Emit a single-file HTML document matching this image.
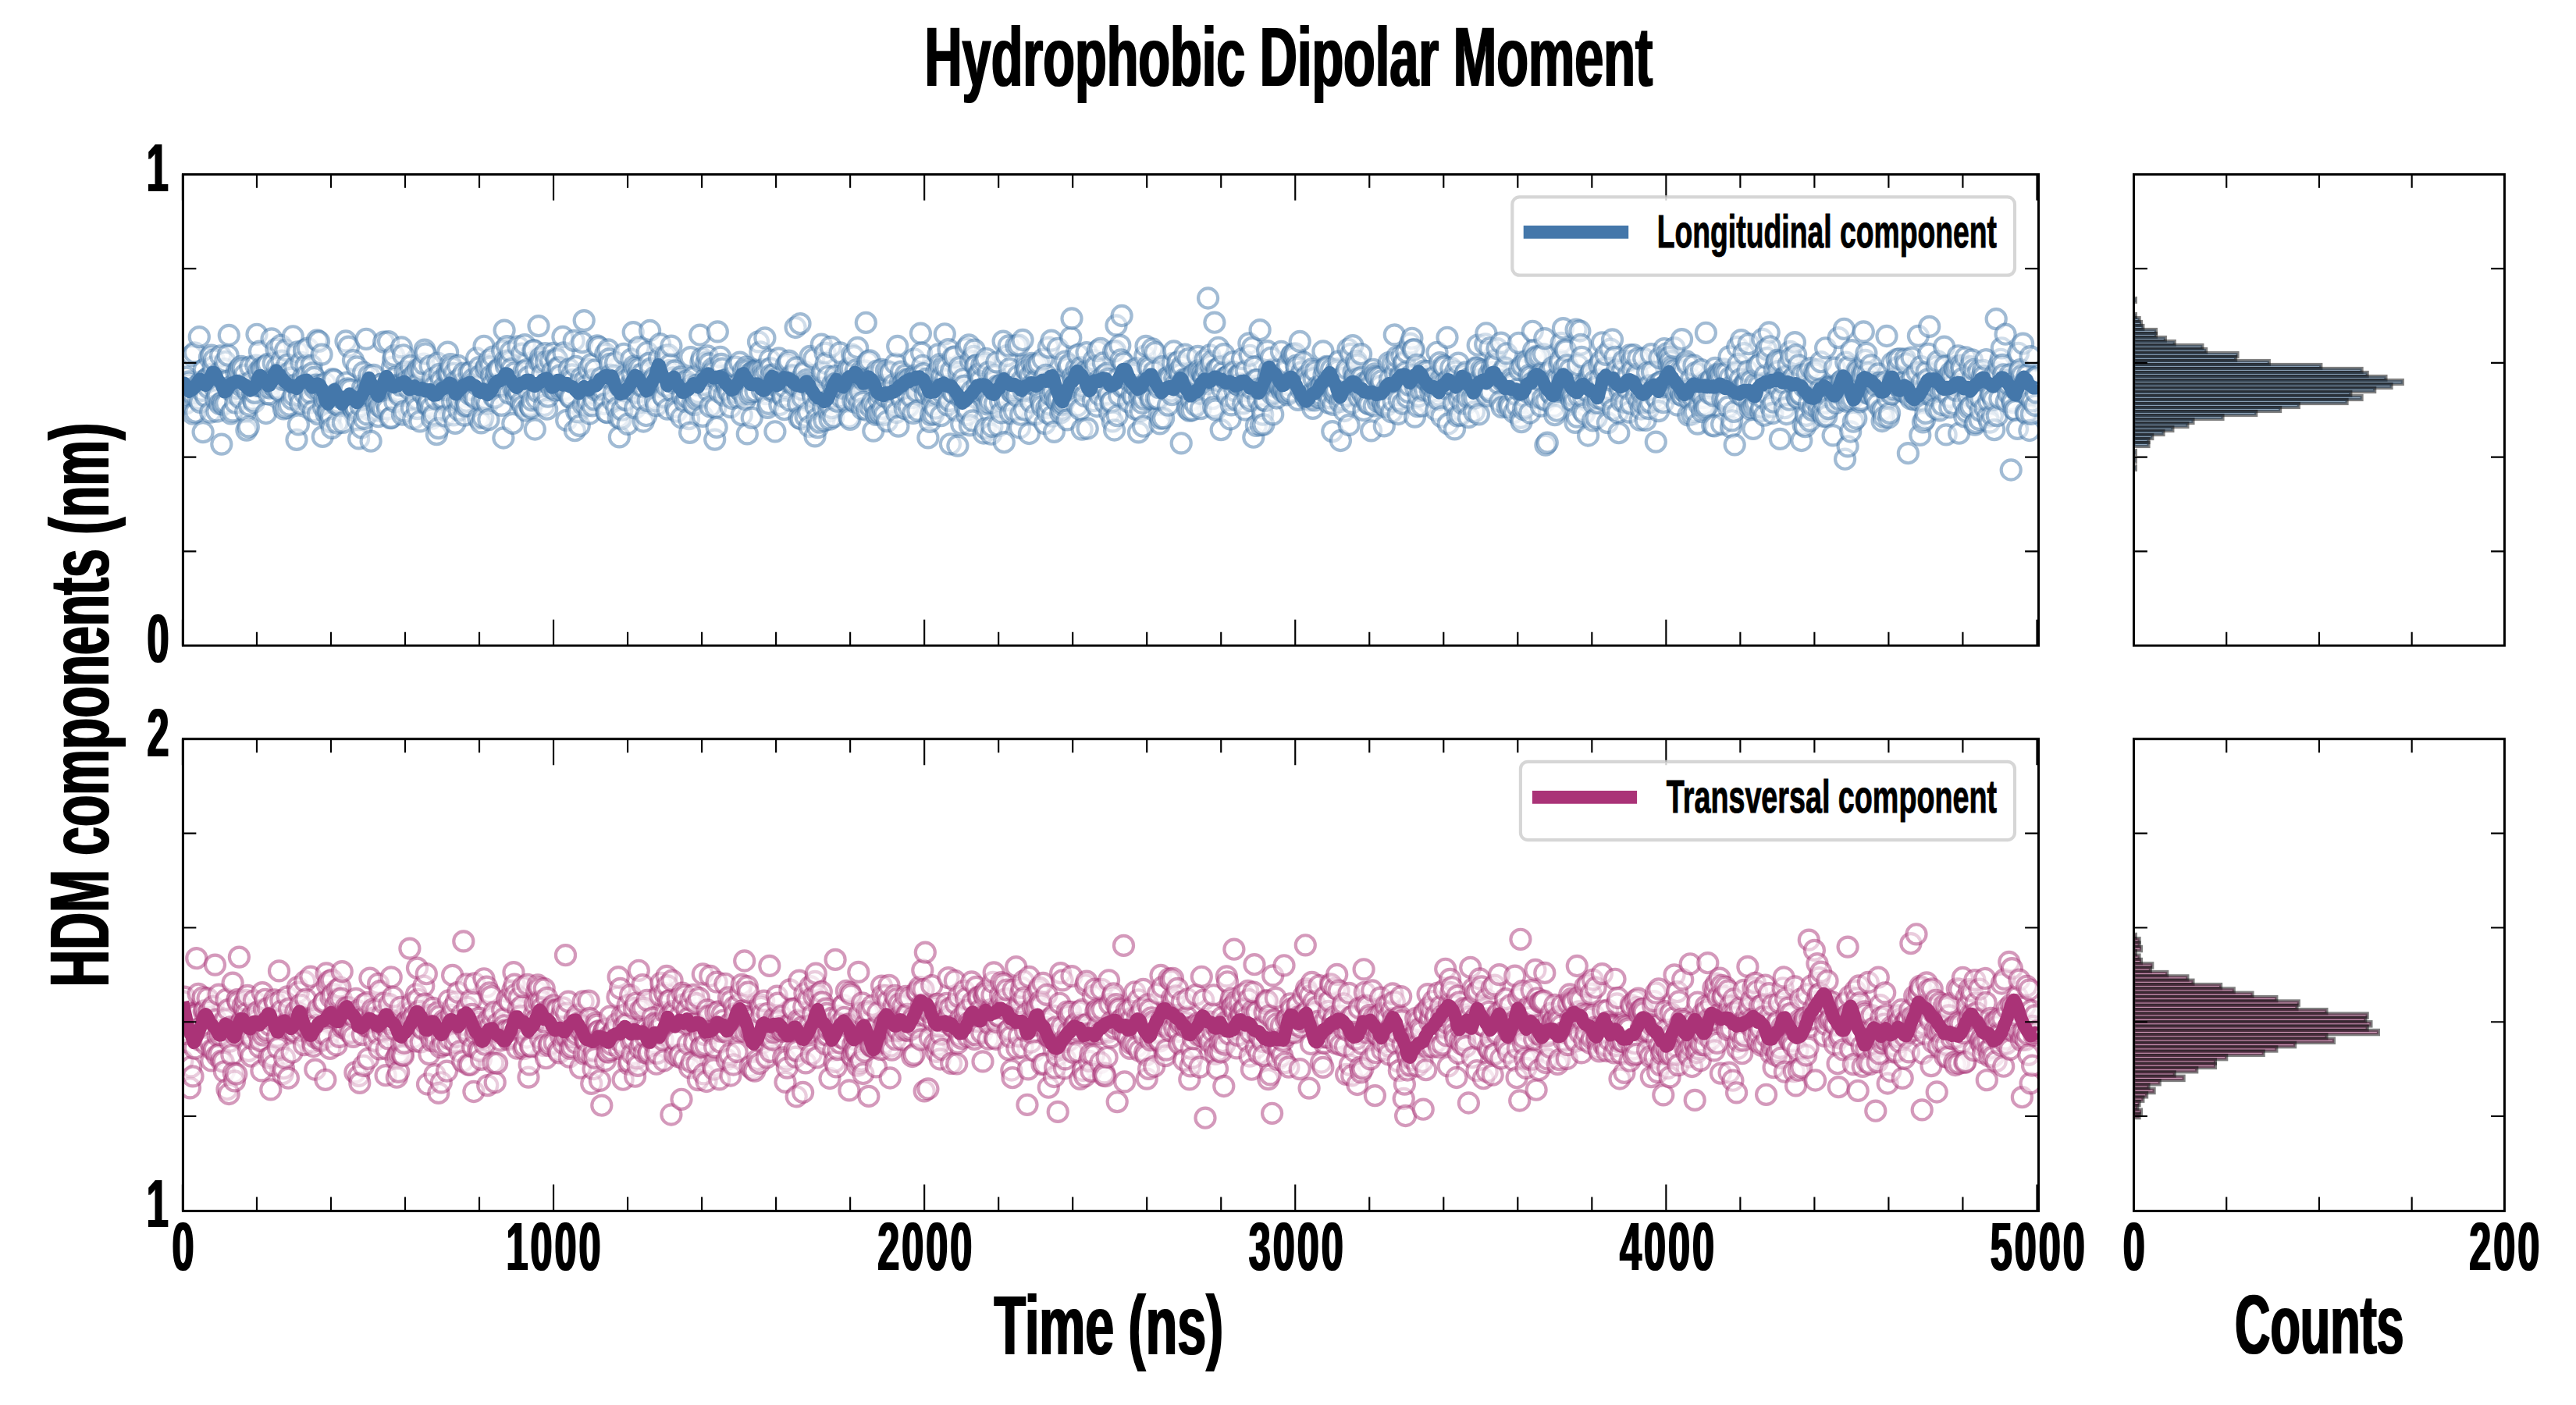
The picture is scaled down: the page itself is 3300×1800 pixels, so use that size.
<!DOCTYPE html>
<html><head><meta charset="utf-8"><title>Hydrophobic Dipolar Moment</title>
<style>html,body{margin:0;padding:0;background:#fff}body{width:3300px;height:1800px;overflow:hidden}svg{display:block}</style></head>
<body>
<svg width="3300" height="1800" viewBox="0 0 3300 1800" font-family="'Liberation Sans', sans-serif" font-weight="bold" fill="#000">
<rect width="3300" height="1800" fill="#fff"/>
<defs>
<clipPath id="c1"><rect x="233.95" y="223.3" width="2377.55" height="603.8499999999999"/></clipPath>
<clipPath id="c2"><rect x="233.95" y="946.9" width="2377.55" height="603.9"/></clipPath>
<clipPath id="c3"><rect x="2733.5" y="223.3" width="474.9000000000001" height="603.8499999999999"/></clipPath>
<clipPath id="c4"><rect x="2733.5" y="946.9" width="474.9000000000001" height="603.9"/></clipPath>
<filter id="dx" x="-2%" y="-10%" width="104%" height="120%"><feMorphology operator="dilate" radius="1 0"/></filter>
<filter id="dy" x="-10%" y="-2%" width="120%" height="104%"><feMorphology operator="dilate" radius="0 1"/></filter>
</defs>
<g clip-path="url(#c1)" fill="#fff" fill-opacity="0.5" stroke="#4477AA" stroke-opacity="0.5" stroke-width="4.17">
<circle cx="233.9" cy="509.2" r="12.55"/><circle cx="235.1" cy="508.6" r="12.55"/><circle cx="236.3" cy="495.6" r="12.55"/><circle cx="237.5" cy="517.4" r="12.55"/><circle cx="238.7" cy="483.2" r="12.55"/><circle cx="239.9" cy="515.8" r="12.55"/><circle cx="241.1" cy="491.9" r="12.55"/><circle cx="242.3" cy="488.9" r="12.55"/><circle cx="243.5" cy="507.1" r="12.55"/><circle cx="244.6" cy="502.4" r="12.55"/><circle cx="245.8" cy="455.4" r="12.55"/><circle cx="247.0" cy="530.2" r="12.55"/><circle cx="248.2" cy="506.4" r="12.55"/><circle cx="249.4" cy="451.8" r="12.55"/><circle cx="250.6" cy="528.2" r="12.55"/><circle cx="251.8" cy="494.8" r="12.55"/><circle cx="253.0" cy="500.1" r="12.55"/><circle cx="254.1" cy="511.6" r="12.55"/><circle cx="255.3" cy="431.7" r="12.55"/><circle cx="256.5" cy="515.4" r="12.55"/><circle cx="257.7" cy="489.0" r="12.55"/><circle cx="258.9" cy="500.3" r="12.55"/><circle cx="260.1" cy="553.6" r="12.55"/><circle cx="261.3" cy="473.5" r="12.55"/><circle cx="262.5" cy="488.1" r="12.55"/><circle cx="263.6" cy="507.7" r="12.55"/><circle cx="264.8" cy="485.2" r="12.55"/><circle cx="266.0" cy="484.7" r="12.55"/><circle cx="267.2" cy="496.6" r="12.55"/><circle cx="268.4" cy="458.1" r="12.55"/><circle cx="269.6" cy="528.2" r="12.55"/><circle cx="270.8" cy="455.1" r="12.55"/><circle cx="272.0" cy="479.4" r="12.55"/><circle cx="273.1" cy="469.8" r="12.55"/><circle cx="274.3" cy="460.8" r="12.55"/><circle cx="275.5" cy="497.3" r="12.55"/><circle cx="276.7" cy="511.8" r="12.55"/><circle cx="277.9" cy="527.1" r="12.55"/><circle cx="279.1" cy="506.2" r="12.55"/><circle cx="280.3" cy="478.2" r="12.55"/><circle cx="281.5" cy="517.4" r="12.55"/><circle cx="282.6" cy="456.0" r="12.55"/><circle cx="283.8" cy="569.1" r="12.55"/><circle cx="285.0" cy="515.1" r="12.55"/><circle cx="286.2" cy="518.4" r="12.55"/><circle cx="287.4" cy="472.6" r="12.55"/><circle cx="288.6" cy="463.3" r="12.55"/><circle cx="289.8" cy="516.6" r="12.55"/><circle cx="291.0" cy="488.4" r="12.55"/><circle cx="292.1" cy="455.2" r="12.55"/><circle cx="293.3" cy="429.5" r="12.55"/><circle cx="294.5" cy="499.1" r="12.55"/><circle cx="295.7" cy="529.8" r="12.55"/><circle cx="296.9" cy="494.9" r="12.55"/><circle cx="298.1" cy="526.8" r="12.55"/><circle cx="299.3" cy="498.6" r="12.55"/><circle cx="300.5" cy="504.4" r="12.55"/><circle cx="301.7" cy="516.2" r="12.55"/><circle cx="302.8" cy="477.5" r="12.55"/><circle cx="304.0" cy="497.3" r="12.55"/><circle cx="305.2" cy="478.0" r="12.55"/><circle cx="306.4" cy="472.7" r="12.55"/><circle cx="307.6" cy="509.9" r="12.55"/><circle cx="308.8" cy="469.3" r="12.55"/><circle cx="310.0" cy="494.9" r="12.55"/><circle cx="311.2" cy="472.2" r="12.55"/><circle cx="312.3" cy="492.3" r="12.55"/><circle cx="313.5" cy="480.2" r="12.55"/><circle cx="314.7" cy="527.5" r="12.55"/><circle cx="315.9" cy="551.1" r="12.55"/><circle cx="317.1" cy="501.4" r="12.55"/><circle cx="318.3" cy="546.9" r="12.55"/><circle cx="319.5" cy="519.4" r="12.55"/><circle cx="320.7" cy="469.9" r="12.55"/><circle cx="321.8" cy="488.9" r="12.55"/><circle cx="323.0" cy="502.1" r="12.55"/><circle cx="324.2" cy="512.1" r="12.55"/><circle cx="325.4" cy="515.4" r="12.55"/><circle cx="326.6" cy="503.3" r="12.55"/><circle cx="327.8" cy="468.1" r="12.55"/><circle cx="329.0" cy="428.3" r="12.55"/><circle cx="330.2" cy="494.4" r="12.55"/><circle cx="331.3" cy="475.8" r="12.55"/><circle cx="332.5" cy="450.2" r="12.55"/><circle cx="333.7" cy="494.8" r="12.55"/><circle cx="334.9" cy="471.3" r="12.55"/><circle cx="336.1" cy="473.6" r="12.55"/><circle cx="337.3" cy="494.1" r="12.55"/><circle cx="338.5" cy="496.7" r="12.55"/><circle cx="339.7" cy="469.7" r="12.55"/><circle cx="340.8" cy="529.5" r="12.55"/><circle cx="342.0" cy="468.4" r="12.55"/><circle cx="343.2" cy="466.3" r="12.55"/><circle cx="344.4" cy="504.9" r="12.55"/><circle cx="345.6" cy="497.0" r="12.55"/><circle cx="346.8" cy="492.3" r="12.55"/><circle cx="348.0" cy="434.0" r="12.55"/><circle cx="349.2" cy="485.1" r="12.55"/><circle cx="350.3" cy="465.6" r="12.55"/><circle cx="351.5" cy="487.7" r="12.55"/><circle cx="352.7" cy="497.0" r="12.55"/><circle cx="353.9" cy="447.1" r="12.55"/><circle cx="355.1" cy="470.1" r="12.55"/><circle cx="356.3" cy="498.1" r="12.55"/><circle cx="357.5" cy="478.4" r="12.55"/><circle cx="358.7" cy="501.2" r="12.55"/><circle cx="359.9" cy="442.3" r="12.55"/><circle cx="361.0" cy="462.2" r="12.55"/><circle cx="362.2" cy="486.5" r="12.55"/><circle cx="363.4" cy="523.9" r="12.55"/><circle cx="364.6" cy="479.8" r="12.55"/><circle cx="365.8" cy="448.5" r="12.55"/><circle cx="367.0" cy="522.5" r="12.55"/><circle cx="368.2" cy="467.3" r="12.55"/><circle cx="369.4" cy="488.0" r="12.55"/><circle cx="370.5" cy="519.2" r="12.55"/><circle cx="371.7" cy="476.9" r="12.55"/><circle cx="372.9" cy="484.1" r="12.55"/><circle cx="374.1" cy="511.3" r="12.55"/><circle cx="375.3" cy="430.8" r="12.55"/><circle cx="376.5" cy="506.4" r="12.55"/><circle cx="377.7" cy="470.6" r="12.55"/><circle cx="378.9" cy="492.9" r="12.55"/><circle cx="380.0" cy="563.3" r="12.55"/><circle cx="381.2" cy="450.8" r="12.55"/><circle cx="382.4" cy="543.9" r="12.55"/><circle cx="383.6" cy="506.6" r="12.55"/><circle cx="384.8" cy="517.0" r="12.55"/><circle cx="386.0" cy="464.4" r="12.55"/><circle cx="387.2" cy="489.3" r="12.55"/><circle cx="388.4" cy="483.5" r="12.55"/><circle cx="389.5" cy="448.7" r="12.55"/><circle cx="390.7" cy="504.3" r="12.55"/><circle cx="391.9" cy="468.3" r="12.55"/><circle cx="393.1" cy="481.1" r="12.55"/><circle cx="394.3" cy="446.1" r="12.55"/><circle cx="395.5" cy="516.5" r="12.55"/><circle cx="396.7" cy="511.5" r="12.55"/><circle cx="397.9" cy="503.4" r="12.55"/><circle cx="399.0" cy="468.2" r="12.55"/><circle cx="400.2" cy="478.0" r="12.55"/><circle cx="401.4" cy="526.7" r="12.55"/><circle cx="402.6" cy="483.4" r="12.55"/><circle cx="403.8" cy="498.2" r="12.55"/><circle cx="405.0" cy="493.1" r="12.55"/><circle cx="406.2" cy="436.0" r="12.55"/><circle cx="407.4" cy="530.7" r="12.55"/><circle cx="408.5" cy="437.3" r="12.55"/><circle cx="409.7" cy="499.4" r="12.55"/><circle cx="410.9" cy="493.6" r="12.55"/><circle cx="412.1" cy="454.1" r="12.55"/><circle cx="413.3" cy="559.4" r="12.55"/><circle cx="414.5" cy="521.5" r="12.55"/><circle cx="415.7" cy="511.7" r="12.55"/><circle cx="416.9" cy="491.0" r="12.55"/><circle cx="418.1" cy="530.0" r="12.55"/><circle cx="419.2" cy="511.3" r="12.55"/><circle cx="420.4" cy="527.1" r="12.55"/><circle cx="421.6" cy="528.3" r="12.55"/><circle cx="422.8" cy="540.5" r="12.55"/><circle cx="424.0" cy="533.1" r="12.55"/><circle cx="425.2" cy="548.4" r="12.55"/><circle cx="426.4" cy="485.6" r="12.55"/><circle cx="427.6" cy="486.9" r="12.55"/><circle cx="428.7" cy="515.5" r="12.55"/><circle cx="429.9" cy="517.6" r="12.55"/><circle cx="431.1" cy="504.3" r="12.55"/><circle cx="432.3" cy="542.1" r="12.55"/><circle cx="433.5" cy="515.6" r="12.55"/><circle cx="434.7" cy="519.8" r="12.55"/><circle cx="435.9" cy="509.3" r="12.55"/><circle cx="437.1" cy="508.2" r="12.55"/><circle cx="438.2" cy="505.1" r="12.55"/><circle cx="439.4" cy="541.3" r="12.55"/><circle cx="440.6" cy="499.4" r="12.55"/><circle cx="441.8" cy="500.1" r="12.55"/><circle cx="443.0" cy="437.0" r="12.55"/><circle cx="444.2" cy="490.1" r="12.55"/><circle cx="445.4" cy="497.8" r="12.55"/><circle cx="446.6" cy="444.1" r="12.55"/><circle cx="447.7" cy="516.0" r="12.55"/><circle cx="448.9" cy="499.5" r="12.55"/><circle cx="450.1" cy="514.1" r="12.55"/><circle cx="451.3" cy="521.4" r="12.55"/><circle cx="452.5" cy="461.6" r="12.55"/><circle cx="453.7" cy="525.7" r="12.55"/><circle cx="454.9" cy="520.9" r="12.55"/><circle cx="456.1" cy="523.1" r="12.55"/><circle cx="457.2" cy="469.9" r="12.55"/><circle cx="458.4" cy="538.1" r="12.55"/><circle cx="459.6" cy="561.9" r="12.55"/><circle cx="460.8" cy="507.1" r="12.55"/><circle cx="462.0" cy="520.0" r="12.55"/><circle cx="463.2" cy="547.8" r="12.55"/><circle cx="464.4" cy="497.4" r="12.55"/><circle cx="465.6" cy="477.1" r="12.55"/><circle cx="466.7" cy="536.5" r="12.55"/><circle cx="467.9" cy="503.7" r="12.55"/><circle cx="469.1" cy="434.3" r="12.55"/><circle cx="470.3" cy="530.9" r="12.55"/><circle cx="471.5" cy="492.0" r="12.55"/><circle cx="472.7" cy="481.4" r="12.55"/><circle cx="473.9" cy="496.4" r="12.55"/><circle cx="475.1" cy="565.2" r="12.55"/><circle cx="476.3" cy="500.2" r="12.55"/><circle cx="477.4" cy="501.3" r="12.55"/><circle cx="478.6" cy="480.4" r="12.55"/><circle cx="479.8" cy="495.3" r="12.55"/><circle cx="481.0" cy="513.3" r="12.55"/><circle cx="482.2" cy="518.2" r="12.55"/><circle cx="483.4" cy="525.9" r="12.55"/><circle cx="484.6" cy="533.7" r="12.55"/><circle cx="485.8" cy="516.0" r="12.55"/><circle cx="486.9" cy="521.0" r="12.55"/><circle cx="488.1" cy="492.4" r="12.55"/><circle cx="489.3" cy="491.8" r="12.55"/><circle cx="490.5" cy="523.7" r="12.55"/><circle cx="491.7" cy="438.1" r="12.55"/><circle cx="492.9" cy="497.4" r="12.55"/><circle cx="494.1" cy="500.8" r="12.55"/><circle cx="495.3" cy="517.6" r="12.55"/><circle cx="496.4" cy="523.9" r="12.55"/><circle cx="497.6" cy="437.7" r="12.55"/><circle cx="498.8" cy="497.4" r="12.55"/><circle cx="500.0" cy="535.7" r="12.55"/><circle cx="501.2" cy="535.1" r="12.55"/><circle cx="502.4" cy="470.5" r="12.55"/><circle cx="503.6" cy="460.5" r="12.55"/><circle cx="504.8" cy="455.6" r="12.55"/><circle cx="505.9" cy="514.7" r="12.55"/><circle cx="507.1" cy="483.0" r="12.55"/><circle cx="508.3" cy="493.5" r="12.55"/><circle cx="509.5" cy="500.2" r="12.55"/><circle cx="510.7" cy="503.5" r="12.55"/><circle cx="511.9" cy="506.8" r="12.55"/><circle cx="513.1" cy="493.6" r="12.55"/><circle cx="514.3" cy="444.9" r="12.55"/><circle cx="515.4" cy="531.1" r="12.55"/><circle cx="516.6" cy="454.8" r="12.55"/><circle cx="517.8" cy="526.8" r="12.55"/><circle cx="519.0" cy="476.2" r="12.55"/><circle cx="520.2" cy="489.1" r="12.55"/><circle cx="521.4" cy="480.8" r="12.55"/><circle cx="522.6" cy="486.8" r="12.55"/><circle cx="523.8" cy="497.8" r="12.55"/><circle cx="524.9" cy="491.0" r="12.55"/><circle cx="526.1" cy="468.7" r="12.55"/><circle cx="527.3" cy="522.5" r="12.55"/><circle cx="528.5" cy="482.1" r="12.55"/><circle cx="529.7" cy="536.4" r="12.55"/><circle cx="530.9" cy="494.5" r="12.55"/><circle cx="532.1" cy="478.5" r="12.55"/><circle cx="533.3" cy="510.9" r="12.55"/><circle cx="534.5" cy="523.6" r="12.55"/><circle cx="535.6" cy="473.2" r="12.55"/><circle cx="536.8" cy="490.8" r="12.55"/><circle cx="538.0" cy="539.8" r="12.55"/><circle cx="539.2" cy="471.5" r="12.55"/><circle cx="540.4" cy="474.8" r="12.55"/><circle cx="541.6" cy="504.5" r="12.55"/><circle cx="542.8" cy="466.1" r="12.55"/><circle cx="544.0" cy="448.1" r="12.55"/><circle cx="545.1" cy="453.0" r="12.55"/><circle cx="546.3" cy="511.0" r="12.55"/><circle cx="547.5" cy="519.1" r="12.55"/><circle cx="548.7" cy="517.9" r="12.55"/><circle cx="549.9" cy="512.6" r="12.55"/><circle cx="551.1" cy="468.8" r="12.55"/><circle cx="552.3" cy="522.3" r="12.55"/><circle cx="553.5" cy="536.2" r="12.55"/><circle cx="554.6" cy="484.7" r="12.55"/><circle cx="555.8" cy="531.3" r="12.55"/><circle cx="557.0" cy="495.0" r="12.55"/><circle cx="558.2" cy="510.8" r="12.55"/><circle cx="559.4" cy="556.6" r="12.55"/><circle cx="560.6" cy="465.1" r="12.55"/><circle cx="561.8" cy="548.6" r="12.55"/><circle cx="563.0" cy="479.5" r="12.55"/><circle cx="564.1" cy="500.5" r="12.55"/><circle cx="565.3" cy="487.3" r="12.55"/><circle cx="566.5" cy="511.5" r="12.55"/><circle cx="567.7" cy="509.8" r="12.55"/><circle cx="568.9" cy="495.9" r="12.55"/><circle cx="570.1" cy="533.0" r="12.55"/><circle cx="571.3" cy="499.7" r="12.55"/><circle cx="572.5" cy="477.9" r="12.55"/><circle cx="573.6" cy="451.2" r="12.55"/><circle cx="574.8" cy="478.4" r="12.55"/><circle cx="576.0" cy="478.5" r="12.55"/><circle cx="577.2" cy="466.7" r="12.55"/><circle cx="578.4" cy="470.6" r="12.55"/><circle cx="579.6" cy="514.6" r="12.55"/><circle cx="580.8" cy="531.9" r="12.55"/><circle cx="582.0" cy="478.3" r="12.55"/><circle cx="583.1" cy="542.3" r="12.55"/><circle cx="584.3" cy="488.3" r="12.55"/><circle cx="585.5" cy="513.6" r="12.55"/><circle cx="586.7" cy="468.4" r="12.55"/><circle cx="587.9" cy="525.3" r="12.55"/><circle cx="589.1" cy="512.7" r="12.55"/><circle cx="590.3" cy="484.2" r="12.55"/><circle cx="591.5" cy="497.3" r="12.55"/><circle cx="592.7" cy="491.3" r="12.55"/><circle cx="593.8" cy="478.1" r="12.55"/><circle cx="595.0" cy="532.1" r="12.55"/><circle cx="596.2" cy="520.3" r="12.55"/><circle cx="597.4" cy="514.4" r="12.55"/><circle cx="598.6" cy="519.7" r="12.55"/><circle cx="599.8" cy="493.9" r="12.55"/><circle cx="601.0" cy="477.7" r="12.55"/><circle cx="602.2" cy="505.4" r="12.55"/><circle cx="603.3" cy="476.6" r="12.55"/><circle cx="604.5" cy="499.6" r="12.55"/><circle cx="605.7" cy="486.0" r="12.55"/><circle cx="606.9" cy="507.6" r="12.55"/><circle cx="608.1" cy="490.0" r="12.55"/><circle cx="609.3" cy="510.2" r="12.55"/><circle cx="610.5" cy="459.0" r="12.55"/><circle cx="611.7" cy="493.3" r="12.55"/><circle cx="612.8" cy="535.9" r="12.55"/><circle cx="614.0" cy="470.7" r="12.55"/><circle cx="615.2" cy="481.2" r="12.55"/><circle cx="616.4" cy="541.9" r="12.55"/><circle cx="617.6" cy="514.3" r="12.55"/><circle cx="618.8" cy="535.2" r="12.55"/><circle cx="620.0" cy="443.3" r="12.55"/><circle cx="621.2" cy="510.8" r="12.55"/><circle cx="622.3" cy="472.5" r="12.55"/><circle cx="623.5" cy="469.0" r="12.55"/><circle cx="624.7" cy="517.2" r="12.55"/><circle cx="625.9" cy="537.7" r="12.55"/><circle cx="627.1" cy="461.3" r="12.55"/><circle cx="628.3" cy="469.9" r="12.55"/><circle cx="629.5" cy="481.4" r="12.55"/><circle cx="630.7" cy="493.0" r="12.55"/><circle cx="631.8" cy="457.2" r="12.55"/><circle cx="633.0" cy="509.2" r="12.55"/><circle cx="634.2" cy="509.1" r="12.55"/><circle cx="635.4" cy="479.8" r="12.55"/><circle cx="636.6" cy="474.7" r="12.55"/><circle cx="637.8" cy="492.5" r="12.55"/><circle cx="639.0" cy="472.1" r="12.55"/><circle cx="640.2" cy="473.1" r="12.55"/><circle cx="641.3" cy="495.1" r="12.55"/><circle cx="642.5" cy="519.4" r="12.55"/><circle cx="643.7" cy="449.8" r="12.55"/><circle cx="644.9" cy="561.0" r="12.55"/><circle cx="646.1" cy="423.1" r="12.55"/><circle cx="647.3" cy="462.3" r="12.55"/><circle cx="648.5" cy="469.2" r="12.55"/><circle cx="649.7" cy="443.7" r="12.55"/><circle cx="650.9" cy="461.8" r="12.55"/><circle cx="652.0" cy="503.9" r="12.55"/><circle cx="653.2" cy="463.2" r="12.55"/><circle cx="654.4" cy="450.6" r="12.55"/><circle cx="655.6" cy="472.4" r="12.55"/><circle cx="656.8" cy="542.4" r="12.55"/><circle cx="658.0" cy="498.1" r="12.55"/><circle cx="659.2" cy="477.8" r="12.55"/><circle cx="660.4" cy="500.2" r="12.55"/><circle cx="661.5" cy="508.9" r="12.55"/><circle cx="662.7" cy="498.9" r="12.55"/><circle cx="663.9" cy="444.0" r="12.55"/><circle cx="665.1" cy="502.9" r="12.55"/><circle cx="666.3" cy="487.4" r="12.55"/><circle cx="667.5" cy="515.6" r="12.55"/><circle cx="668.7" cy="453.2" r="12.55"/><circle cx="669.9" cy="520.4" r="12.55"/><circle cx="671.0" cy="475.9" r="12.55"/><circle cx="672.2" cy="441.7" r="12.55"/><circle cx="673.4" cy="526.0" r="12.55"/><circle cx="674.6" cy="473.7" r="12.55"/><circle cx="675.8" cy="498.7" r="12.55"/><circle cx="677.0" cy="482.8" r="12.55"/><circle cx="678.2" cy="519.3" r="12.55"/><circle cx="679.4" cy="521.2" r="12.55"/><circle cx="680.5" cy="523.2" r="12.55"/><circle cx="681.7" cy="512.9" r="12.55"/><circle cx="682.9" cy="449.2" r="12.55"/><circle cx="684.1" cy="448.8" r="12.55"/><circle cx="685.3" cy="550.0" r="12.55"/><circle cx="686.5" cy="472.5" r="12.55"/><circle cx="687.7" cy="511.2" r="12.55"/><circle cx="688.9" cy="501.8" r="12.55"/><circle cx="690.0" cy="417.6" r="12.55"/><circle cx="691.2" cy="463.8" r="12.55"/><circle cx="692.4" cy="458.4" r="12.55"/><circle cx="693.6" cy="463.5" r="12.55"/><circle cx="694.8" cy="479.5" r="12.55"/><circle cx="696.0" cy="503.7" r="12.55"/><circle cx="697.2" cy="519.5" r="12.55"/><circle cx="698.4" cy="452.6" r="12.55"/><circle cx="699.5" cy="463.5" r="12.55"/><circle cx="700.7" cy="524.1" r="12.55"/><circle cx="701.9" cy="508.1" r="12.55"/><circle cx="703.1" cy="491.3" r="12.55"/><circle cx="704.3" cy="488.6" r="12.55"/><circle cx="705.5" cy="462.1" r="12.55"/><circle cx="706.7" cy="497.1" r="12.55"/><circle cx="707.9" cy="476.3" r="12.55"/><circle cx="709.0" cy="452.4" r="12.55"/><circle cx="710.2" cy="494.7" r="12.55"/><circle cx="711.4" cy="500.0" r="12.55"/><circle cx="712.6" cy="459.4" r="12.55"/><circle cx="713.8" cy="460.6" r="12.55"/><circle cx="715.0" cy="470.6" r="12.55"/><circle cx="716.2" cy="471.2" r="12.55"/><circle cx="717.4" cy="480.9" r="12.55"/><circle cx="718.6" cy="499.8" r="12.55"/><circle cx="719.7" cy="496.1" r="12.55"/><circle cx="720.9" cy="431.4" r="12.55"/><circle cx="722.1" cy="452.0" r="12.55"/><circle cx="723.3" cy="497.5" r="12.55"/><circle cx="724.5" cy="499.3" r="12.55"/><circle cx="725.7" cy="538.4" r="12.55"/><circle cx="726.9" cy="487.7" r="12.55"/><circle cx="728.1" cy="504.7" r="12.55"/><circle cx="729.2" cy="473.0" r="12.55"/><circle cx="730.4" cy="509.3" r="12.55"/><circle cx="731.6" cy="509.5" r="12.55"/><circle cx="732.8" cy="479.9" r="12.55"/><circle cx="734.0" cy="486.7" r="12.55"/><circle cx="735.2" cy="436.4" r="12.55"/><circle cx="736.4" cy="551.7" r="12.55"/><circle cx="737.6" cy="469.5" r="12.55"/><circle cx="738.7" cy="527.3" r="12.55"/><circle cx="739.9" cy="493.4" r="12.55"/><circle cx="741.1" cy="527.8" r="12.55"/><circle cx="742.3" cy="545.4" r="12.55"/><circle cx="743.5" cy="491.4" r="12.55"/><circle cx="744.7" cy="484.2" r="12.55"/><circle cx="745.9" cy="438.6" r="12.55"/><circle cx="747.1" cy="518.4" r="12.55"/><circle cx="748.2" cy="410.6" r="12.55"/><circle cx="749.4" cy="487.3" r="12.55"/><circle cx="750.6" cy="494.6" r="12.55"/><circle cx="751.8" cy="519.9" r="12.55"/><circle cx="753.0" cy="513.2" r="12.55"/><circle cx="754.2" cy="472.7" r="12.55"/><circle cx="755.4" cy="530.0" r="12.55"/><circle cx="756.6" cy="502.9" r="12.55"/><circle cx="757.7" cy="466.6" r="12.55"/><circle cx="758.9" cy="519.8" r="12.55"/><circle cx="760.1" cy="486.2" r="12.55"/><circle cx="761.3" cy="511.9" r="12.55"/><circle cx="762.5" cy="473.9" r="12.55"/><circle cx="763.7" cy="500.0" r="12.55"/><circle cx="764.9" cy="442.8" r="12.55"/><circle cx="766.1" cy="499.0" r="12.55"/><circle cx="767.2" cy="444.7" r="12.55"/><circle cx="768.4" cy="491.7" r="12.55"/><circle cx="769.6" cy="496.2" r="12.55"/><circle cx="770.8" cy="483.7" r="12.55"/><circle cx="772.0" cy="506.9" r="12.55"/><circle cx="773.2" cy="499.0" r="12.55"/><circle cx="774.4" cy="517.7" r="12.55"/><circle cx="775.6" cy="453.1" r="12.55"/><circle cx="776.8" cy="528.0" r="12.55"/><circle cx="777.9" cy="528.7" r="12.55"/><circle cx="779.1" cy="447.9" r="12.55"/><circle cx="780.3" cy="459.9" r="12.55"/><circle cx="781.5" cy="466.5" r="12.55"/><circle cx="782.7" cy="480.3" r="12.55"/><circle cx="783.9" cy="486.8" r="12.55"/><circle cx="785.1" cy="513.5" r="12.55"/><circle cx="786.3" cy="503.4" r="12.55"/><circle cx="787.4" cy="481.6" r="12.55"/><circle cx="788.6" cy="464.5" r="12.55"/><circle cx="789.8" cy="523.0" r="12.55"/><circle cx="791.0" cy="489.6" r="12.55"/><circle cx="792.2" cy="534.8" r="12.55"/><circle cx="793.4" cy="559.9" r="12.55"/><circle cx="794.6" cy="495.8" r="12.55"/><circle cx="795.8" cy="536.6" r="12.55"/><circle cx="796.9" cy="525.2" r="12.55"/><circle cx="798.1" cy="486.5" r="12.55"/><circle cx="799.3" cy="453.3" r="12.55"/><circle cx="800.5" cy="481.3" r="12.55"/><circle cx="801.7" cy="512.4" r="12.55"/><circle cx="802.9" cy="487.2" r="12.55"/><circle cx="804.1" cy="543.3" r="12.55"/><circle cx="805.3" cy="497.8" r="12.55"/><circle cx="806.4" cy="494.0" r="12.55"/><circle cx="807.6" cy="498.4" r="12.55"/><circle cx="808.8" cy="460.2" r="12.55"/><circle cx="810.0" cy="479.1" r="12.55"/><circle cx="811.2" cy="425.6" r="12.55"/><circle cx="812.4" cy="469.2" r="12.55"/><circle cx="813.6" cy="522.9" r="12.55"/><circle cx="814.8" cy="503.1" r="12.55"/><circle cx="815.9" cy="471.1" r="12.55"/><circle cx="817.1" cy="480.4" r="12.55"/><circle cx="818.3" cy="444.8" r="12.55"/><circle cx="819.5" cy="472.4" r="12.55"/><circle cx="820.7" cy="511.8" r="12.55"/><circle cx="821.9" cy="494.9" r="12.55"/><circle cx="823.1" cy="478.6" r="12.55"/><circle cx="824.3" cy="540.0" r="12.55"/><circle cx="825.4" cy="496.0" r="12.55"/><circle cx="826.6" cy="488.8" r="12.55"/><circle cx="827.8" cy="532.5" r="12.55"/><circle cx="829.0" cy="451.5" r="12.55"/><circle cx="830.2" cy="513.6" r="12.55"/><circle cx="831.4" cy="465.5" r="12.55"/><circle cx="832.6" cy="423.5" r="12.55"/><circle cx="833.8" cy="472.2" r="12.55"/><circle cx="835.0" cy="491.4" r="12.55"/><circle cx="836.1" cy="487.5" r="12.55"/><circle cx="837.3" cy="489.5" r="12.55"/><circle cx="838.5" cy="483.4" r="12.55"/><circle cx="839.7" cy="513.8" r="12.55"/><circle cx="840.9" cy="519.6" r="12.55"/><circle cx="842.1" cy="489.8" r="12.55"/><circle cx="843.3" cy="489.3" r="12.55"/><circle cx="844.5" cy="458.5" r="12.55"/><circle cx="845.6" cy="440.7" r="12.55"/><circle cx="846.8" cy="491.5" r="12.55"/><circle cx="848.0" cy="478.4" r="12.55"/><circle cx="849.2" cy="506.8" r="12.55"/><circle cx="850.4" cy="508.8" r="12.55"/><circle cx="851.6" cy="465.1" r="12.55"/><circle cx="852.8" cy="455.5" r="12.55"/><circle cx="854.0" cy="495.0" r="12.55"/><circle cx="855.1" cy="524.1" r="12.55"/><circle cx="856.3" cy="454.6" r="12.55"/><circle cx="857.5" cy="474.6" r="12.55"/><circle cx="858.7" cy="466.9" r="12.55"/><circle cx="859.9" cy="443.1" r="12.55"/><circle cx="861.1" cy="500.6" r="12.55"/><circle cx="862.3" cy="483.9" r="12.55"/><circle cx="863.5" cy="490.8" r="12.55"/><circle cx="864.6" cy="475.0" r="12.55"/><circle cx="865.8" cy="521.7" r="12.55"/><circle cx="867.0" cy="527.2" r="12.55"/><circle cx="868.2" cy="489.7" r="12.55"/><circle cx="869.4" cy="486.1" r="12.55"/><circle cx="870.6" cy="486.4" r="12.55"/><circle cx="871.8" cy="482.9" r="12.55"/><circle cx="873.0" cy="535.0" r="12.55"/><circle cx="874.1" cy="507.0" r="12.55"/><circle cx="875.3" cy="490.6" r="12.55"/><circle cx="876.5" cy="493.7" r="12.55"/><circle cx="877.7" cy="514.7" r="12.55"/><circle cx="878.9" cy="488.2" r="12.55"/><circle cx="880.1" cy="509.0" r="12.55"/><circle cx="881.3" cy="498.3" r="12.55"/><circle cx="882.5" cy="536.7" r="12.55"/><circle cx="883.6" cy="554.3" r="12.55"/><circle cx="884.8" cy="457.6" r="12.55"/><circle cx="886.0" cy="493.1" r="12.55"/><circle cx="887.2" cy="516.4" r="12.55"/><circle cx="888.4" cy="483.5" r="12.55"/><circle cx="889.6" cy="518.6" r="12.55"/><circle cx="890.8" cy="506.3" r="12.55"/><circle cx="892.0" cy="511.5" r="12.55"/><circle cx="893.2" cy="493.2" r="12.55"/><circle cx="894.3" cy="503.2" r="12.55"/><circle cx="895.5" cy="508.1" r="12.55"/><circle cx="896.7" cy="429.2" r="12.55"/><circle cx="897.9" cy="463.9" r="12.55"/><circle cx="899.1" cy="458.9" r="12.55"/><circle cx="900.3" cy="533.4" r="12.55"/><circle cx="901.5" cy="492.5" r="12.55"/><circle cx="902.7" cy="492.7" r="12.55"/><circle cx="903.8" cy="485.0" r="12.55"/><circle cx="905.0" cy="464.4" r="12.55"/><circle cx="906.2" cy="456.0" r="12.55"/><circle cx="907.4" cy="500.7" r="12.55"/><circle cx="908.6" cy="466.0" r="12.55"/><circle cx="909.8" cy="520.8" r="12.55"/><circle cx="911.0" cy="481.6" r="12.55"/><circle cx="912.2" cy="478.9" r="12.55"/><circle cx="913.3" cy="471.9" r="12.55"/><circle cx="914.5" cy="475.8" r="12.55"/><circle cx="915.7" cy="563.1" r="12.55"/><circle cx="916.9" cy="522.2" r="12.55"/><circle cx="918.1" cy="547.4" r="12.55"/><circle cx="919.3" cy="424.9" r="12.55"/><circle cx="920.5" cy="488.5" r="12.55"/><circle cx="921.7" cy="502.5" r="12.55"/><circle cx="922.8" cy="457.3" r="12.55"/><circle cx="924.0" cy="466.4" r="12.55"/><circle cx="925.2" cy="472.1" r="12.55"/><circle cx="926.4" cy="487.4" r="12.55"/><circle cx="927.6" cy="506.6" r="12.55"/><circle cx="928.8" cy="487.6" r="12.55"/><circle cx="930.0" cy="487.9" r="12.55"/><circle cx="931.2" cy="494.4" r="12.55"/><circle cx="932.3" cy="501.5" r="12.55"/><circle cx="933.5" cy="484.6" r="12.55"/><circle cx="934.7" cy="502.7" r="12.55"/><circle cx="935.9" cy="521.7" r="12.55"/><circle cx="937.1" cy="484.9" r="12.55"/><circle cx="938.3" cy="510.5" r="12.55"/><circle cx="939.5" cy="490.0" r="12.55"/><circle cx="940.7" cy="493.2" r="12.55"/><circle cx="941.8" cy="470.2" r="12.55"/><circle cx="943.0" cy="470.3" r="12.55"/><circle cx="944.2" cy="503.6" r="12.55"/><circle cx="945.4" cy="509.6" r="12.55"/><circle cx="946.6" cy="498.6" r="12.55"/><circle cx="947.8" cy="464.2" r="12.55"/><circle cx="949.0" cy="489.2" r="12.55"/><circle cx="950.2" cy="531.7" r="12.55"/><circle cx="951.4" cy="503.8" r="12.55"/><circle cx="952.5" cy="474.9" r="12.55"/><circle cx="953.7" cy="485.3" r="12.55"/><circle cx="954.9" cy="511.7" r="12.55"/><circle cx="956.1" cy="470.2" r="12.55"/><circle cx="957.3" cy="555.9" r="12.55"/><circle cx="958.5" cy="473.9" r="12.55"/><circle cx="959.7" cy="504.8" r="12.55"/><circle cx="960.9" cy="478.7" r="12.55"/><circle cx="962.0" cy="501.9" r="12.55"/><circle cx="963.2" cy="535.3" r="12.55"/><circle cx="964.4" cy="476.0" r="12.55"/><circle cx="965.6" cy="476.5" r="12.55"/><circle cx="966.8" cy="483.6" r="12.55"/><circle cx="968.0" cy="501.4" r="12.55"/><circle cx="969.2" cy="474.0" r="12.55"/><circle cx="970.4" cy="475.1" r="12.55"/><circle cx="971.5" cy="437.9" r="12.55"/><circle cx="972.7" cy="475.3" r="12.55"/><circle cx="973.9" cy="450.9" r="12.55"/><circle cx="975.1" cy="480.8" r="12.55"/><circle cx="976.3" cy="499.8" r="12.55"/><circle cx="977.5" cy="473.4" r="12.55"/><circle cx="978.7" cy="481.7" r="12.55"/><circle cx="979.9" cy="432.9" r="12.55"/><circle cx="981.0" cy="504.6" r="12.55"/><circle cx="982.2" cy="474.4" r="12.55"/><circle cx="983.4" cy="522.4" r="12.55"/><circle cx="984.6" cy="517.3" r="12.55"/><circle cx="985.8" cy="461.0" r="12.55"/><circle cx="987.0" cy="471.8" r="12.55"/><circle cx="988.2" cy="480.1" r="12.55"/><circle cx="989.4" cy="501.1" r="12.55"/><circle cx="990.5" cy="499.5" r="12.55"/><circle cx="991.7" cy="480.0" r="12.55"/><circle cx="992.9" cy="552.8" r="12.55"/><circle cx="994.1" cy="484.3" r="12.55"/><circle cx="995.3" cy="495.5" r="12.55"/><circle cx="996.5" cy="491.1" r="12.55"/><circle cx="997.7" cy="459.0" r="12.55"/><circle cx="998.9" cy="518.5" r="12.55"/><circle cx="1000.0" cy="498.5" r="12.55"/><circle cx="1001.2" cy="493.3" r="12.55"/><circle cx="1002.4" cy="507.9" r="12.55"/><circle cx="1003.6" cy="507.8" r="12.55"/><circle cx="1004.8" cy="524.7" r="12.55"/><circle cx="1006.0" cy="496.5" r="12.55"/><circle cx="1007.2" cy="467.7" r="12.55"/><circle cx="1008.4" cy="488.4" r="12.55"/><circle cx="1009.6" cy="465.3" r="12.55"/><circle cx="1010.7" cy="462.1" r="12.55"/><circle cx="1011.9" cy="513.0" r="12.55"/><circle cx="1013.1" cy="487.9" r="12.55"/><circle cx="1014.3" cy="480.5" r="12.55"/><circle cx="1015.5" cy="481.9" r="12.55"/><circle cx="1016.7" cy="494.0" r="12.55"/><circle cx="1017.9" cy="492.5" r="12.55"/><circle cx="1019.1" cy="419.5" r="12.55"/><circle cx="1020.2" cy="471.0" r="12.55"/><circle cx="1021.4" cy="489.1" r="12.55"/><circle cx="1022.6" cy="516.8" r="12.55"/><circle cx="1023.8" cy="535.5" r="12.55"/><circle cx="1025.0" cy="414.7" r="12.55"/><circle cx="1026.2" cy="536.8" r="12.55"/><circle cx="1027.4" cy="499.2" r="12.55"/><circle cx="1028.6" cy="509.7" r="12.55"/><circle cx="1029.7" cy="478.8" r="12.55"/><circle cx="1030.9" cy="476.4" r="12.55"/><circle cx="1032.1" cy="533.7" r="12.55"/><circle cx="1033.3" cy="486.6" r="12.55"/><circle cx="1034.5" cy="491.2" r="12.55"/><circle cx="1035.7" cy="528.0" r="12.55"/><circle cx="1036.9" cy="546.5" r="12.55"/><circle cx="1038.1" cy="456.3" r="12.55"/><circle cx="1039.2" cy="495.2" r="12.55"/><circle cx="1040.4" cy="502.6" r="12.55"/><circle cx="1041.6" cy="508.5" r="12.55"/><circle cx="1042.8" cy="459.4" r="12.55"/><circle cx="1044.0" cy="558.9" r="12.55"/><circle cx="1045.2" cy="520.7" r="12.55"/><circle cx="1046.4" cy="536.4" r="12.55"/><circle cx="1047.6" cy="547.6" r="12.55"/><circle cx="1048.7" cy="507.0" r="12.55"/><circle cx="1049.9" cy="541.1" r="12.55"/><circle cx="1051.1" cy="496.8" r="12.55"/><circle cx="1052.3" cy="441.1" r="12.55"/><circle cx="1053.5" cy="476.9" r="12.55"/><circle cx="1054.7" cy="522.0" r="12.55"/><circle cx="1055.9" cy="538.6" r="12.55"/><circle cx="1057.1" cy="452.2" r="12.55"/><circle cx="1058.2" cy="465.5" r="12.55"/><circle cx="1059.4" cy="514.1" r="12.55"/><circle cx="1060.6" cy="482.3" r="12.55"/><circle cx="1061.8" cy="526.9" r="12.55"/><circle cx="1063.0" cy="537.1" r="12.55"/><circle cx="1064.2" cy="444.4" r="12.55"/><circle cx="1065.4" cy="522.7" r="12.55"/><circle cx="1066.6" cy="492.5" r="12.55"/><circle cx="1067.8" cy="534.2" r="12.55"/><circle cx="1068.9" cy="499.9" r="12.55"/><circle cx="1070.1" cy="481.7" r="12.55"/><circle cx="1071.3" cy="490.8" r="12.55"/><circle cx="1072.5" cy="514.2" r="12.55"/><circle cx="1073.7" cy="495.0" r="12.55"/><circle cx="1074.9" cy="492.3" r="12.55"/><circle cx="1076.1" cy="451.9" r="12.55"/><circle cx="1077.3" cy="508.5" r="12.55"/><circle cx="1078.4" cy="496.9" r="12.55"/><circle cx="1079.6" cy="485.7" r="12.55"/><circle cx="1080.8" cy="497.9" r="12.55"/><circle cx="1082.0" cy="495.2" r="12.55"/><circle cx="1083.2" cy="478.2" r="12.55"/><circle cx="1084.4" cy="514.7" r="12.55"/><circle cx="1085.6" cy="487.5" r="12.55"/><circle cx="1086.8" cy="472.1" r="12.55"/><circle cx="1087.9" cy="534.5" r="12.55"/><circle cx="1089.1" cy="537.3" r="12.55"/><circle cx="1090.3" cy="473.0" r="12.55"/><circle cx="1091.5" cy="454.4" r="12.55"/><circle cx="1092.7" cy="512.7" r="12.55"/><circle cx="1093.9" cy="456.6" r="12.55"/><circle cx="1095.1" cy="515.2" r="12.55"/><circle cx="1096.3" cy="474.2" r="12.55"/><circle cx="1097.4" cy="507.6" r="12.55"/><circle cx="1098.6" cy="445.5" r="12.55"/><circle cx="1099.8" cy="482.7" r="12.55"/><circle cx="1101.0" cy="516.6" r="12.55"/><circle cx="1102.2" cy="502.0" r="12.55"/><circle cx="1103.4" cy="475.9" r="12.55"/><circle cx="1104.6" cy="523.8" r="12.55"/><circle cx="1105.8" cy="515.1" r="12.55"/><circle cx="1106.9" cy="487.8" r="12.55"/><circle cx="1108.1" cy="475.0" r="12.55"/><circle cx="1109.3" cy="413.3" r="12.55"/><circle cx="1110.5" cy="525.4" r="12.55"/><circle cx="1111.7" cy="463.6" r="12.55"/><circle cx="1112.9" cy="484.0" r="12.55"/><circle cx="1114.1" cy="461.9" r="12.55"/><circle cx="1115.3" cy="521.8" r="12.55"/><circle cx="1116.4" cy="484.5" r="12.55"/><circle cx="1117.6" cy="515.9" r="12.55"/><circle cx="1118.8" cy="552.1" r="12.55"/><circle cx="1120.0" cy="481.8" r="12.55"/><circle cx="1121.2" cy="521.4" r="12.55"/><circle cx="1122.4" cy="531.4" r="12.55"/><circle cx="1123.6" cy="475.1" r="12.55"/><circle cx="1124.8" cy="529.9" r="12.55"/><circle cx="1126.0" cy="511.7" r="12.55"/><circle cx="1127.1" cy="504.1" r="12.55"/><circle cx="1128.3" cy="529.7" r="12.55"/><circle cx="1129.5" cy="473.4" r="12.55"/><circle cx="1130.7" cy="523.4" r="12.55"/><circle cx="1131.9" cy="493.6" r="12.55"/><circle cx="1133.1" cy="531.3" r="12.55"/><circle cx="1134.3" cy="508.2" r="12.55"/><circle cx="1135.5" cy="474.8" r="12.55"/><circle cx="1136.6" cy="539.6" r="12.55"/><circle cx="1137.8" cy="501.6" r="12.55"/><circle cx="1139.0" cy="477.3" r="12.55"/><circle cx="1140.2" cy="508.3" r="12.55"/><circle cx="1141.4" cy="477.2" r="12.55"/><circle cx="1142.6" cy="514.9" r="12.55"/><circle cx="1143.8" cy="502.3" r="12.55"/><circle cx="1145.0" cy="492.7" r="12.55"/><circle cx="1146.1" cy="521.0" r="12.55"/><circle cx="1147.3" cy="466.2" r="12.55"/><circle cx="1148.5" cy="528.5" r="12.55"/><circle cx="1149.7" cy="443.5" r="12.55"/><circle cx="1150.9" cy="546.1" r="12.55"/><circle cx="1152.1" cy="504.8" r="12.55"/><circle cx="1153.3" cy="490.4" r="12.55"/><circle cx="1154.5" cy="476.1" r="12.55"/><circle cx="1155.6" cy="511.6" r="12.55"/><circle cx="1156.8" cy="491.2" r="12.55"/><circle cx="1158.0" cy="489.6" r="12.55"/><circle cx="1159.2" cy="523.3" r="12.55"/><circle cx="1160.4" cy="480.2" r="12.55"/><circle cx="1161.6" cy="485.9" r="12.55"/><circle cx="1162.8" cy="504.4" r="12.55"/><circle cx="1164.0" cy="521.1" r="12.55"/><circle cx="1165.1" cy="485.7" r="12.55"/><circle cx="1166.3" cy="493.8" r="12.55"/><circle cx="1167.5" cy="489.4" r="12.55"/><circle cx="1168.7" cy="509.4" r="12.55"/><circle cx="1169.9" cy="529.3" r="12.55"/><circle cx="1171.1" cy="459.8" r="12.55"/><circle cx="1172.3" cy="481.0" r="12.55"/><circle cx="1173.5" cy="483.3" r="12.55"/><circle cx="1174.6" cy="501.7" r="12.55"/><circle cx="1175.8" cy="526.1" r="12.55"/><circle cx="1177.0" cy="482.5" r="12.55"/><circle cx="1178.2" cy="489.9" r="12.55"/><circle cx="1179.4" cy="427.1" r="12.55"/><circle cx="1180.6" cy="452.1" r="12.55"/><circle cx="1181.8" cy="468.5" r="12.55"/><circle cx="1183.0" cy="478.7" r="12.55"/><circle cx="1184.2" cy="494.5" r="12.55"/><circle cx="1185.3" cy="504.7" r="12.55"/><circle cx="1186.5" cy="485.4" r="12.55"/><circle cx="1187.7" cy="496.3" r="12.55"/><circle cx="1188.9" cy="560.9" r="12.55"/><circle cx="1190.1" cy="501.7" r="12.55"/><circle cx="1191.3" cy="540.4" r="12.55"/><circle cx="1192.5" cy="531.6" r="12.55"/><circle cx="1193.7" cy="509.2" r="12.55"/><circle cx="1194.8" cy="518.3" r="12.55"/><circle cx="1196.0" cy="530.3" r="12.55"/><circle cx="1197.2" cy="506.6" r="12.55"/><circle cx="1198.4" cy="523.0" r="12.55"/><circle cx="1199.6" cy="476.9" r="12.55"/><circle cx="1200.8" cy="505.1" r="12.55"/><circle cx="1202.0" cy="454.0" r="12.55"/><circle cx="1203.2" cy="474.0" r="12.55"/><circle cx="1204.3" cy="466.7" r="12.55"/><circle cx="1205.5" cy="532.7" r="12.55"/><circle cx="1206.7" cy="482.4" r="12.55"/><circle cx="1207.9" cy="504.2" r="12.55"/><circle cx="1209.1" cy="468.6" r="12.55"/><circle cx="1210.3" cy="427.8" r="12.55"/><circle cx="1211.5" cy="486.2" r="12.55"/><circle cx="1212.7" cy="470.8" r="12.55"/><circle cx="1213.8" cy="519.0" r="12.55"/><circle cx="1215.0" cy="447.7" r="12.55"/><circle cx="1216.2" cy="513.4" r="12.55"/><circle cx="1217.4" cy="568.8" r="12.55"/><circle cx="1218.6" cy="475.4" r="12.55"/><circle cx="1219.8" cy="501.9" r="12.55"/><circle cx="1221.0" cy="457.9" r="12.55"/><circle cx="1222.2" cy="504.0" r="12.55"/><circle cx="1223.3" cy="457.0" r="12.55"/><circle cx="1224.5" cy="525.9" r="12.55"/><circle cx="1225.7" cy="496.3" r="12.55"/><circle cx="1226.9" cy="571.1" r="12.55"/><circle cx="1228.1" cy="476.4" r="12.55"/><circle cx="1229.3" cy="470.7" r="12.55"/><circle cx="1230.5" cy="509.5" r="12.55"/><circle cx="1231.7" cy="543.6" r="12.55"/><circle cx="1232.8" cy="508.7" r="12.55"/><circle cx="1234.0" cy="485.6" r="12.55"/><circle cx="1235.2" cy="494.3" r="12.55"/><circle cx="1236.4" cy="520.5" r="12.55"/><circle cx="1237.6" cy="446.5" r="12.55"/><circle cx="1238.8" cy="531.5" r="12.55"/><circle cx="1240.0" cy="524.9" r="12.55"/><circle cx="1241.2" cy="441.9" r="12.55"/><circle cx="1242.3" cy="544.9" r="12.55"/><circle cx="1243.5" cy="462.2" r="12.55"/><circle cx="1244.7" cy="501.1" r="12.55"/><circle cx="1245.9" cy="539.0" r="12.55"/><circle cx="1247.1" cy="456.4" r="12.55"/><circle cx="1248.3" cy="448.2" r="12.55"/><circle cx="1249.5" cy="468.6" r="12.55"/><circle cx="1250.7" cy="468.0" r="12.55"/><circle cx="1251.9" cy="493.2" r="12.55"/><circle cx="1253.0" cy="479.7" r="12.55"/><circle cx="1254.2" cy="479.2" r="12.55"/><circle cx="1255.4" cy="478.6" r="12.55"/><circle cx="1256.6" cy="486.9" r="12.55"/><circle cx="1257.8" cy="467.6" r="12.55"/><circle cx="1259.0" cy="501.3" r="12.55"/><circle cx="1260.2" cy="555.0" r="12.55"/><circle cx="1261.4" cy="464.6" r="12.55"/><circle cx="1262.5" cy="548.9" r="12.55"/><circle cx="1263.7" cy="459.5" r="12.55"/><circle cx="1264.9" cy="517.9" r="12.55"/><circle cx="1266.1" cy="477.0" r="12.55"/><circle cx="1267.3" cy="510.6" r="12.55"/><circle cx="1268.5" cy="516.1" r="12.55"/><circle cx="1269.7" cy="556.2" r="12.55"/><circle cx="1270.9" cy="546.4" r="12.55"/><circle cx="1272.0" cy="480.6" r="12.55"/><circle cx="1273.2" cy="488.4" r="12.55"/><circle cx="1274.4" cy="517.1" r="12.55"/><circle cx="1275.6" cy="480.5" r="12.55"/><circle cx="1276.8" cy="464.0" r="12.55"/><circle cx="1278.0" cy="494.1" r="12.55"/><circle cx="1279.2" cy="545.6" r="12.55"/><circle cx="1280.4" cy="494.7" r="12.55"/><circle cx="1281.5" cy="513.9" r="12.55"/><circle cx="1282.7" cy="528.8" r="12.55"/><circle cx="1283.9" cy="492.1" r="12.55"/><circle cx="1285.1" cy="437.1" r="12.55"/><circle cx="1286.3" cy="566.7" r="12.55"/><circle cx="1287.5" cy="513.0" r="12.55"/><circle cx="1288.7" cy="490.7" r="12.55"/><circle cx="1289.9" cy="455.7" r="12.55"/><circle cx="1291.0" cy="512.6" r="12.55"/><circle cx="1292.2" cy="443.0" r="12.55"/><circle cx="1293.4" cy="472.3" r="12.55"/><circle cx="1294.6" cy="529.6" r="12.55"/><circle cx="1295.8" cy="502.1" r="12.55"/><circle cx="1297.0" cy="502.8" r="12.55"/><circle cx="1298.2" cy="500.0" r="12.55"/><circle cx="1299.4" cy="526.3" r="12.55"/><circle cx="1300.5" cy="496.7" r="12.55"/><circle cx="1301.7" cy="442.9" r="12.55"/><circle cx="1302.9" cy="507.3" r="12.55"/><circle cx="1304.1" cy="481.7" r="12.55"/><circle cx="1305.3" cy="442.1" r="12.55"/><circle cx="1306.5" cy="548.0" r="12.55"/><circle cx="1307.7" cy="531.2" r="12.55"/><circle cx="1308.9" cy="487.6" r="12.55"/><circle cx="1310.1" cy="435.5" r="12.55"/><circle cx="1311.2" cy="501.0" r="12.55"/><circle cx="1312.4" cy="525.0" r="12.55"/><circle cx="1313.6" cy="473.0" r="12.55"/><circle cx="1314.8" cy="468.7" r="12.55"/><circle cx="1316.0" cy="474.5" r="12.55"/><circle cx="1317.2" cy="497.2" r="12.55"/><circle cx="1318.4" cy="555.5" r="12.55"/><circle cx="1319.6" cy="481.5" r="12.55"/><circle cx="1320.7" cy="515.0" r="12.55"/><circle cx="1321.9" cy="465.3" r="12.55"/><circle cx="1323.1" cy="492.4" r="12.55"/><circle cx="1324.3" cy="474.7" r="12.55"/><circle cx="1325.5" cy="467.1" r="12.55"/><circle cx="1326.7" cy="530.6" r="12.55"/><circle cx="1327.9" cy="486.4" r="12.55"/><circle cx="1329.1" cy="467.2" r="12.55"/><circle cx="1330.2" cy="495.9" r="12.55"/><circle cx="1331.4" cy="465.7" r="12.55"/><circle cx="1332.6" cy="510.3" r="12.55"/><circle cx="1333.8" cy="515.8" r="12.55"/><circle cx="1335.0" cy="520.6" r="12.55"/><circle cx="1336.2" cy="460.2" r="12.55"/><circle cx="1337.4" cy="484.8" r="12.55"/><circle cx="1338.6" cy="542.6" r="12.55"/><circle cx="1339.7" cy="480.3" r="12.55"/><circle cx="1340.9" cy="522.3" r="12.55"/><circle cx="1342.1" cy="529.2" r="12.55"/><circle cx="1343.3" cy="445.1" r="12.55"/><circle cx="1344.5" cy="518.0" r="12.55"/><circle cx="1345.7" cy="505.8" r="12.55"/><circle cx="1346.9" cy="436.1" r="12.55"/><circle cx="1348.1" cy="533.2" r="12.55"/><circle cx="1349.2" cy="500.9" r="12.55"/><circle cx="1350.4" cy="553.3" r="12.55"/><circle cx="1351.6" cy="510.6" r="12.55"/><circle cx="1352.8" cy="487.0" r="12.55"/><circle cx="1354.0" cy="513.8" r="12.55"/><circle cx="1355.2" cy="446.3" r="12.55"/><circle cx="1356.4" cy="510.7" r="12.55"/><circle cx="1357.6" cy="495.4" r="12.55"/><circle cx="1358.7" cy="528.9" r="12.55"/><circle cx="1359.9" cy="524.6" r="12.55"/><circle cx="1361.1" cy="518.8" r="12.55"/><circle cx="1362.3" cy="516.7" r="12.55"/><circle cx="1363.5" cy="513.3" r="12.55"/><circle cx="1364.7" cy="463.1" r="12.55"/><circle cx="1365.9" cy="490.9" r="12.55"/><circle cx="1367.1" cy="537.8" r="12.55"/><circle cx="1368.3" cy="471.5" r="12.55"/><circle cx="1369.4" cy="467.5" r="12.55"/><circle cx="1370.6" cy="506.5" r="12.55"/><circle cx="1371.8" cy="432.4" r="12.55"/><circle cx="1373.0" cy="408.0" r="12.55"/><circle cx="1374.2" cy="482.7" r="12.55"/><circle cx="1375.4" cy="488.3" r="12.55"/><circle cx="1376.6" cy="500.4" r="12.55"/><circle cx="1377.8" cy="492.0" r="12.55"/><circle cx="1378.9" cy="472.0" r="12.55"/><circle cx="1380.1" cy="520.0" r="12.55"/><circle cx="1381.3" cy="454.4" r="12.55"/><circle cx="1382.5" cy="476.1" r="12.55"/><circle cx="1383.7" cy="524.7" r="12.55"/><circle cx="1384.9" cy="470.8" r="12.55"/><circle cx="1386.1" cy="550.1" r="12.55"/><circle cx="1387.3" cy="494.6" r="12.55"/><circle cx="1388.4" cy="489.2" r="12.55"/><circle cx="1389.6" cy="507.3" r="12.55"/><circle cx="1390.8" cy="475.5" r="12.55"/><circle cx="1392.0" cy="451.6" r="12.55"/><circle cx="1393.2" cy="549.0" r="12.55"/><circle cx="1394.4" cy="477.8" r="12.55"/><circle cx="1395.6" cy="485.1" r="12.55"/><circle cx="1396.8" cy="474.5" r="12.55"/><circle cx="1397.9" cy="479.7" r="12.55"/><circle cx="1399.1" cy="495.3" r="12.55"/><circle cx="1400.3" cy="513.6" r="12.55"/><circle cx="1401.5" cy="461.7" r="12.55"/><circle cx="1402.7" cy="498.0" r="12.55"/><circle cx="1403.9" cy="469.0" r="12.55"/><circle cx="1405.1" cy="520.5" r="12.55"/><circle cx="1406.3" cy="449.5" r="12.55"/><circle cx="1407.4" cy="487.3" r="12.55"/><circle cx="1408.6" cy="506.0" r="12.55"/><circle cx="1409.8" cy="446.3" r="12.55"/><circle cx="1411.0" cy="488.7" r="12.55"/><circle cx="1412.2" cy="490.5" r="12.55"/><circle cx="1413.4" cy="464.9" r="12.55"/><circle cx="1414.6" cy="481.2" r="12.55"/><circle cx="1415.8" cy="516.3" r="12.55"/><circle cx="1416.9" cy="497.1" r="12.55"/><circle cx="1418.1" cy="478.2" r="12.55"/><circle cx="1419.3" cy="485.4" r="12.55"/><circle cx="1420.5" cy="505.9" r="12.55"/><circle cx="1421.7" cy="529.1" r="12.55"/><circle cx="1422.9" cy="515.5" r="12.55"/><circle cx="1424.1" cy="514.5" r="12.55"/><circle cx="1425.3" cy="539.9" r="12.55"/><circle cx="1426.5" cy="450.5" r="12.55"/><circle cx="1427.6" cy="551.0" r="12.55"/><circle cx="1428.8" cy="449.3" r="12.55"/><circle cx="1430.0" cy="416.9" r="12.55"/><circle cx="1431.2" cy="532.6" r="12.55"/><circle cx="1432.4" cy="485.0" r="12.55"/><circle cx="1433.6" cy="506.3" r="12.55"/><circle cx="1434.8" cy="442.4" r="12.55"/><circle cx="1436.0" cy="461.0" r="12.55"/><circle cx="1437.1" cy="404.5" r="12.55"/><circle cx="1438.3" cy="496.2" r="12.55"/><circle cx="1439.5" cy="465.0" r="12.55"/><circle cx="1440.7" cy="483.9" r="12.55"/><circle cx="1441.9" cy="496.0" r="12.55"/><circle cx="1443.1" cy="480.5" r="12.55"/><circle cx="1444.3" cy="482.6" r="12.55"/><circle cx="1445.5" cy="514.8" r="12.55"/><circle cx="1446.6" cy="487.8" r="12.55"/><circle cx="1447.8" cy="481.9" r="12.55"/><circle cx="1449.0" cy="475.0" r="12.55"/><circle cx="1450.2" cy="505.7" r="12.55"/><circle cx="1451.4" cy="479.0" r="12.55"/><circle cx="1452.6" cy="508.7" r="12.55"/><circle cx="1453.8" cy="493.9" r="12.55"/><circle cx="1455.0" cy="524.4" r="12.55"/><circle cx="1456.1" cy="471.8" r="12.55"/><circle cx="1457.3" cy="497.2" r="12.55"/><circle cx="1458.5" cy="553.9" r="12.55"/><circle cx="1459.7" cy="508.4" r="12.55"/><circle cx="1460.9" cy="526.5" r="12.55"/><circle cx="1462.1" cy="505.5" r="12.55"/><circle cx="1463.3" cy="516.5" r="12.55"/><circle cx="1464.5" cy="546.2" r="12.55"/><circle cx="1465.6" cy="511.3" r="12.55"/><circle cx="1466.8" cy="455.9" r="12.55"/><circle cx="1468.0" cy="443.4" r="12.55"/><circle cx="1469.2" cy="500.9" r="12.55"/><circle cx="1470.4" cy="469.4" r="12.55"/><circle cx="1471.6" cy="486.1" r="12.55"/><circle cx="1472.8" cy="471.9" r="12.55"/><circle cx="1474.0" cy="511.4" r="12.55"/><circle cx="1475.1" cy="510.2" r="12.55"/><circle cx="1476.3" cy="447.0" r="12.55"/><circle cx="1477.5" cy="489.0" r="12.55"/><circle cx="1478.7" cy="475.9" r="12.55"/><circle cx="1479.9" cy="451.5" r="12.55"/><circle cx="1481.1" cy="510.3" r="12.55"/><circle cx="1482.3" cy="491.7" r="12.55"/><circle cx="1483.5" cy="511.1" r="12.55"/><circle cx="1484.7" cy="496.7" r="12.55"/><circle cx="1485.8" cy="542.8" r="12.55"/><circle cx="1487.0" cy="536.1" r="12.55"/><circle cx="1488.2" cy="492.8" r="12.55"/><circle cx="1489.4" cy="469.6" r="12.55"/><circle cx="1490.6" cy="535.8" r="12.55"/><circle cx="1491.8" cy="490.2" r="12.55"/><circle cx="1493.0" cy="498.8" r="12.55"/><circle cx="1494.2" cy="484.5" r="12.55"/><circle cx="1495.3" cy="496.8" r="12.55"/><circle cx="1496.5" cy="519.2" r="12.55"/><circle cx="1497.7" cy="482.3" r="12.55"/><circle cx="1498.9" cy="485.0" r="12.55"/><circle cx="1500.1" cy="501.0" r="12.55"/><circle cx="1501.3" cy="505.7" r="12.55"/><circle cx="1502.5" cy="465.4" r="12.55"/><circle cx="1503.7" cy="450.0" r="12.55"/><circle cx="1504.8" cy="484.0" r="12.55"/><circle cx="1506.0" cy="492.8" r="12.55"/><circle cx="1507.2" cy="473.6" r="12.55"/><circle cx="1508.4" cy="464.9" r="12.55"/><circle cx="1509.6" cy="463.3" r="12.55"/><circle cx="1510.8" cy="474.8" r="12.55"/><circle cx="1512.0" cy="479.4" r="12.55"/><circle cx="1513.2" cy="567.8" r="12.55"/><circle cx="1514.3" cy="468.9" r="12.55"/><circle cx="1515.5" cy="496.4" r="12.55"/><circle cx="1516.7" cy="485.9" r="12.55"/><circle cx="1517.9" cy="454.2" r="12.55"/><circle cx="1519.1" cy="486.1" r="12.55"/><circle cx="1520.3" cy="499.0" r="12.55"/><circle cx="1521.5" cy="524.2" r="12.55"/><circle cx="1522.7" cy="459.7" r="12.55"/><circle cx="1523.8" cy="526.3" r="12.55"/><circle cx="1525.0" cy="495.7" r="12.55"/><circle cx="1526.2" cy="512.5" r="12.55"/><circle cx="1527.4" cy="525.5" r="12.55"/><circle cx="1528.6" cy="479.6" r="12.55"/><circle cx="1529.8" cy="480.0" r="12.55"/><circle cx="1531.0" cy="498.7" r="12.55"/><circle cx="1532.2" cy="519.7" r="12.55"/><circle cx="1533.3" cy="482.2" r="12.55"/><circle cx="1534.5" cy="456.5" r="12.55"/><circle cx="1535.7" cy="474.6" r="12.55"/><circle cx="1536.9" cy="504.1" r="12.55"/><circle cx="1538.1" cy="523.7" r="12.55"/><circle cx="1539.3" cy="475.8" r="12.55"/><circle cx="1540.5" cy="479.5" r="12.55"/><circle cx="1541.7" cy="483.3" r="12.55"/><circle cx="1542.9" cy="483.6" r="12.55"/><circle cx="1544.0" cy="461.2" r="12.55"/><circle cx="1545.2" cy="473.8" r="12.55"/><circle cx="1546.4" cy="491.7" r="12.55"/><circle cx="1547.6" cy="382.0" r="12.55"/><circle cx="1548.8" cy="484.4" r="12.55"/><circle cx="1550.0" cy="455.0" r="12.55"/><circle cx="1551.2" cy="467.9" r="12.55"/><circle cx="1552.4" cy="462.8" r="12.55"/><circle cx="1553.5" cy="510.7" r="12.55"/><circle cx="1554.7" cy="521.6" r="12.55"/><circle cx="1555.9" cy="413.2" r="12.55"/><circle cx="1557.1" cy="525.0" r="12.55"/><circle cx="1558.3" cy="472.8" r="12.55"/><circle cx="1559.5" cy="473.2" r="12.55"/><circle cx="1560.7" cy="445.3" r="12.55"/><circle cx="1561.9" cy="488.2" r="12.55"/><circle cx="1563.0" cy="470.1" r="12.55"/><circle cx="1564.2" cy="550.6" r="12.55"/><circle cx="1565.4" cy="497.6" r="12.55"/><circle cx="1566.6" cy="477.2" r="12.55"/><circle cx="1567.8" cy="453.6" r="12.55"/><circle cx="1569.0" cy="484.2" r="12.55"/><circle cx="1570.2" cy="484.0" r="12.55"/><circle cx="1571.4" cy="487.7" r="12.55"/><circle cx="1572.5" cy="507.2" r="12.55"/><circle cx="1573.7" cy="481.5" r="12.55"/><circle cx="1574.9" cy="480.3" r="12.55"/><circle cx="1576.1" cy="537.0" r="12.55"/><circle cx="1577.3" cy="518.9" r="12.55"/><circle cx="1578.5" cy="486.9" r="12.55"/><circle cx="1579.7" cy="463.6" r="12.55"/><circle cx="1580.9" cy="476.7" r="12.55"/><circle cx="1582.0" cy="500.6" r="12.55"/><circle cx="1583.2" cy="512.2" r="12.55"/><circle cx="1584.4" cy="492.2" r="12.55"/><circle cx="1585.6" cy="482.1" r="12.55"/><circle cx="1586.8" cy="493.7" r="12.55"/><circle cx="1588.0" cy="478.8" r="12.55"/><circle cx="1589.2" cy="491.7" r="12.55"/><circle cx="1590.4" cy="478.1" r="12.55"/><circle cx="1591.5" cy="459.7" r="12.55"/><circle cx="1592.7" cy="516.9" r="12.55"/><circle cx="1593.9" cy="492.9" r="12.55"/><circle cx="1595.1" cy="525.0" r="12.55"/><circle cx="1596.3" cy="475.2" r="12.55"/><circle cx="1597.5" cy="496.9" r="12.55"/><circle cx="1598.7" cy="509.0" r="12.55"/><circle cx="1599.9" cy="439.9" r="12.55"/><circle cx="1601.1" cy="455.3" r="12.55"/><circle cx="1602.2" cy="513.3" r="12.55"/><circle cx="1603.4" cy="497.6" r="12.55"/><circle cx="1604.6" cy="445.1" r="12.55"/><circle cx="1605.8" cy="560.2" r="12.55"/><circle cx="1607.0" cy="470.1" r="12.55"/><circle cx="1608.2" cy="486.8" r="12.55"/><circle cx="1609.4" cy="545.3" r="12.55"/><circle cx="1610.6" cy="486.6" r="12.55"/><circle cx="1611.7" cy="512.0" r="12.55"/><circle cx="1612.9" cy="497.8" r="12.55"/><circle cx="1614.1" cy="422.7" r="12.55"/><circle cx="1615.3" cy="544.7" r="12.55"/><circle cx="1616.5" cy="522.9" r="12.55"/><circle cx="1617.7" cy="531.1" r="12.55"/><circle cx="1618.9" cy="543.8" r="12.55"/><circle cx="1620.1" cy="513.2" r="12.55"/><circle cx="1621.2" cy="513.4" r="12.55"/><circle cx="1622.4" cy="492.1" r="12.55"/><circle cx="1623.6" cy="449.7" r="12.55"/><circle cx="1624.8" cy="482.0" r="12.55"/><circle cx="1626.0" cy="474.4" r="12.55"/><circle cx="1627.2" cy="489.9" r="12.55"/><circle cx="1628.4" cy="458.3" r="12.55"/><circle cx="1629.6" cy="505.0" r="12.55"/><circle cx="1630.7" cy="530.9" r="12.55"/><circle cx="1631.9" cy="493.5" r="12.55"/><circle cx="1633.1" cy="503.0" r="12.55"/><circle cx="1634.3" cy="495.7" r="12.55"/><circle cx="1635.5" cy="510.0" r="12.55"/><circle cx="1636.7" cy="491.8" r="12.55"/><circle cx="1637.9" cy="473.8" r="12.55"/><circle cx="1639.1" cy="495.1" r="12.55"/><circle cx="1640.2" cy="494.2" r="12.55"/><circle cx="1641.4" cy="450.3" r="12.55"/><circle cx="1642.6" cy="501.2" r="12.55"/><circle cx="1643.8" cy="495.5" r="12.55"/><circle cx="1645.0" cy="499.4" r="12.55"/><circle cx="1646.2" cy="476.1" r="12.55"/><circle cx="1647.4" cy="503.5" r="12.55"/><circle cx="1648.6" cy="505.9" r="12.55"/><circle cx="1649.7" cy="466.5" r="12.55"/><circle cx="1650.9" cy="492.6" r="12.55"/><circle cx="1652.1" cy="503.9" r="12.55"/><circle cx="1653.3" cy="501.6" r="12.55"/><circle cx="1654.5" cy="455.4" r="12.55"/><circle cx="1655.7" cy="453.9" r="12.55"/><circle cx="1656.9" cy="484.6" r="12.55"/><circle cx="1658.1" cy="457.1" r="12.55"/><circle cx="1659.2" cy="452.9" r="12.55"/><circle cx="1660.4" cy="468.4" r="12.55"/><circle cx="1661.6" cy="471.2" r="12.55"/><circle cx="1662.8" cy="512.3" r="12.55"/><circle cx="1664.0" cy="484.2" r="12.55"/><circle cx="1665.2" cy="437.5" r="12.55"/><circle cx="1666.4" cy="498.6" r="12.55"/><circle cx="1667.6" cy="476.8" r="12.55"/><circle cx="1668.8" cy="492.2" r="12.55"/><circle cx="1669.9" cy="464.2" r="12.55"/><circle cx="1671.1" cy="485.3" r="12.55"/><circle cx="1672.3" cy="507.9" r="12.55"/><circle cx="1673.5" cy="510.6" r="12.55"/><circle cx="1674.7" cy="480.9" r="12.55"/><circle cx="1675.9" cy="491.9" r="12.55"/><circle cx="1677.1" cy="487.1" r="12.55"/><circle cx="1678.3" cy="512.8" r="12.55"/><circle cx="1679.4" cy="505.0" r="12.55"/><circle cx="1680.6" cy="472.9" r="12.55"/><circle cx="1681.8" cy="523.3" r="12.55"/><circle cx="1683.0" cy="484.8" r="12.55"/><circle cx="1684.2" cy="512.9" r="12.55"/><circle cx="1685.4" cy="475.7" r="12.55"/><circle cx="1686.6" cy="509.0" r="12.55"/><circle cx="1687.8" cy="495.4" r="12.55"/><circle cx="1688.9" cy="498.7" r="12.55"/><circle cx="1690.1" cy="509.4" r="12.55"/><circle cx="1691.3" cy="505.6" r="12.55"/><circle cx="1692.5" cy="494.8" r="12.55"/><circle cx="1693.7" cy="492.6" r="12.55"/><circle cx="1694.9" cy="449.9" r="12.55"/><circle cx="1696.1" cy="480.7" r="12.55"/><circle cx="1697.3" cy="472.3" r="12.55"/><circle cx="1698.4" cy="502.1" r="12.55"/><circle cx="1699.6" cy="469.4" r="12.55"/><circle cx="1700.8" cy="470.5" r="12.55"/><circle cx="1702.0" cy="516.2" r="12.55"/><circle cx="1703.2" cy="495.6" r="12.55"/><circle cx="1704.4" cy="510.1" r="12.55"/><circle cx="1705.6" cy="473.1" r="12.55"/><circle cx="1706.8" cy="552.6" r="12.55"/><circle cx="1707.9" cy="518.3" r="12.55"/><circle cx="1709.1" cy="504.5" r="12.55"/><circle cx="1710.3" cy="502.3" r="12.55"/><circle cx="1711.5" cy="498.2" r="12.55"/><circle cx="1712.7" cy="472.6" r="12.55"/><circle cx="1713.9" cy="474.9" r="12.55"/><circle cx="1715.1" cy="463.0" r="12.55"/><circle cx="1716.3" cy="514.6" r="12.55"/><circle cx="1717.4" cy="564.5" r="12.55"/><circle cx="1718.6" cy="484.9" r="12.55"/><circle cx="1719.8" cy="511.4" r="12.55"/><circle cx="1721.0" cy="483.8" r="12.55"/><circle cx="1722.2" cy="526.5" r="12.55"/><circle cx="1723.4" cy="478.3" r="12.55"/><circle cx="1724.6" cy="506.9" r="12.55"/><circle cx="1725.8" cy="472.5" r="12.55"/><circle cx="1727.0" cy="447.3" r="12.55"/><circle cx="1728.1" cy="544.4" r="12.55"/><circle cx="1729.3" cy="498.9" r="12.55"/><circle cx="1730.5" cy="453.5" r="12.55"/><circle cx="1731.7" cy="516.1" r="12.55"/><circle cx="1732.9" cy="442.7" r="12.55"/><circle cx="1734.1" cy="476.8" r="12.55"/><circle cx="1735.3" cy="483.8" r="12.55"/><circle cx="1736.5" cy="481.5" r="12.55"/><circle cx="1737.6" cy="462.5" r="12.55"/><circle cx="1738.8" cy="467.1" r="12.55"/><circle cx="1740.0" cy="484.9" r="12.55"/><circle cx="1741.2" cy="508.5" r="12.55"/><circle cx="1742.4" cy="499.3" r="12.55"/><circle cx="1743.6" cy="453.7" r="12.55"/><circle cx="1744.8" cy="483.2" r="12.55"/><circle cx="1746.0" cy="506.0" r="12.55"/><circle cx="1747.1" cy="525.6" r="12.55"/><circle cx="1748.3" cy="490.2" r="12.55"/><circle cx="1749.5" cy="510.5" r="12.55"/><circle cx="1750.7" cy="491.5" r="12.55"/><circle cx="1751.9" cy="516.7" r="12.55"/><circle cx="1753.1" cy="497.6" r="12.55"/><circle cx="1754.3" cy="518.0" r="12.55"/><circle cx="1755.5" cy="484.7" r="12.55"/><circle cx="1756.6" cy="551.8" r="12.55"/><circle cx="1757.8" cy="491.5" r="12.55"/><circle cx="1759.0" cy="473.4" r="12.55"/><circle cx="1760.2" cy="519.9" r="12.55"/><circle cx="1761.4" cy="479.0" r="12.55"/><circle cx="1762.6" cy="482.5" r="12.55"/><circle cx="1763.8" cy="483.2" r="12.55"/><circle cx="1765.0" cy="514.5" r="12.55"/><circle cx="1766.1" cy="509.5" r="12.55"/><circle cx="1767.3" cy="483.3" r="12.55"/><circle cx="1768.5" cy="494.5" r="12.55"/><circle cx="1769.7" cy="487.8" r="12.55"/><circle cx="1770.9" cy="514.2" r="12.55"/><circle cx="1772.1" cy="518.6" r="12.55"/><circle cx="1773.3" cy="545.8" r="12.55"/><circle cx="1774.5" cy="520.6" r="12.55"/><circle cx="1775.6" cy="512.2" r="12.55"/><circle cx="1776.8" cy="498.1" r="12.55"/><circle cx="1778.0" cy="518.1" r="12.55"/><circle cx="1779.2" cy="464.7" r="12.55"/><circle cx="1780.4" cy="486.4" r="12.55"/><circle cx="1781.6" cy="497.7" r="12.55"/><circle cx="1782.8" cy="527.9" r="12.55"/><circle cx="1784.0" cy="465.6" r="12.55"/><circle cx="1785.2" cy="514.0" r="12.55"/><circle cx="1786.3" cy="428.9" r="12.55"/><circle cx="1787.5" cy="477.9" r="12.55"/><circle cx="1788.7" cy="464.0" r="12.55"/><circle cx="1789.9" cy="456.9" r="12.55"/><circle cx="1791.1" cy="530.5" r="12.55"/><circle cx="1792.3" cy="512.5" r="12.55"/><circle cx="1793.5" cy="480.8" r="12.55"/><circle cx="1794.7" cy="482.3" r="12.55"/><circle cx="1795.8" cy="456.2" r="12.55"/><circle cx="1797.0" cy="517.1" r="12.55"/><circle cx="1798.2" cy="465.8" r="12.55"/><circle cx="1799.4" cy="463.4" r="12.55"/><circle cx="1800.6" cy="477.2" r="12.55"/><circle cx="1801.8" cy="451.1" r="12.55"/><circle cx="1803.0" cy="509.0" r="12.55"/><circle cx="1804.2" cy="502.5" r="12.55"/><circle cx="1805.3" cy="493.5" r="12.55"/><circle cx="1806.5" cy="440.2" r="12.55"/><circle cx="1807.7" cy="480.9" r="12.55"/><circle cx="1808.9" cy="433.3" r="12.55"/><circle cx="1810.1" cy="448.3" r="12.55"/><circle cx="1811.3" cy="447.6" r="12.55"/><circle cx="1812.5" cy="534.1" r="12.55"/><circle cx="1813.7" cy="496.4" r="12.55"/><circle cx="1814.8" cy="467.4" r="12.55"/><circle cx="1816.0" cy="520.7" r="12.55"/><circle cx="1817.2" cy="507.7" r="12.55"/><circle cx="1818.4" cy="488.8" r="12.55"/><circle cx="1819.6" cy="483.4" r="12.55"/><circle cx="1820.8" cy="500.8" r="12.55"/><circle cx="1822.0" cy="520.2" r="12.55"/><circle cx="1823.2" cy="482.0" r="12.55"/><circle cx="1824.3" cy="475.2" r="12.55"/><circle cx="1825.5" cy="499.8" r="12.55"/><circle cx="1826.7" cy="487.7" r="12.55"/><circle cx="1827.9" cy="488.0" r="12.55"/><circle cx="1829.1" cy="475.6" r="12.55"/><circle cx="1830.3" cy="488.5" r="12.55"/><circle cx="1831.5" cy="485.6" r="12.55"/><circle cx="1832.7" cy="501.8" r="12.55"/><circle cx="1833.8" cy="496.0" r="12.55"/><circle cx="1835.0" cy="496.1" r="12.55"/><circle cx="1836.2" cy="491.3" r="12.55"/><circle cx="1837.4" cy="509.6" r="12.55"/><circle cx="1838.6" cy="482.3" r="12.55"/><circle cx="1839.8" cy="525.5" r="12.55"/><circle cx="1841.0" cy="451.3" r="12.55"/><circle cx="1842.2" cy="506.2" r="12.55"/><circle cx="1843.4" cy="511.9" r="12.55"/><circle cx="1844.5" cy="464.6" r="12.55"/><circle cx="1845.7" cy="486.3" r="12.55"/><circle cx="1846.9" cy="533.9" r="12.55"/><circle cx="1848.1" cy="490.6" r="12.55"/><circle cx="1849.3" cy="468.3" r="12.55"/><circle cx="1850.5" cy="470.0" r="12.55"/><circle cx="1851.7" cy="497.9" r="12.55"/><circle cx="1852.9" cy="488.8" r="12.55"/><circle cx="1854.0" cy="432.3" r="12.55"/><circle cx="1855.2" cy="542.9" r="12.55"/><circle cx="1856.4" cy="485.8" r="12.55"/><circle cx="1857.6" cy="491.6" r="12.55"/><circle cx="1858.8" cy="471.3" r="12.55"/><circle cx="1860.0" cy="490.2" r="12.55"/><circle cx="1861.2" cy="493.9" r="12.55"/><circle cx="1862.4" cy="516.8" r="12.55"/><circle cx="1863.5" cy="549.8" r="12.55"/><circle cx="1864.7" cy="476.2" r="12.55"/><circle cx="1865.9" cy="482.5" r="12.55"/><circle cx="1867.1" cy="532.9" r="12.55"/><circle cx="1868.3" cy="465.2" r="12.55"/><circle cx="1869.5" cy="510.3" r="12.55"/><circle cx="1870.7" cy="531.9" r="12.55"/><circle cx="1871.9" cy="502.7" r="12.55"/><circle cx="1873.0" cy="488.6" r="12.55"/><circle cx="1874.2" cy="517.4" r="12.55"/><circle cx="1875.4" cy="489.1" r="12.55"/><circle cx="1876.6" cy="480.1" r="12.55"/><circle cx="1877.8" cy="477.0" r="12.55"/><circle cx="1879.0" cy="517.2" r="12.55"/><circle cx="1880.2" cy="508.6" r="12.55"/><circle cx="1881.4" cy="534.7" r="12.55"/><circle cx="1882.5" cy="484.3" r="12.55"/><circle cx="1883.7" cy="487.9" r="12.55"/><circle cx="1884.9" cy="486.7" r="12.55"/><circle cx="1886.1" cy="509.7" r="12.55"/><circle cx="1887.3" cy="482.7" r="12.55"/><circle cx="1888.5" cy="527.6" r="12.55"/><circle cx="1889.7" cy="510.0" r="12.55"/><circle cx="1890.9" cy="470.9" r="12.55"/><circle cx="1892.0" cy="471.6" r="12.55"/><circle cx="1893.2" cy="442.2" r="12.55"/><circle cx="1894.4" cy="530.8" r="12.55"/><circle cx="1895.6" cy="486.5" r="12.55"/><circle cx="1896.8" cy="490.5" r="12.55"/><circle cx="1898.0" cy="473.3" r="12.55"/><circle cx="1899.2" cy="496.3" r="12.55"/><circle cx="1900.4" cy="475.4" r="12.55"/><circle cx="1901.6" cy="502.2" r="12.55"/><circle cx="1902.7" cy="440.9" r="12.55"/><circle cx="1903.9" cy="426.8" r="12.55"/><circle cx="1905.1" cy="507.4" r="12.55"/><circle cx="1906.3" cy="499.2" r="12.55"/><circle cx="1907.5" cy="479.3" r="12.55"/><circle cx="1908.7" cy="446.0" r="12.55"/><circle cx="1909.9" cy="502.6" r="12.55"/><circle cx="1911.1" cy="471.1" r="12.55"/><circle cx="1912.2" cy="477.4" r="12.55"/><circle cx="1913.4" cy="476.6" r="12.55"/><circle cx="1914.6" cy="467.5" r="12.55"/><circle cx="1915.8" cy="461.2" r="12.55"/><circle cx="1917.0" cy="465.9" r="12.55"/><circle cx="1918.2" cy="446.6" r="12.55"/><circle cx="1919.4" cy="491.0" r="12.55"/><circle cx="1920.6" cy="479.6" r="12.55"/><circle cx="1921.7" cy="514.5" r="12.55"/><circle cx="1922.9" cy="439.2" r="12.55"/><circle cx="1924.1" cy="521.7" r="12.55"/><circle cx="1925.3" cy="488.3" r="12.55"/><circle cx="1926.5" cy="487.2" r="12.55"/><circle cx="1927.7" cy="470.9" r="12.55"/><circle cx="1928.9" cy="471.7" r="12.55"/><circle cx="1930.1" cy="452.8" r="12.55"/><circle cx="1931.2" cy="521.4" r="12.55"/><circle cx="1932.4" cy="491.2" r="12.55"/><circle cx="1933.6" cy="517.7" r="12.55"/><circle cx="1934.8" cy="521.9" r="12.55"/><circle cx="1936.0" cy="485.3" r="12.55"/><circle cx="1937.2" cy="492.9" r="12.55"/><circle cx="1938.4" cy="489.5" r="12.55"/><circle cx="1939.6" cy="528.5" r="12.55"/><circle cx="1940.7" cy="503.8" r="12.55"/><circle cx="1941.9" cy="505.3" r="12.55"/><circle cx="1943.1" cy="519.6" r="12.55"/><circle cx="1944.3" cy="498.3" r="12.55"/><circle cx="1945.5" cy="439.3" r="12.55"/><circle cx="1946.7" cy="473.9" r="12.55"/><circle cx="1947.9" cy="535.4" r="12.55"/><circle cx="1949.1" cy="540.7" r="12.55"/><circle cx="1950.2" cy="468.7" r="12.55"/><circle cx="1951.4" cy="524.3" r="12.55"/><circle cx="1952.6" cy="507.5" r="12.55"/><circle cx="1953.8" cy="522.0" r="12.55"/><circle cx="1955.0" cy="463.1" r="12.55"/><circle cx="1956.2" cy="502.0" r="12.55"/><circle cx="1957.4" cy="466.1" r="12.55"/><circle cx="1958.6" cy="481.0" r="12.55"/><circle cx="1959.8" cy="529.0" r="12.55"/><circle cx="1960.9" cy="482.9" r="12.55"/><circle cx="1962.1" cy="491.1" r="12.55"/><circle cx="1963.3" cy="424.3" r="12.55"/><circle cx="1964.5" cy="449.0" r="12.55"/><circle cx="1965.7" cy="509.1" r="12.55"/><circle cx="1966.9" cy="458.6" r="12.55"/><circle cx="1968.1" cy="456.7" r="12.55"/><circle cx="1969.3" cy="508.0" r="12.55"/><circle cx="1970.4" cy="482.8" r="12.55"/><circle cx="1971.6" cy="487.0" r="12.55"/><circle cx="1972.8" cy="456.2" r="12.55"/><circle cx="1974.0" cy="520.1" r="12.55"/><circle cx="1975.2" cy="478.1" r="12.55"/><circle cx="1976.4" cy="510.9" r="12.55"/><circle cx="1977.6" cy="453.9" r="12.55"/><circle cx="1978.8" cy="433.6" r="12.55"/><circle cx="1979.9" cy="570.2" r="12.55"/><circle cx="1981.1" cy="513.1" r="12.55"/><circle cx="1982.3" cy="567.1" r="12.55"/><circle cx="1983.5" cy="479.1" r="12.55"/><circle cx="1984.7" cy="476.6" r="12.55"/><circle cx="1985.9" cy="503.3" r="12.55"/><circle cx="1987.1" cy="487.5" r="12.55"/><circle cx="1988.3" cy="505.6" r="12.55"/><circle cx="1989.4" cy="470.3" r="12.55"/><circle cx="1990.6" cy="520.8" r="12.55"/><circle cx="1991.8" cy="531.7" r="12.55"/><circle cx="1993.0" cy="485.4" r="12.55"/><circle cx="1994.2" cy="526.2" r="12.55"/><circle cx="1995.4" cy="486.6" r="12.55"/><circle cx="1996.6" cy="499.7" r="12.55"/><circle cx="1997.8" cy="467.5" r="12.55"/><circle cx="1998.9" cy="461.9" r="12.55"/><circle cx="2000.1" cy="439.5" r="12.55"/><circle cx="2001.3" cy="483.9" r="12.55"/><circle cx="2002.5" cy="420.7" r="12.55"/><circle cx="2003.7" cy="471.6" r="12.55"/><circle cx="2004.9" cy="447.8" r="12.55"/><circle cx="2006.1" cy="449.2" r="12.55"/><circle cx="2007.3" cy="467.8" r="12.55"/><circle cx="2008.4" cy="501.6" r="12.55"/><circle cx="2009.6" cy="499.5" r="12.55"/><circle cx="2010.8" cy="474.1" r="12.55"/><circle cx="2012.0" cy="505.3" r="12.55"/><circle cx="2013.2" cy="512.8" r="12.55"/><circle cx="2014.4" cy="504.6" r="12.55"/><circle cx="2015.6" cy="507.7" r="12.55"/><circle cx="2016.8" cy="515.0" r="12.55"/><circle cx="2018.0" cy="541.4" r="12.55"/><circle cx="2019.1" cy="422.1" r="12.55"/><circle cx="2020.3" cy="534.1" r="12.55"/><circle cx="2021.5" cy="467.7" r="12.55"/><circle cx="2022.7" cy="507.1" r="12.55"/><circle cx="2023.9" cy="424.0" r="12.55"/><circle cx="2025.1" cy="441.4" r="12.55"/><circle cx="2026.3" cy="457.5" r="12.55"/><circle cx="2027.5" cy="526.4" r="12.55"/><circle cx="2028.6" cy="508.6" r="12.55"/><circle cx="2029.8" cy="529.8" r="12.55"/><circle cx="2031.0" cy="498.5" r="12.55"/><circle cx="2032.2" cy="490.0" r="12.55"/><circle cx="2033.4" cy="501.2" r="12.55"/><circle cx="2034.6" cy="558.0" r="12.55"/><circle cx="2035.8" cy="481.8" r="12.55"/><circle cx="2037.0" cy="485.5" r="12.55"/><circle cx="2038.1" cy="477.9" r="12.55"/><circle cx="2039.3" cy="474.5" r="12.55"/><circle cx="2040.5" cy="538.9" r="12.55"/><circle cx="2041.7" cy="516.9" r="12.55"/><circle cx="2042.9" cy="488.2" r="12.55"/><circle cx="2044.1" cy="496.1" r="12.55"/><circle cx="2045.3" cy="535.5" r="12.55"/><circle cx="2046.5" cy="516.2" r="12.55"/><circle cx="2047.6" cy="509.9" r="12.55"/><circle cx="2048.8" cy="467.3" r="12.55"/><circle cx="2050.0" cy="485.2" r="12.55"/><circle cx="2051.2" cy="462.6" r="12.55"/><circle cx="2052.4" cy="438.8" r="12.55"/><circle cx="2053.6" cy="511.9" r="12.55"/><circle cx="2054.8" cy="475.2" r="12.55"/><circle cx="2056.0" cy="471.4" r="12.55"/><circle cx="2057.1" cy="454.3" r="12.55"/><circle cx="2058.3" cy="503.2" r="12.55"/><circle cx="2059.5" cy="541.6" r="12.55"/><circle cx="2060.7" cy="498.4" r="12.55"/><circle cx="2061.9" cy="508.8" r="12.55"/><circle cx="2063.1" cy="447.1" r="12.55"/><circle cx="2064.3" cy="487.3" r="12.55"/><circle cx="2065.5" cy="435.0" r="12.55"/><circle cx="2066.6" cy="524.7" r="12.55"/><circle cx="2067.8" cy="483.0" r="12.55"/><circle cx="2069.0" cy="457.4" r="12.55"/><circle cx="2070.2" cy="483.0" r="12.55"/><circle cx="2071.4" cy="474.0" r="12.55"/><circle cx="2072.6" cy="528.6" r="12.55"/><circle cx="2073.8" cy="554.7" r="12.55"/><circle cx="2075.0" cy="500.4" r="12.55"/><circle cx="2076.2" cy="496.5" r="12.55"/><circle cx="2077.3" cy="514.2" r="12.55"/><circle cx="2078.5" cy="475.7" r="12.55"/><circle cx="2079.7" cy="462.4" r="12.55"/><circle cx="2080.9" cy="488.5" r="12.55"/><circle cx="2082.1" cy="515.7" r="12.55"/><circle cx="2083.3" cy="495.3" r="12.55"/><circle cx="2084.5" cy="498.0" r="12.55"/><circle cx="2085.7" cy="480.7" r="12.55"/><circle cx="2086.8" cy="528.1" r="12.55"/><circle cx="2088.0" cy="454.9" r="12.55"/><circle cx="2089.2" cy="517.1" r="12.55"/><circle cx="2090.4" cy="462.4" r="12.55"/><circle cx="2091.6" cy="474.2" r="12.55"/><circle cx="2092.8" cy="454.7" r="12.55"/><circle cx="2094.0" cy="493.4" r="12.55"/><circle cx="2095.2" cy="484.4" r="12.55"/><circle cx="2096.3" cy="507.5" r="12.55"/><circle cx="2097.5" cy="479.3" r="12.55"/><circle cx="2098.7" cy="459.2" r="12.55"/><circle cx="2099.9" cy="515.3" r="12.55"/><circle cx="2101.1" cy="538.2" r="12.55"/><circle cx="2102.3" cy="524.0" r="12.55"/><circle cx="2103.5" cy="503.6" r="12.55"/><circle cx="2104.7" cy="516.4" r="12.55"/><circle cx="2105.8" cy="459.1" r="12.55"/><circle cx="2107.0" cy="497.5" r="12.55"/><circle cx="2108.2" cy="538.4" r="12.55"/><circle cx="2109.4" cy="516.0" r="12.55"/><circle cx="2110.6" cy="477.3" r="12.55"/><circle cx="2111.8" cy="523.5" r="12.55"/><circle cx="2113.0" cy="494.0" r="12.55"/><circle cx="2114.2" cy="515.3" r="12.55"/><circle cx="2115.3" cy="453.6" r="12.55"/><circle cx="2116.5" cy="476.4" r="12.55"/><circle cx="2117.7" cy="499.9" r="12.55"/><circle cx="2118.9" cy="498.3" r="12.55"/><circle cx="2120.1" cy="507.6" r="12.55"/><circle cx="2121.3" cy="566.1" r="12.55"/><circle cx="2122.5" cy="492.1" r="12.55"/><circle cx="2123.7" cy="513.0" r="12.55"/><circle cx="2124.8" cy="526.6" r="12.55"/><circle cx="2126.0" cy="458.7" r="12.55"/><circle cx="2127.2" cy="489.4" r="12.55"/><circle cx="2128.4" cy="489.5" r="12.55"/><circle cx="2129.6" cy="496.5" r="12.55"/><circle cx="2130.8" cy="515.6" r="12.55"/><circle cx="2132.0" cy="446.7" r="12.55"/><circle cx="2133.2" cy="495.4" r="12.55"/><circle cx="2134.3" cy="493.1" r="12.55"/><circle cx="2135.5" cy="452.8" r="12.55"/><circle cx="2136.7" cy="457.9" r="12.55"/><circle cx="2137.9" cy="467.0" r="12.55"/><circle cx="2139.1" cy="457.5" r="12.55"/><circle cx="2140.3" cy="462.6" r="12.55"/><circle cx="2141.5" cy="469.4" r="12.55"/><circle cx="2142.7" cy="473.2" r="12.55"/><circle cx="2143.9" cy="485.1" r="12.55"/><circle cx="2145.0" cy="445.6" r="12.55"/><circle cx="2146.2" cy="474.3" r="12.55"/><circle cx="2147.4" cy="504.5" r="12.55"/><circle cx="2148.6" cy="519.0" r="12.55"/><circle cx="2149.8" cy="486.0" r="12.55"/><circle cx="2151.0" cy="499.1" r="12.55"/><circle cx="2152.2" cy="475.6" r="12.55"/><circle cx="2153.4" cy="505.6" r="12.55"/><circle cx="2154.5" cy="434.7" r="12.55"/><circle cx="2155.7" cy="507.4" r="12.55"/><circle cx="2156.9" cy="474.1" r="12.55"/><circle cx="2158.1" cy="502.0" r="12.55"/><circle cx="2159.3" cy="502.4" r="12.55"/><circle cx="2160.5" cy="463.0" r="12.55"/><circle cx="2161.7" cy="467.2" r="12.55"/><circle cx="2162.9" cy="531.8" r="12.55"/><circle cx="2164.0" cy="511.2" r="12.55"/><circle cx="2165.2" cy="499.7" r="12.55"/><circle cx="2166.4" cy="485.8" r="12.55"/><circle cx="2167.6" cy="530.6" r="12.55"/><circle cx="2168.8" cy="508.9" r="12.55"/><circle cx="2170.0" cy="468.2" r="12.55"/><circle cx="2171.2" cy="527.7" r="12.55"/><circle cx="2172.4" cy="477.4" r="12.55"/><circle cx="2173.5" cy="500.6" r="12.55"/><circle cx="2174.7" cy="543.1" r="12.55"/><circle cx="2175.9" cy="494.3" r="12.55"/><circle cx="2177.1" cy="518.8" r="12.55"/><circle cx="2178.3" cy="504.1" r="12.55"/><circle cx="2179.5" cy="473.6" r="12.55"/><circle cx="2180.7" cy="527.7" r="12.55"/><circle cx="2181.9" cy="509.6" r="12.55"/><circle cx="2183.0" cy="518.9" r="12.55"/><circle cx="2184.2" cy="524.4" r="12.55"/><circle cx="2185.4" cy="426.3" r="12.55"/><circle cx="2186.6" cy="521.2" r="12.55"/><circle cx="2187.8" cy="489.3" r="12.55"/><circle cx="2189.0" cy="494.4" r="12.55"/><circle cx="2190.2" cy="504.2" r="12.55"/><circle cx="2191.4" cy="488.6" r="12.55"/><circle cx="2192.5" cy="485.5" r="12.55"/><circle cx="2193.7" cy="545.0" r="12.55"/><circle cx="2194.9" cy="506.8" r="12.55"/><circle cx="2196.1" cy="545.8" r="12.55"/><circle cx="2197.3" cy="471.4" r="12.55"/><circle cx="2198.5" cy="491.0" r="12.55"/><circle cx="2199.7" cy="479.3" r="12.55"/><circle cx="2200.9" cy="480.6" r="12.55"/><circle cx="2202.1" cy="483.8" r="12.55"/><circle cx="2203.2" cy="488.7" r="12.55"/><circle cx="2204.4" cy="479.3" r="12.55"/><circle cx="2205.6" cy="543.5" r="12.55"/><circle cx="2206.8" cy="511.1" r="12.55"/><circle cx="2208.0" cy="472.8" r="12.55"/><circle cx="2209.2" cy="477.7" r="12.55"/><circle cx="2210.4" cy="513.8" r="12.55"/><circle cx="2211.6" cy="510.2" r="12.55"/><circle cx="2212.7" cy="477.6" r="12.55"/><circle cx="2213.9" cy="521.3" r="12.55"/><circle cx="2215.1" cy="456.9" r="12.55"/><circle cx="2216.3" cy="483.7" r="12.55"/><circle cx="2217.5" cy="547.1" r="12.55"/><circle cx="2218.7" cy="538.8" r="12.55"/><circle cx="2219.9" cy="493.7" r="12.55"/><circle cx="2221.1" cy="527.4" r="12.55"/><circle cx="2222.2" cy="569.8" r="12.55"/><circle cx="2223.4" cy="478.6" r="12.55"/><circle cx="2224.6" cy="476.5" r="12.55"/><circle cx="2225.8" cy="444.5" r="12.55"/><circle cx="2227.0" cy="466.3" r="12.55"/><circle cx="2228.2" cy="504.9" r="12.55"/><circle cx="2229.4" cy="485.9" r="12.55"/><circle cx="2230.6" cy="435.7" r="12.55"/><circle cx="2231.7" cy="495.8" r="12.55"/><circle cx="2232.9" cy="507.8" r="12.55"/><circle cx="2234.1" cy="452.7" r="12.55"/><circle cx="2235.3" cy="490.9" r="12.55"/><circle cx="2236.5" cy="490.1" r="12.55"/><circle cx="2237.7" cy="491.6" r="12.55"/><circle cx="2238.9" cy="475.5" r="12.55"/><circle cx="2240.1" cy="440.6" r="12.55"/><circle cx="2241.2" cy="518.1" r="12.55"/><circle cx="2242.4" cy="524.3" r="12.55"/><circle cx="2243.6" cy="488.1" r="12.55"/><circle cx="2244.8" cy="522.1" r="12.55"/><circle cx="2246.0" cy="549.4" r="12.55"/><circle cx="2247.2" cy="518.6" r="12.55"/><circle cx="2248.4" cy="492.2" r="12.55"/><circle cx="2249.6" cy="515.1" r="12.55"/><circle cx="2250.7" cy="468.8" r="12.55"/><circle cx="2251.9" cy="506.7" r="12.55"/><circle cx="2253.1" cy="494.1" r="12.55"/><circle cx="2254.3" cy="466.8" r="12.55"/><circle cx="2255.5" cy="527.0" r="12.55"/><circle cx="2256.7" cy="522.1" r="12.55"/><circle cx="2257.9" cy="434.5" r="12.55"/><circle cx="2259.1" cy="510.5" r="12.55"/><circle cx="2260.3" cy="532.2" r="12.55"/><circle cx="2261.4" cy="481.2" r="12.55"/><circle cx="2262.6" cy="447.4" r="12.55"/><circle cx="2263.8" cy="458.8" r="12.55"/><circle cx="2265.0" cy="505.3" r="12.55"/><circle cx="2266.2" cy="426.0" r="12.55"/><circle cx="2267.4" cy="443.8" r="12.55"/><circle cx="2268.6" cy="521.2" r="12.55"/><circle cx="2269.8" cy="490.5" r="12.55"/><circle cx="2270.9" cy="529.5" r="12.55"/><circle cx="2272.1" cy="515.2" r="12.55"/><circle cx="2273.3" cy="472.9" r="12.55"/><circle cx="2274.5" cy="487.1" r="12.55"/><circle cx="2275.7" cy="464.3" r="12.55"/><circle cx="2276.9" cy="461.5" r="12.55"/><circle cx="2278.1" cy="475.7" r="12.55"/><circle cx="2279.3" cy="499.2" r="12.55"/><circle cx="2280.4" cy="562.4" r="12.55"/><circle cx="2281.6" cy="462.7" r="12.55"/><circle cx="2282.8" cy="508.3" r="12.55"/><circle cx="2284.0" cy="490.2" r="12.55"/><circle cx="2285.2" cy="484.1" r="12.55"/><circle cx="2286.4" cy="522.7" r="12.55"/><circle cx="2287.6" cy="481.8" r="12.55"/><circle cx="2288.8" cy="530.5" r="12.55"/><circle cx="2289.9" cy="482.2" r="12.55"/><circle cx="2291.1" cy="467.0" r="12.55"/><circle cx="2292.3" cy="512.2" r="12.55"/><circle cx="2293.5" cy="450.4" r="12.55"/><circle cx="2294.7" cy="458.1" r="12.55"/><circle cx="2295.9" cy="485.8" r="12.55"/><circle cx="2297.1" cy="490.6" r="12.55"/><circle cx="2298.3" cy="482.6" r="12.55"/><circle cx="2299.4" cy="438.7" r="12.55"/><circle cx="2300.6" cy="454.6" r="12.55"/><circle cx="2301.8" cy="508.0" r="12.55"/><circle cx="2303.0" cy="510.0" r="12.55"/><circle cx="2304.2" cy="468.0" r="12.55"/><circle cx="2305.4" cy="505.2" r="12.55"/><circle cx="2306.6" cy="504.8" r="12.55"/><circle cx="2307.8" cy="564.5" r="12.55"/><circle cx="2308.9" cy="480.1" r="12.55"/><circle cx="2310.1" cy="544.6" r="12.55"/><circle cx="2311.3" cy="495.7" r="12.55"/><circle cx="2312.5" cy="546.7" r="12.55"/><circle cx="2313.7" cy="532.3" r="12.55"/><circle cx="2314.9" cy="478.8" r="12.55"/><circle cx="2316.1" cy="500.7" r="12.55"/><circle cx="2317.3" cy="516.9" r="12.55"/><circle cx="2318.5" cy="539.2" r="12.55"/><circle cx="2319.6" cy="471.7" r="12.55"/><circle cx="2320.8" cy="495.1" r="12.55"/><circle cx="2322.0" cy="525.6" r="12.55"/><circle cx="2323.2" cy="520.3" r="12.55"/><circle cx="2324.4" cy="476.2" r="12.55"/><circle cx="2325.6" cy="478.9" r="12.55"/><circle cx="2326.8" cy="514.9" r="12.55"/><circle cx="2328.0" cy="473.5" r="12.55"/><circle cx="2329.1" cy="508.0" r="12.55"/><circle cx="2330.3" cy="525.2" r="12.55"/><circle cx="2331.5" cy="499.1" r="12.55"/><circle cx="2332.7" cy="463.7" r="12.55"/><circle cx="2333.9" cy="528.9" r="12.55"/><circle cx="2335.1" cy="526.6" r="12.55"/><circle cx="2336.3" cy="533.5" r="12.55"/><circle cx="2337.5" cy="516.3" r="12.55"/><circle cx="2338.6" cy="445.8" r="12.55"/><circle cx="2339.8" cy="533.3" r="12.55"/><circle cx="2341.0" cy="506.1" r="12.55"/><circle cx="2342.2" cy="523.6" r="12.55"/><circle cx="2343.4" cy="495.5" r="12.55"/><circle cx="2344.6" cy="495.6" r="12.55"/><circle cx="2345.8" cy="498.4" r="12.55"/><circle cx="2347.0" cy="496.2" r="12.55"/><circle cx="2348.1" cy="557.8" r="12.55"/><circle cx="2349.3" cy="503.0" r="12.55"/><circle cx="2350.5" cy="471.1" r="12.55"/><circle cx="2351.7" cy="516.4" r="12.55"/><circle cx="2352.9" cy="502.2" r="12.55"/><circle cx="2354.1" cy="503.3" r="12.55"/><circle cx="2355.3" cy="432.6" r="12.55"/><circle cx="2356.5" cy="512.0" r="12.55"/><circle cx="2357.6" cy="489.4" r="12.55"/><circle cx="2358.8" cy="493.0" r="12.55"/><circle cx="2360.0" cy="487.1" r="12.55"/><circle cx="2361.2" cy="503.1" r="12.55"/><circle cx="2362.4" cy="421.3" r="12.55"/><circle cx="2363.6" cy="588.2" r="12.55"/><circle cx="2364.8" cy="464.1" r="12.55"/><circle cx="2366.0" cy="514.4" r="12.55"/><circle cx="2367.1" cy="571.8" r="12.55"/><circle cx="2368.3" cy="469.8" r="12.55"/><circle cx="2369.5" cy="513.4" r="12.55"/><circle cx="2370.7" cy="553.0" r="12.55"/><circle cx="2371.9" cy="448.6" r="12.55"/><circle cx="2373.1" cy="511.0" r="12.55"/><circle cx="2374.3" cy="540.2" r="12.55"/><circle cx="2375.5" cy="490.8" r="12.55"/><circle cx="2376.7" cy="489.7" r="12.55"/><circle cx="2377.8" cy="536.0" r="12.55"/><circle cx="2379.0" cy="474.3" r="12.55"/><circle cx="2380.2" cy="476.3" r="12.55"/><circle cx="2381.4" cy="491.8" r="12.55"/><circle cx="2382.6" cy="514.9" r="12.55"/><circle cx="2383.8" cy="512.4" r="12.55"/><circle cx="2385.0" cy="477.8" r="12.55"/><circle cx="2386.2" cy="481.4" r="12.55"/><circle cx="2387.3" cy="425.0" r="12.55"/><circle cx="2388.5" cy="475.4" r="12.55"/><circle cx="2389.7" cy="461.4" r="12.55"/><circle cx="2390.9" cy="452.5" r="12.55"/><circle cx="2392.1" cy="503.8" r="12.55"/><circle cx="2393.3" cy="477.6" r="12.55"/><circle cx="2394.5" cy="497.7" r="12.55"/><circle cx="2395.7" cy="505.2" r="12.55"/><circle cx="2396.8" cy="467.9" r="12.55"/><circle cx="2398.0" cy="489.8" r="12.55"/><circle cx="2399.2" cy="501.7" r="12.55"/><circle cx="2400.4" cy="505.4" r="12.55"/><circle cx="2401.6" cy="508.2" r="12.55"/><circle cx="2402.8" cy="510.1" r="12.55"/><circle cx="2404.0" cy="494.6" r="12.55"/><circle cx="2405.2" cy="517.8" r="12.55"/><circle cx="2406.3" cy="479.0" r="12.55"/><circle cx="2407.5" cy="490.4" r="12.55"/><circle cx="2408.7" cy="493.4" r="12.55"/><circle cx="2409.9" cy="524.8" r="12.55"/><circle cx="2411.1" cy="539.5" r="12.55"/><circle cx="2412.3" cy="525.3" r="12.55"/><circle cx="2413.5" cy="534.4" r="12.55"/><circle cx="2414.7" cy="496.9" r="12.55"/><circle cx="2415.8" cy="488.8" r="12.55"/><circle cx="2417.0" cy="430.5" r="12.55"/><circle cx="2418.2" cy="509.8" r="12.55"/><circle cx="2419.4" cy="534.9" r="12.55"/><circle cx="2420.6" cy="529.4" r="12.55"/><circle cx="2421.8" cy="500.9" r="12.55"/><circle cx="2423.0" cy="505.0" r="12.55"/><circle cx="2424.2" cy="464.8" r="12.55"/><circle cx="2425.3" cy="488.0" r="12.55"/><circle cx="2426.5" cy="498.8" r="12.55"/><circle cx="2427.7" cy="485.5" r="12.55"/><circle cx="2428.9" cy="483.1" r="12.55"/><circle cx="2430.1" cy="460.4" r="12.55"/><circle cx="2431.3" cy="470.4" r="12.55"/><circle cx="2432.5" cy="494.2" r="12.55"/><circle cx="2433.7" cy="459.6" r="12.55"/><circle cx="2434.9" cy="496.9" r="12.55"/><circle cx="2436.0" cy="501.0" r="12.55"/><circle cx="2437.2" cy="490.3" r="12.55"/><circle cx="2438.4" cy="501.4" r="12.55"/><circle cx="2439.6" cy="488.9" r="12.55"/><circle cx="2440.8" cy="460.0" r="12.55"/><circle cx="2442.0" cy="465.8" r="12.55"/><circle cx="2443.2" cy="500.7" r="12.55"/><circle cx="2444.4" cy="580.7" r="12.55"/><circle cx="2445.5" cy="506.5" r="12.55"/><circle cx="2446.7" cy="489.7" r="12.55"/><circle cx="2447.9" cy="510.9" r="12.55"/><circle cx="2449.1" cy="458.2" r="12.55"/><circle cx="2450.3" cy="483.1" r="12.55"/><circle cx="2451.5" cy="503.1" r="12.55"/><circle cx="2452.7" cy="512.1" r="12.55"/><circle cx="2453.9" cy="505.5" r="12.55"/><circle cx="2455.0" cy="505.9" r="12.55"/><circle cx="2456.2" cy="477.1" r="12.55"/><circle cx="2457.4" cy="430.3" r="12.55"/><circle cx="2458.6" cy="513.1" r="12.55"/><circle cx="2459.8" cy="557.4" r="12.55"/><circle cx="2461.0" cy="469.6" r="12.55"/><circle cx="2462.2" cy="490.4" r="12.55"/><circle cx="2463.4" cy="540.8" r="12.55"/><circle cx="2464.5" cy="514.0" r="12.55"/><circle cx="2465.7" cy="537.4" r="12.55"/><circle cx="2466.9" cy="529.3" r="12.55"/><circle cx="2468.1" cy="476.7" r="12.55"/><circle cx="2469.3" cy="486.2" r="12.55"/><circle cx="2470.5" cy="453.3" r="12.55"/><circle cx="2471.7" cy="418.4" r="12.55"/><circle cx="2472.9" cy="506.4" r="12.55"/><circle cx="2474.0" cy="502.5" r="12.55"/><circle cx="2475.2" cy="505.8" r="12.55"/><circle cx="2476.4" cy="500.4" r="12.55"/><circle cx="2477.6" cy="493.8" r="12.55"/><circle cx="2478.8" cy="496.6" r="12.55"/><circle cx="2480.0" cy="523.4" r="12.55"/><circle cx="2481.2" cy="469.1" r="12.55"/><circle cx="2482.4" cy="462.9" r="12.55"/><circle cx="2483.5" cy="492.8" r="12.55"/><circle cx="2484.7" cy="525.8" r="12.55"/><circle cx="2485.9" cy="501.5" r="12.55"/><circle cx="2487.1" cy="489.1" r="12.55"/><circle cx="2488.3" cy="518.7" r="12.55"/><circle cx="2489.5" cy="500.1" r="12.55"/><circle cx="2490.7" cy="444.2" r="12.55"/><circle cx="2491.9" cy="469.2" r="12.55"/><circle cx="2493.1" cy="556.9" r="12.55"/><circle cx="2494.2" cy="489.8" r="12.55"/><circle cx="2495.4" cy="482.9" r="12.55"/><circle cx="2496.6" cy="508.3" r="12.55"/><circle cx="2497.8" cy="521.8" r="12.55"/><circle cx="2499.0" cy="477.4" r="12.55"/><circle cx="2500.2" cy="494.2" r="12.55"/><circle cx="2501.4" cy="482.4" r="12.55"/><circle cx="2502.6" cy="517.5" r="12.55"/><circle cx="2503.7" cy="472.0" r="12.55"/><circle cx="2504.9" cy="472.8" r="12.55"/><circle cx="2506.1" cy="500.3" r="12.55"/><circle cx="2507.3" cy="468.9" r="12.55"/><circle cx="2508.5" cy="455.8" r="12.55"/><circle cx="2509.7" cy="555.2" r="12.55"/><circle cx="2510.9" cy="490.1" r="12.55"/><circle cx="2512.1" cy="468.1" r="12.55"/><circle cx="2513.2" cy="472.4" r="12.55"/><circle cx="2514.4" cy="484.6" r="12.55"/><circle cx="2515.6" cy="515.8" r="12.55"/><circle cx="2516.8" cy="533.8" r="12.55"/><circle cx="2518.0" cy="457.8" r="12.55"/><circle cx="2519.2" cy="527.3" r="12.55"/><circle cx="2520.4" cy="497.1" r="12.55"/><circle cx="2521.6" cy="506.7" r="12.55"/><circle cx="2522.7" cy="522.8" r="12.55"/><circle cx="2523.9" cy="469.6" r="12.55"/><circle cx="2525.1" cy="520.3" r="12.55"/><circle cx="2526.3" cy="460.9" r="12.55"/><circle cx="2527.5" cy="483.6" r="12.55"/><circle cx="2528.7" cy="473.3" r="12.55"/><circle cx="2529.9" cy="544.1" r="12.55"/><circle cx="2531.1" cy="541.7" r="12.55"/><circle cx="2532.2" cy="513.7" r="12.55"/><circle cx="2533.4" cy="507.2" r="12.55"/><circle cx="2534.6" cy="475.3" r="12.55"/><circle cx="2535.8" cy="537.6" r="12.55"/><circle cx="2537.0" cy="526.1" r="12.55"/><circle cx="2538.2" cy="511.0" r="12.55"/><circle cx="2539.4" cy="481.3" r="12.55"/><circle cx="2540.6" cy="474.4" r="12.55"/><circle cx="2541.7" cy="482.1" r="12.55"/><circle cx="2542.9" cy="522.6" r="12.55"/><circle cx="2544.1" cy="460.7" r="12.55"/><circle cx="2545.3" cy="490.7" r="12.55"/><circle cx="2546.5" cy="534.4" r="12.55"/><circle cx="2547.7" cy="513.7" r="12.55"/><circle cx="2548.9" cy="541.1" r="12.55"/><circle cx="2550.1" cy="504.2" r="12.55"/><circle cx="2551.3" cy="506.1" r="12.55"/><circle cx="2552.4" cy="532.4" r="12.55"/><circle cx="2553.6" cy="512.3" r="12.55"/><circle cx="2554.8" cy="550.6" r="12.55"/><circle cx="2556.0" cy="479.1" r="12.55"/><circle cx="2557.2" cy="408.7" r="12.55"/><circle cx="2558.4" cy="532.7" r="12.55"/><circle cx="2559.6" cy="477.5" r="12.55"/><circle cx="2560.8" cy="467.8" r="12.55"/><circle cx="2561.9" cy="510.4" r="12.55"/><circle cx="2563.1" cy="460.3" r="12.55"/><circle cx="2564.3" cy="445.8" r="12.55"/><circle cx="2565.5" cy="467.4" r="12.55"/><circle cx="2566.7" cy="479.9" r="12.55"/><circle cx="2567.9" cy="491.4" r="12.55"/><circle cx="2569.1" cy="428.2" r="12.55"/><circle cx="2570.3" cy="514.3" r="12.55"/><circle cx="2571.4" cy="487.2" r="12.55"/><circle cx="2572.6" cy="503.6" r="12.55"/><circle cx="2573.8" cy="492.7" r="12.55"/><circle cx="2575.0" cy="479.8" r="12.55"/><circle cx="2576.2" cy="602.0" r="12.55"/><circle cx="2577.4" cy="512.6" r="12.55"/><circle cx="2578.6" cy="515.7" r="12.55"/><circle cx="2579.8" cy="524.5" r="12.55"/><circle cx="2580.9" cy="489.6" r="12.55"/><circle cx="2582.1" cy="525.8" r="12.55"/><circle cx="2583.3" cy="500.5" r="12.55"/><circle cx="2584.5" cy="549.4" r="12.55"/><circle cx="2585.7" cy="452.3" r="12.55"/><circle cx="2586.9" cy="477.2" r="12.55"/><circle cx="2588.1" cy="473.7" r="12.55"/><circle cx="2589.3" cy="491.9" r="12.55"/><circle cx="2590.4" cy="481.1" r="12.55"/><circle cx="2591.6" cy="440.2" r="12.55"/><circle cx="2592.8" cy="502.7" r="12.55"/><circle cx="2594.0" cy="490.3" r="12.55"/><circle cx="2595.2" cy="528.4" r="12.55"/><circle cx="2596.4" cy="530.1" r="12.55"/><circle cx="2597.6" cy="480.0" r="12.55"/><circle cx="2598.8" cy="507.4" r="12.55"/><circle cx="2599.9" cy="551.5" r="12.55"/><circle cx="2601.1" cy="456.7" r="12.55"/><circle cx="2602.3" cy="530.4" r="12.55"/><circle cx="2603.5" cy="513.9" r="12.55"/><circle cx="2604.7" cy="486.3" r="12.55"/><circle cx="2605.9" cy="484.4" r="12.55"/><circle cx="2607.1" cy="519.3" r="12.55"/><circle cx="2608.3" cy="502.8" r="12.55"/><circle cx="2609.4" cy="482.8" r="12.55"/>
</g>
<polyline clip-path="url(#c1)" points="233.9,491.7 235.1,491.6 236.3,490.9 237.5,493.5 238.7,496.5 239.9,497.4 241.1,499.0 242.3,501.5 243.5,499.8 244.6,499.7 245.8,499.7 247.0,498.6 248.2,497.3 249.4,496.4 250.6,495.0 251.8,491.8 253.0,490.4 254.1,488.0 255.3,486.4 256.5,485.8 257.7,487.8 258.9,488.1 260.1,490.2 261.3,491.5 262.5,493.3 263.6,493.7 264.8,492.2 266.0,490.5 267.2,487.8 268.4,485.2 269.6,482.4 270.8,481.5 272.0,477.2 273.1,477.0 274.3,477.0 275.5,478.8 276.7,480.1 277.9,483.5 279.1,486.3 280.3,488.4 281.5,489.2 282.6,490.7 283.8,493.2 285.0,496.2 286.2,498.3 287.4,502.0 288.6,501.9 289.8,501.4 291.0,498.4 292.1,497.8 293.3,494.8 294.5,493.9 295.7,491.4 296.9,492.4 298.1,490.3 299.3,490.5 300.5,490.2 301.7,489.8 302.8,488.1 304.0,489.4 305.2,488.5 306.4,489.2 307.6,490.0 308.8,490.0 310.0,490.6 311.2,491.6 312.3,493.0 313.5,492.9 314.7,494.0 315.9,495.3 317.1,497.9 318.3,497.6 319.5,498.4 320.7,500.3 321.8,497.9 323.0,498.2 324.2,498.5 325.4,495.9 326.6,493.8 327.8,494.2 329.0,491.0 330.2,485.5 331.3,483.7 332.5,481.3 333.7,481.2 334.9,482.0 336.1,485.4 337.3,484.9 338.5,486.5 339.7,487.9 340.8,489.8 342.0,491.1 343.2,494.3 344.4,493.6 345.6,493.6 346.8,490.5 348.0,490.0 349.2,487.3 350.3,483.8 351.5,478.6 352.7,478.2 353.9,474.6 355.1,476.3 356.3,478.5 357.5,480.5 358.7,480.4 359.9,483.4 361.0,484.0 362.2,485.6 363.4,487.4 364.6,488.8 365.8,490.1 367.0,490.2 368.2,491.5 369.4,492.8 370.5,493.5 371.7,493.3 372.9,495.3 374.1,493.8 375.3,495.0 376.5,496.4 377.7,495.7 378.9,495.3 380.0,497.8 381.2,496.2 382.4,493.9 383.6,492.3 384.8,490.3 386.0,489.2 387.2,488.5 388.4,487.6 389.5,489.5 390.7,490.0 391.9,487.8 393.1,486.9 394.3,488.3 395.5,490.1 396.7,490.6 397.9,491.9 399.0,494.4 400.2,496.5 401.4,493.5 402.6,495.2 403.8,495.5 405.0,492.0 406.2,491.6 407.4,491.6 408.5,492.4 409.7,493.2 410.9,495.8 412.1,497.8 413.3,502.5 414.5,504.7 415.7,508.9 416.9,513.3 418.1,515.1 419.2,516.2 420.4,517.7 421.6,515.8 422.8,512.8 424.0,509.5 425.2,507.2 426.4,502.4 427.6,500.0 428.7,499.2 429.9,502.4 431.1,503.9 432.3,506.9 433.5,509.3 434.7,513.0 435.9,514.3 437.1,516.3 438.2,518.0 439.4,516.2 440.6,513.6 441.8,513.5 443.0,510.5 444.2,507.6 445.4,507.3 446.6,506.5 447.7,504.7 448.9,507.5 450.1,506.7 451.3,507.5 452.5,510.9 453.7,512.5 454.9,513.3 456.1,515.3 457.2,516.0 458.4,514.6 459.6,512.6 460.8,510.2 462.0,508.0 463.2,507.4 464.4,505.4 465.6,503.0 466.7,501.4 467.9,498.3 469.1,492.9 470.3,489.7 471.5,486.2 472.7,484.1 473.9,486.8 475.1,490.4 476.3,492.2 477.4,495.3 478.6,497.7 479.8,499.9 481.0,501.3 482.2,503.5 483.4,506.8 484.6,507.6 485.8,505.4 486.9,503.2 488.1,499.8 489.3,495.5 490.5,493.0 491.7,489.4 492.9,485.6 494.1,483.5 495.3,482.0 496.4,483.8 497.6,485.3 498.8,488.1 500.0,492.2 501.2,494.3 502.4,494.6 503.6,495.3 504.8,496.0 505.9,494.4 507.1,494.4 508.3,493.3 509.5,494.2 510.7,492.7 511.9,492.0 513.1,490.7 514.3,491.4 515.4,490.4 516.6,491.1 517.8,488.8 519.0,489.7 520.2,490.7 521.4,492.7 522.6,496.1 523.8,498.7 524.9,499.2 526.1,498.0 527.3,497.8 528.5,495.3 529.7,494.8 530.9,494.3 532.1,496.9 533.3,497.2 534.5,498.4 535.6,498.6 536.8,499.4 538.0,498.0 539.2,498.1 540.4,497.0 541.6,498.2 542.8,498.7 544.0,499.3 545.1,501.0 546.3,500.6 547.5,499.4 548.7,499.6 549.9,499.3 551.1,499.3 552.3,501.8 553.5,503.5 554.6,505.9 555.8,506.5 557.0,504.7 558.2,505.0 559.4,506.2 560.6,504.7 561.8,502.2 563.0,502.1 564.1,499.9 565.3,498.0 566.5,496.9 567.7,497.9 568.9,497.9 570.1,497.4 571.3,495.8 572.5,495.2 573.6,492.9 574.8,491.4 576.0,490.7 577.2,492.1 578.4,491.8 579.6,495.0 580.8,496.9 582.0,500.3 583.1,504.5 584.3,505.2 585.5,502.4 586.7,502.0 587.9,501.1 589.1,498.8 590.3,498.4 591.5,497.2 592.7,495.6 593.8,493.3 595.0,492.6 596.2,492.6 597.4,492.3 598.6,491.5 599.8,491.1 601.0,490.1 602.2,489.8 603.3,490.9 604.5,492.0 605.7,493.6 606.9,493.8 608.1,493.6 609.3,494.5 610.5,496.2 611.7,497.8 612.8,501.4 614.0,501.7 615.2,502.6 616.4,501.1 617.6,500.6 618.8,498.3 620.0,501.5 621.2,503.3 622.3,504.6 623.5,505.1 624.7,505.9 625.9,504.8 627.1,503.2 628.3,502.6 629.5,500.6 630.7,498.8 631.8,495.8 633.0,493.2 634.2,490.9 635.4,491.1 636.6,489.0 637.8,487.6 639.0,487.9 640.2,488.0 641.3,487.2 642.5,486.0 643.7,486.1 644.9,483.4 646.1,481.3 647.3,478.6 648.5,479.3 649.7,478.7 650.9,479.9 652.0,483.7 653.2,485.1 654.4,486.4 655.6,488.6 656.8,490.9 658.0,491.5 659.2,494.3 660.4,495.4 661.5,496.6 662.7,496.2 663.9,494.4 665.1,493.5 666.3,492.1 667.5,490.9 668.7,490.8 669.9,490.7 671.0,490.5 672.2,491.3 673.4,487.7 674.6,487.0 675.8,487.1 677.0,487.2 678.2,487.2 679.4,490.1 680.5,491.8 681.7,493.6 682.9,492.7 684.1,493.1 685.3,494.9 686.5,493.1 687.7,491.3 688.9,492.4 690.0,491.1 691.2,490.1 692.4,489.8 693.6,489.0 694.8,487.1 696.0,487.5 697.2,485.7 698.4,485.8 699.5,484.9 700.7,484.4 701.9,486.4 703.1,487.9 704.3,489.3 705.5,493.2 706.7,496.4 707.9,495.4 709.0,496.1 710.2,494.8 711.4,491.9 712.6,489.1 713.8,489.3 715.0,487.1 716.2,487.4 717.4,487.7 718.6,490.3 719.7,492.7 720.9,493.3 722.1,492.6 723.3,492.0 724.5,491.5 725.7,491.0 726.9,492.9 728.1,494.1 729.2,494.7 730.4,495.4 731.6,494.9 732.8,495.8 734.0,495.8 735.2,497.4 736.4,499.2 737.6,500.6 738.7,500.2 739.9,502.9 741.1,504.2 742.3,503.9 743.5,502.0 744.7,501.1 745.9,499.7 747.1,497.3 748.2,495.1 749.4,496.3 750.6,497.7 751.8,497.4 753.0,498.8 754.2,500.0 755.4,497.4 756.6,496.9 757.7,495.6 758.9,494.1 760.1,494.0 761.3,494.7 762.5,494.5 763.7,494.0 764.9,492.8 766.1,490.3 767.2,489.3 768.4,485.9 769.6,485.4 770.8,485.2 772.0,484.9 773.2,482.6 774.4,481.7 775.6,481.9 776.8,480.8 777.9,482.1 779.1,483.0 780.3,484.8 781.5,482.5 782.7,482.5 783.9,481.5 785.1,484.5 786.3,488.3 787.4,493.1 788.6,495.1 789.8,498.0 791.0,500.0 792.2,500.5 793.4,502.1 794.6,505.1 795.8,503.7 796.9,503.6 798.1,504.0 799.3,501.1 800.5,499.8 801.7,500.3 802.9,498.1 804.1,496.9 805.3,496.7 806.4,494.6 807.6,492.3 808.8,489.8 810.0,487.1 811.2,485.4 812.4,482.8 813.6,480.9 814.8,481.9 815.9,481.9 817.1,484.6 818.3,484.7 819.5,487.3 820.7,489.0 821.9,490.5 823.1,491.6 824.3,494.2 825.4,496.7 826.6,498.5 827.8,501.1 829.0,500.4 830.2,500.1 831.4,497.5 832.6,494.7 833.8,491.9 835.0,491.1 836.1,487.4 837.3,485.6 838.5,483.1 839.7,480.1 840.9,474.5 842.1,471.9 843.3,467.3 844.5,467.9 845.6,471.4 846.8,475.5 848.0,478.4 849.2,481.8 850.4,484.5 851.6,485.3 852.8,486.9 854.0,491.8 855.1,494.1 856.3,492.6 857.5,491.8 858.7,491.4 859.9,486.3 861.1,484.1 862.3,483.7 863.5,482.9 864.6,484.3 865.8,489.6 867.0,490.6 868.2,491.9 869.4,496.2 870.6,497.5 871.8,496.4 873.0,500.0 874.1,502.6 875.3,502.6 876.5,502.5 877.7,501.5 878.9,500.2 880.1,500.0 881.3,499.8 882.5,498.9 883.6,497.1 884.8,496.4 886.0,495.0 887.2,493.4 888.4,491.4 889.6,493.6 890.8,492.8 892.0,493.4 893.2,494.9 894.3,496.2 895.5,494.0 896.7,491.0 897.9,490.4 899.1,487.5 900.3,485.0 901.5,484.3 902.7,484.1 903.8,481.9 905.0,481.5 906.2,480.9 907.4,478.5 908.6,480.0 909.8,481.4 911.0,482.8 912.2,482.8 913.3,484.1 914.5,484.2 915.7,484.1 916.9,483.1 918.1,483.6 919.3,483.7 920.5,482.7 921.7,482.3 922.8,483.1 924.0,483.5 925.2,483.4 926.4,485.2 927.6,488.6 928.8,490.8 930.0,490.7 931.2,492.6 932.3,494.7 933.5,494.6 934.7,494.8 935.9,497.9 937.1,499.9 938.3,498.8 939.5,498.7 940.7,495.8 941.8,493.8 943.0,493.2 944.2,493.0 945.4,489.9 946.6,488.8 947.8,486.4 949.0,482.6 950.2,479.5 951.4,479.1 952.5,478.3 953.7,480.4 954.9,483.0 956.1,485.4 957.3,485.8 958.5,488.7 959.7,490.2 960.9,491.7 962.0,492.7 963.2,492.4 964.4,493.0 965.6,493.2 966.8,492.0 968.0,491.5 969.2,493.2 970.4,491.7 971.5,492.5 972.7,494.8 973.9,497.0 975.1,498.9 976.3,499.3 977.5,500.4 978.7,500.2 979.9,499.9 981.0,497.9 982.2,497.5 983.4,494.1 984.6,494.1 985.8,490.2 987.0,485.6 988.2,483.6 989.4,482.0 990.5,482.4 991.7,485.0 992.9,488.9 994.1,490.7 995.3,494.0 996.5,492.8 997.7,492.5 998.9,491.5 1000.0,489.2 1001.2,487.7 1002.4,486.8 1003.6,485.1 1004.8,483.5 1006.0,483.7 1007.2,483.8 1008.4,484.3 1009.6,484.4 1010.7,486.8 1011.9,486.0 1013.1,486.1 1014.3,487.2 1015.5,490.4 1016.7,488.8 1017.9,491.2 1019.1,493.1 1020.2,493.6 1021.4,493.8 1022.6,494.2 1023.8,494.2 1025.0,494.7 1026.2,495.1 1027.4,493.4 1028.6,493.5 1029.7,492.8 1030.9,491.7 1032.1,489.3 1033.3,488.5 1034.5,490.3 1035.7,491.7 1036.9,492.9 1038.1,496.6 1039.2,499.6 1040.4,500.3 1041.6,502.0 1042.8,504.1 1044.0,505.7 1045.2,507.4 1046.4,508.4 1047.6,509.9 1048.7,509.7 1049.9,509.9 1051.1,510.4 1052.3,511.5 1053.5,512.1 1054.7,513.8 1055.9,514.8 1057.1,514.2 1058.2,514.0 1059.4,512.2 1060.6,511.0 1061.8,508.4 1063.0,505.3 1064.2,501.8 1065.4,500.3 1066.6,495.1 1067.8,492.2 1068.9,490.2 1070.1,489.4 1071.3,486.1 1072.5,487.6 1073.7,488.6 1074.9,490.3 1076.1,491.7 1077.3,493.8 1078.4,494.4 1079.6,496.1 1080.8,494.8 1082.0,493.4 1083.2,491.2 1084.4,488.9 1085.6,485.1 1086.8,483.4 1087.9,482.3 1089.1,482.4 1090.3,482.0 1091.5,482.7 1092.7,482.7 1093.9,480.0 1095.1,477.0 1096.3,477.3 1097.4,478.2 1098.6,481.2 1099.8,482.8 1101.0,485.5 1102.2,485.6 1103.4,487.8 1104.6,489.1 1105.8,491.4 1106.9,491.2 1108.1,490.7 1109.3,487.4 1110.5,485.7 1111.7,482.8 1112.9,482.6 1114.1,483.9 1115.3,485.5 1116.4,485.7 1117.6,488.0 1118.8,489.7 1120.0,490.8 1121.2,494.7 1122.4,499.5 1123.6,503.1 1124.8,504.0 1126.0,504.8 1127.1,505.6 1128.3,505.6 1129.5,504.2 1130.7,505.6 1131.9,506.9 1133.1,505.0 1134.3,504.0 1135.5,503.3 1136.6,503.1 1137.8,504.3 1139.0,504.2 1140.2,504.4 1141.4,503.1 1142.6,502.6 1143.8,500.5 1145.0,502.3 1146.1,500.1 1147.3,500.0 1148.5,500.0 1149.7,498.1 1150.9,495.6 1152.1,494.2 1153.3,495.5 1154.5,493.3 1155.6,494.7 1156.8,493.6 1158.0,492.6 1159.2,488.8 1160.4,489.8 1161.6,488.5 1162.8,486.8 1164.0,486.8 1165.1,488.9 1166.3,485.3 1167.5,486.5 1168.7,486.6 1169.9,485.9 1171.1,485.5 1172.3,486.3 1173.5,482.8 1174.6,483.2 1175.8,483.3 1177.0,482.9 1178.2,482.6 1179.4,484.1 1180.6,485.7 1181.8,486.9 1183.0,486.0 1184.2,488.3 1185.3,492.0 1186.5,492.8 1187.7,496.4 1188.9,499.8 1190.1,502.2 1191.3,502.0 1192.5,502.8 1193.7,501.2 1194.8,501.2 1196.0,500.5 1197.2,502.0 1198.4,499.8 1199.6,499.0 1200.8,497.3 1202.0,495.2 1203.2,493.2 1204.3,493.5 1205.5,492.9 1206.7,491.8 1207.9,492.3 1209.1,490.6 1210.3,492.0 1211.5,492.1 1212.7,494.5 1213.8,494.4 1215.0,495.2 1216.2,494.9 1217.4,495.4 1218.6,494.4 1219.8,496.1 1221.0,498.1 1222.2,499.0 1223.3,500.7 1224.5,502.4 1225.7,504.1 1226.9,504.6 1228.1,508.3 1229.3,510.3 1230.5,513.6 1231.7,513.9 1232.8,516.5 1234.0,515.0 1235.2,515.1 1236.4,513.9 1237.6,512.3 1238.8,511.8 1240.0,509.4 1241.2,508.5 1242.3,506.4 1243.5,505.6 1244.7,503.9 1245.9,504.0 1247.1,500.7 1248.3,498.8 1249.5,499.0 1250.7,495.9 1251.9,493.9 1253.0,495.2 1254.2,494.0 1255.4,492.8 1256.6,493.3 1257.8,494.1 1259.0,493.3 1260.2,492.5 1261.4,492.8 1262.5,494.6 1263.7,494.1 1264.9,496.1 1266.1,499.8 1267.3,500.3 1268.5,500.8 1269.7,504.4 1270.9,503.3 1272.0,504.6 1273.2,505.6 1274.4,504.1 1275.6,501.0 1276.8,500.1 1278.0,498.0 1279.2,497.0 1280.4,497.7 1281.5,494.7 1282.7,490.6 1283.9,489.2 1285.1,488.4 1286.3,485.2 1287.5,488.3 1288.7,489.9 1289.9,488.8 1291.0,489.6 1292.2,492.1 1293.4,493.3 1294.6,493.2 1295.8,493.9 1297.0,494.0 1298.2,493.6 1299.4,492.0 1300.5,493.4 1301.7,493.8 1302.9,494.3 1304.1,495.9 1305.3,497.3 1306.5,497.9 1307.7,500.0 1308.9,500.3 1310.1,498.1 1311.2,495.8 1312.4,495.1 1313.6,495.9 1314.8,494.5 1316.0,493.5 1317.2,493.7 1318.4,493.4 1319.6,492.1 1320.7,490.3 1321.9,490.3 1323.1,491.5 1324.3,492.6 1325.5,491.9 1326.7,494.8 1327.9,494.6 1329.1,493.8 1330.2,491.7 1331.4,489.8 1332.6,488.8 1333.8,488.5 1335.0,487.1 1336.2,487.9 1337.4,487.3 1338.6,486.6 1339.7,488.6 1340.9,488.0 1342.1,487.5 1343.3,488.4 1344.5,485.9 1345.7,482.0 1346.9,482.4 1348.1,481.4 1349.2,483.3 1350.4,487.3 1351.6,491.7 1352.8,494.9 1354.0,500.9 1355.2,503.3 1356.4,507.1 1357.6,509.8 1358.7,512.5 1359.9,513.4 1361.1,515.0 1362.3,511.6 1363.5,509.3 1364.7,507.3 1365.9,504.3 1367.1,500.0 1368.3,497.3 1369.4,494.0 1370.6,490.6 1371.8,489.4 1373.0,489.3 1374.2,488.9 1375.4,486.6 1376.6,483.4 1377.8,479.0 1378.9,476.3 1380.1,475.3 1381.3,476.2 1382.5,478.2 1383.7,481.1 1384.9,479.9 1386.1,481.3 1387.3,483.8 1388.4,485.8 1389.6,486.9 1390.8,491.2 1392.0,493.5 1393.2,496.7 1394.4,499.1 1395.6,500.8 1396.8,499.8 1397.9,496.9 1399.1,493.5 1400.3,489.9 1401.5,487.9 1402.7,487.6 1403.9,488.5 1405.1,488.4 1406.3,488.5 1407.4,488.8 1408.6,487.8 1409.8,485.7 1411.0,485.6 1412.2,486.3 1413.4,484.5 1414.6,484.9 1415.8,485.1 1416.9,485.3 1418.1,487.0 1419.3,488.7 1420.5,491.1 1421.7,494.2 1422.9,494.6 1424.1,492.5 1425.3,494.2 1426.5,493.4 1427.6,491.0 1428.8,490.1 1430.0,491.4 1431.2,488.3 1432.4,486.1 1433.6,483.8 1434.8,481.3 1436.0,479.1 1437.1,476.8 1438.3,473.4 1439.5,473.1 1440.7,474.1 1441.9,473.1 1443.1,475.3 1444.3,478.3 1445.5,482.2 1446.6,483.4 1447.8,487.6 1449.0,489.5 1450.2,490.0 1451.4,490.4 1452.6,493.4 1453.8,494.5 1455.0,495.9 1456.1,497.2 1457.3,498.7 1458.5,498.5 1459.7,497.5 1460.9,496.1 1462.1,496.3 1463.3,492.9 1464.5,491.0 1465.6,488.2 1466.8,487.1 1468.0,484.8 1469.2,485.5 1470.4,483.6 1471.6,483.1 1472.8,481.4 1474.0,479.8 1475.1,479.9 1476.3,482.8 1477.5,485.7 1478.7,487.6 1479.9,490.7 1481.1,491.9 1482.3,494.2 1483.5,495.5 1484.7,498.2 1485.8,499.5 1487.0,502.3 1488.2,503.2 1489.4,501.9 1490.6,499.8 1491.8,499.3 1493.0,498.7 1494.2,496.8 1495.3,497.0 1496.5,496.3 1497.7,495.2 1498.9,495.1 1500.1,496.4 1501.3,497.7 1502.5,498.8 1503.7,499.0 1504.8,497.9 1506.0,495.4 1507.2,491.8 1508.4,490.1 1509.6,487.8 1510.8,485.8 1512.0,484.1 1513.2,484.9 1514.3,486.2 1515.5,491.1 1516.7,493.4 1517.9,495.1 1519.1,498.0 1520.3,499.7 1521.5,501.1 1522.7,502.6 1523.8,506.5 1525.0,507.2 1526.2,506.7 1527.4,503.9 1528.6,504.3 1529.8,502.1 1531.0,501.1 1532.2,502.0 1533.3,502.4 1534.5,500.5 1535.7,498.6 1536.9,495.9 1538.1,491.7 1539.3,489.6 1540.5,489.0 1541.7,487.1 1542.9,485.6 1544.0,487.3 1545.2,486.9 1546.4,487.0 1547.6,488.9 1548.8,489.5 1550.0,488.5 1551.2,488.4 1552.4,486.3 1553.5,484.6 1554.7,484.1 1555.9,482.9 1557.1,482.8 1558.3,483.3 1559.5,484.8 1560.7,485.0 1561.9,485.0 1563.0,486.3 1564.2,486.2 1565.4,485.8 1566.6,487.8 1567.8,488.7 1569.0,489.7 1570.2,490.9 1571.4,490.9 1572.5,489.9 1573.7,489.9 1574.9,488.7 1576.1,489.0 1577.3,490.6 1578.5,491.2 1579.7,491.5 1580.9,491.1 1582.0,494.4 1583.2,493.4 1584.4,494.3 1585.6,493.4 1586.8,493.3 1588.0,491.5 1589.2,490.6 1590.4,488.3 1591.5,489.3 1592.7,489.3 1593.9,487.8 1595.1,488.9 1596.3,490.6 1597.5,491.0 1598.7,492.6 1599.9,495.0 1601.1,497.2 1602.2,497.2 1603.4,496.4 1604.6,496.3 1605.8,497.2 1607.0,496.6 1608.2,497.4 1609.4,499.7 1610.6,503.1 1611.7,503.2 1612.9,503.6 1614.1,502.1 1615.3,498.7 1616.5,496.6 1617.7,493.2 1618.9,490.3 1620.1,487.3 1621.2,485.9 1622.4,479.1 1623.6,474.2 1624.8,470.8 1626.0,470.1 1627.2,471.9 1628.4,474.2 1629.6,476.7 1630.7,478.6 1631.9,479.2 1633.1,478.1 1634.3,479.9 1635.5,482.6 1636.7,483.8 1637.9,487.2 1639.1,489.4 1640.2,491.0 1641.4,491.8 1642.6,494.0 1643.8,493.8 1645.0,493.5 1646.2,491.0 1647.4,490.4 1648.6,487.9 1649.7,486.0 1650.9,484.4 1652.1,485.0 1653.3,483.1 1654.5,483.1 1655.7,484.8 1656.9,487.0 1658.1,487.2 1659.2,491.8 1660.4,493.0 1661.6,496.2 1662.8,498.1 1664.0,501.4 1665.2,500.5 1666.4,505.4 1667.6,507.0 1668.8,509.0 1669.9,509.7 1671.1,512.1 1672.3,513.8 1673.5,514.3 1674.7,512.9 1675.9,511.5 1677.1,511.0 1678.3,507.5 1679.4,506.7 1680.6,506.0 1681.8,504.3 1683.0,503.4 1684.2,504.6 1685.4,503.2 1686.6,500.7 1687.8,500.3 1688.9,499.0 1690.1,494.9 1691.3,492.5 1692.5,492.9 1693.7,491.3 1694.9,488.1 1696.1,488.2 1697.3,488.1 1698.4,485.6 1699.6,482.9 1700.8,480.4 1702.0,479.1 1703.2,477.3 1704.4,478.8 1705.6,482.9 1706.8,484.1 1707.9,486.3 1709.1,490.4 1710.3,492.1 1711.5,493.8 1712.7,498.8 1713.9,502.0 1715.1,506.2 1716.3,508.8 1717.4,508.4 1718.6,506.1 1719.8,502.4 1721.0,498.8 1722.2,497.0 1723.4,496.4 1724.6,495.7 1725.8,496.5 1727.0,495.1 1728.1,494.0 1729.3,491.8 1730.5,491.2 1731.7,489.4 1732.9,488.8 1734.1,489.1 1735.3,489.7 1736.5,490.5 1737.6,494.6 1738.8,496.1 1740.0,495.7 1741.2,496.7 1742.4,497.9 1743.6,497.3 1744.8,497.7 1746.0,500.2 1747.1,502.0 1748.3,501.3 1749.5,501.8 1750.7,501.8 1751.9,503.0 1753.1,502.5 1754.3,503.7 1755.5,502.6 1756.6,503.0 1757.8,502.0 1759.0,502.7 1760.2,504.1 1761.4,504.7 1762.6,505.9 1763.8,504.9 1765.0,505.5 1766.1,504.9 1767.3,503.7 1768.5,503.8 1769.7,504.4 1770.9,503.0 1772.1,501.0 1773.3,500.4 1774.5,497.2 1775.6,495.4 1776.8,493.1 1778.0,492.6 1779.2,491.4 1780.4,492.2 1781.6,491.6 1782.8,493.2 1784.0,494.3 1785.2,494.3 1786.3,493.6 1787.5,492.2 1788.7,490.3 1789.9,486.2 1791.1,484.9 1792.3,483.4 1793.5,482.5 1794.7,480.7 1795.8,480.9 1797.0,480.4 1798.2,479.7 1799.4,479.5 1800.6,482.4 1801.8,485.0 1803.0,487.1 1804.2,488.0 1805.3,490.2 1806.5,490.9 1807.7,487.6 1808.9,485.8 1810.1,485.2 1811.3,484.7 1812.5,480.2 1813.7,480.3 1814.8,478.6 1816.0,477.6 1817.2,475.5 1818.4,477.8 1819.6,478.0 1820.8,479.2 1822.0,481.4 1823.2,483.8 1824.3,486.5 1825.5,488.3 1826.7,489.9 1827.9,490.3 1829.1,494.0 1830.3,494.6 1831.5,495.4 1832.7,496.7 1833.8,497.0 1835.0,495.9 1836.2,495.2 1837.4,495.8 1838.6,496.8 1839.8,499.3 1841.0,500.3 1842.2,502.2 1843.4,503.2 1844.5,500.3 1845.7,497.6 1846.9,495.0 1848.1,493.1 1849.3,493.0 1850.5,494.1 1851.7,491.0 1852.9,489.5 1854.0,487.5 1855.2,486.3 1856.4,486.7 1857.6,488.3 1858.8,489.2 1860.0,490.9 1861.2,490.2 1862.4,491.9 1863.5,494.6 1864.7,496.3 1865.9,495.0 1867.1,494.3 1868.3,492.3 1869.5,490.4 1870.7,488.3 1871.9,485.5 1873.0,482.0 1874.2,483.0 1875.4,483.4 1876.6,483.9 1877.8,489.0 1879.0,492.2 1880.2,491.1 1881.4,492.2 1882.5,494.9 1883.7,494.4 1884.9,498.3 1886.1,500.7 1887.3,503.5 1888.5,502.9 1889.7,500.2 1890.9,497.6 1892.0,495.0 1893.2,491.8 1894.4,489.5 1895.6,491.2 1896.8,489.2 1898.0,487.4 1899.2,487.2 1900.4,486.5 1901.6,486.6 1902.7,488.0 1903.9,491.1 1905.1,490.2 1906.3,489.1 1907.5,486.1 1908.7,482.7 1909.9,478.9 1911.1,477.4 1912.2,478.1 1913.4,477.1 1914.6,477.4 1915.8,480.6 1917.0,481.7 1918.2,482.7 1919.4,485.6 1920.6,488.9 1921.7,488.0 1922.9,489.1 1924.1,491.8 1925.3,493.4 1926.5,494.7 1927.7,497.8 1928.9,497.5 1930.1,497.2 1931.2,496.7 1932.4,495.3 1933.6,495.0 1934.8,498.2 1936.0,498.8 1937.2,497.6 1938.4,499.3 1939.6,499.2 1940.7,498.5 1941.9,498.6 1943.1,500.7 1944.3,502.3 1945.5,502.4 1946.7,505.1 1947.9,505.1 1949.1,505.0 1950.2,504.3 1951.4,503.6 1952.6,499.8 1953.8,499.3 1955.0,495.7 1956.2,491.9 1957.4,492.3 1958.6,491.8 1959.8,489.7 1960.9,490.4 1962.1,490.7 1963.3,486.5 1964.5,484.0 1965.7,481.1 1966.9,480.5 1968.1,479.4 1969.3,479.5 1970.4,480.3 1971.6,482.4 1972.8,481.8 1974.0,484.3 1975.2,486.3 1976.4,487.5 1977.6,489.8 1978.8,493.7 1979.9,494.9 1981.1,496.6 1982.3,499.2 1983.5,500.1 1984.7,501.8 1985.9,503.2 1987.1,505.1 1988.3,504.7 1989.4,507.0 1990.6,506.9 1991.8,505.3 1993.0,499.4 1994.2,496.0 1995.4,492.8 1996.6,488.4 1997.8,485.1 1998.9,484.5 2000.1,484.1 2001.3,480.8 2002.5,479.5 2003.7,480.6 2004.9,482.5 2006.1,482.7 2007.3,483.6 2008.4,489.7 2009.6,491.1 2010.8,493.4 2012.0,494.9 2013.2,497.9 2014.4,497.0 2015.6,499.4 2016.8,501.2 2018.0,502.0 2019.1,502.6 2020.3,503.0 2021.5,501.4 2022.7,499.8 2023.9,498.0 2025.1,495.9 2026.3,492.7 2027.5,493.0 2028.6,492.1 2029.8,494.5 2031.0,494.8 2032.2,496.8 2033.4,497.6 2034.6,499.3 2035.8,498.2 2037.0,501.0 2038.1,501.6 2039.3,500.8 2040.5,501.5 2041.7,502.9 2042.9,503.8 2044.1,506.0 2045.3,509.1 2046.5,510.0 2047.6,507.9 2048.8,502.5 2050.0,498.0 2051.2,494.2 2052.4,487.0 2053.6,484.4 2054.8,484.4 2056.0,482.3 2057.1,480.5 2058.3,481.9 2059.5,484.2 2060.7,485.4 2061.9,485.5 2063.1,484.9 2064.3,486.1 2065.5,485.3 2066.6,484.1 2067.8,486.2 2069.0,488.8 2070.2,490.8 2071.4,493.1 2072.6,493.9 2073.8,494.0 2075.0,494.1 2076.2,495.9 2077.3,494.8 2078.5,494.0 2079.7,494.0 2080.9,493.5 2082.1,491.9 2083.3,488.6 2084.5,487.1 2085.7,486.9 2086.8,487.7 2088.0,486.5 2089.2,487.2 2090.4,488.2 2091.6,488.2 2092.8,488.8 2094.0,491.7 2095.2,495.3 2096.3,496.0 2097.5,497.4 2098.7,499.2 2099.9,500.6 2101.1,501.4 2102.3,504.0 2103.5,504.7 2104.7,505.4 2105.8,504.5 2107.0,504.6 2108.2,503.0 2109.4,502.0 2110.6,499.8 2111.8,499.0 2113.0,496.5 2114.2,496.2 2115.3,495.5 2116.5,494.6 2117.7,493.8 2118.9,492.9 2120.1,494.1 2121.3,495.8 2122.5,499.2 2123.7,500.2 2124.8,501.7 2126.0,498.1 2127.2,496.2 2128.4,493.0 2129.6,489.4 2130.8,488.9 2132.0,487.6 2133.2,483.5 2134.3,482.0 2135.5,480.1 2136.7,478.3 2137.9,476.2 2139.1,480.9 2140.3,480.8 2141.5,482.9 2142.7,483.5 2143.9,486.8 2145.0,487.4 2146.2,489.4 2147.4,491.5 2148.6,492.4 2149.8,494.2 2151.0,495.4 2152.2,497.5 2153.4,499.0 2154.5,501.0 2155.7,503.2 2156.9,504.9 2158.1,505.7 2159.3,504.6 2160.5,502.6 2161.7,503.9 2162.9,500.4 2164.0,497.8 2165.2,496.4 2166.4,497.0 2167.6,493.4 2168.8,492.7 2170.0,491.8 2171.2,492.8 2172.4,492.3 2173.5,492.7 2174.7,494.5 2175.9,495.0 2177.1,494.3 2178.3,494.5 2179.5,494.7 2180.7,494.5 2181.9,493.9 2183.0,495.7 2184.2,493.6 2185.4,494.0 2186.6,493.8 2187.8,496.0 2189.0,495.7 2190.2,496.1 2191.4,495.6 2192.5,495.9 2193.7,495.3 2194.9,494.5 2196.1,495.2 2197.3,496.1 2198.5,495.3 2199.7,493.9 2200.9,493.6 2202.1,493.8 2203.2,491.9 2204.4,492.2 2205.6,495.2 2206.8,495.6 2208.0,496.6 2209.2,497.3 2210.4,498.0 2211.6,495.0 2212.7,495.7 2213.9,496.4 2215.1,497.5 2216.3,498.1 2217.5,499.6 2218.7,500.3 2219.9,501.1 2221.1,502.0 2222.2,502.1 2223.4,503.6 2224.6,503.4 2225.8,504.6 2227.0,504.3 2228.2,505.3 2229.4,504.2 2230.6,503.7 2231.7,500.9 2232.9,501.1 2234.1,500.2 2235.3,500.2 2236.5,500.9 2237.7,502.2 2238.9,501.0 2240.1,499.9 2241.2,500.7 2242.4,500.7 2243.6,502.3 2244.8,505.2 2246.0,507.3 2247.2,507.6 2248.4,507.8 2249.6,505.7 2250.7,501.9 2251.9,497.2 2253.1,495.8 2254.3,494.2 2255.5,492.6 2256.7,491.7 2257.9,493.5 2259.1,492.1 2260.3,490.4 2261.4,489.2 2262.6,489.3 2263.8,489.1 2265.0,490.1 2266.2,489.0 2267.4,489.6 2268.6,488.1 2269.8,486.8 2270.9,486.9 2272.1,487.2 2273.3,486.5 2274.5,486.7 2275.7,487.8 2276.9,485.2 2278.1,484.1 2279.3,485.0 2280.4,487.2 2281.6,487.3 2282.8,488.7 2284.0,490.6 2285.2,490.5 2286.4,490.6 2287.6,490.1 2288.8,489.6 2289.9,489.2 2291.1,489.6 2292.3,490.2 2293.5,491.0 2294.7,492.2 2295.9,493.3 2297.1,493.2 2298.3,491.7 2299.4,492.5 2300.6,491.4 2301.8,492.8 2303.0,492.7 2304.2,493.3 2305.4,493.5 2306.6,494.2 2307.8,494.7 2308.9,496.3 2310.1,498.3 2311.3,500.8 2312.5,501.4 2313.7,502.1 2314.9,504.2 2316.1,506.7 2317.3,507.2 2318.5,509.2 2319.6,509.9 2320.8,509.5 2322.0,509.7 2323.2,510.6 2324.4,510.0 2325.6,509.4 2326.8,507.7 2328.0,503.7 2329.1,501.4 2330.3,501.7 2331.5,497.3 2332.7,497.3 2333.9,496.5 2335.1,496.3 2336.3,494.4 2337.5,495.8 2338.6,495.5 2339.8,497.0 2341.0,499.1 2342.2,499.8 2343.4,501.0 2344.6,500.5 2345.8,503.2 2347.0,502.9 2348.1,505.9 2349.3,507.3 2350.5,507.4 2351.7,505.6 2352.9,504.4 2354.1,501.2 2355.3,497.2 2356.5,493.2 2357.6,490.5 2358.8,486.7 2360.0,483.6 2361.2,481.7 2362.4,482.4 2363.6,484.0 2364.8,487.2 2366.0,490.2 2367.1,494.6 2368.3,495.9 2369.5,498.5 2370.7,502.8 2371.9,506.9 2373.1,509.8 2374.3,512.4 2375.5,511.9 2376.7,509.2 2377.8,506.7 2379.0,504.1 2380.2,502.9 2381.4,498.6 2382.6,495.9 2383.8,492.4 2385.0,489.2 2386.2,485.2 2387.3,484.7 2388.5,483.3 2389.7,484.3 2390.9,484.9 2392.1,485.1 2393.3,485.9 2394.5,488.0 2395.7,487.8 2396.8,487.6 2398.0,488.0 2399.2,490.5 2400.4,491.5 2401.6,492.6 2402.8,493.1 2404.0,495.2 2405.2,496.3 2406.3,496.9 2407.5,497.9 2408.7,500.1 2409.9,502.5 2411.1,502.4 2412.3,502.4 2413.5,501.8 2414.7,500.4 2415.8,497.9 2417.0,495.4 2418.2,492.7 2419.4,489.7 2420.6,486.9 2421.8,484.4 2423.0,483.3 2424.2,482.8 2425.3,484.8 2426.5,488.6 2427.7,492.5 2428.9,493.2 2430.1,495.8 2431.3,499.7 2432.5,500.3 2433.7,500.5 2434.9,499.0 2436.0,497.0 2437.2,494.7 2438.4,494.6 2439.6,493.7 2440.8,494.4 2442.0,495.1 2443.2,495.7 2444.4,497.1 2445.5,499.0 2446.7,503.5 2447.9,507.6 2449.1,509.9 2450.3,510.8 2451.5,511.3 2452.7,512.2 2453.9,509.9 2455.0,509.0 2456.2,507.9 2457.4,508.2 2458.6,505.0 2459.8,504.8 2461.0,502.1 2462.2,501.0 2463.4,497.8 2464.5,496.5 2465.7,493.5 2466.9,492.1 2468.1,488.9 2469.3,487.0 2470.5,486.7 2471.7,485.4 2472.9,485.8 2474.0,487.5 2475.2,487.8 2476.4,485.4 2477.6,487.5 2478.8,486.5 2480.0,485.7 2481.2,487.4 2482.4,490.4 2483.5,490.5 2484.7,492.1 2485.9,494.4 2487.1,495.5 2488.3,497.7 2489.5,497.8 2490.7,498.8 2491.9,497.8 2493.1,497.8 2494.2,496.0 2495.4,496.5 2496.6,498.0 2497.8,497.5 2499.0,497.1 2500.2,496.7 2501.4,495.7 2502.6,494.3 2503.7,492.4 2504.9,492.7 2506.1,490.7 2507.3,490.7 2508.5,490.1 2509.7,491.6 2510.9,490.3 2512.1,493.1 2513.2,495.9 2514.4,497.1 2515.6,498.0 2516.8,498.2 2518.0,496.7 2519.2,495.9 2520.4,496.1 2521.6,497.4 2522.7,499.2 2523.9,501.4 2525.1,500.1 2526.3,498.8 2527.5,496.8 2528.7,495.5 2529.9,493.2 2531.1,492.7 2532.2,491.2 2533.4,491.1 2534.6,490.6 2535.8,489.7 2537.0,485.9 2538.2,485.9 2539.4,484.3 2540.6,483.7 2541.7,483.8 2542.9,487.7 2544.1,488.1 2545.3,489.6 2546.5,490.5 2547.7,491.3 2548.9,491.8 2550.1,493.2 2551.3,494.3 2552.4,494.1 2553.6,495.4 2554.8,493.5 2556.0,492.3 2557.2,491.2 2558.4,490.6 2559.6,488.0 2560.8,487.5 2561.9,486.7 2563.1,485.0 2564.3,483.5 2565.5,483.5 2566.7,484.5 2567.9,486.6 2569.1,487.3 2570.3,487.6 2571.4,490.5 2572.6,491.8 2573.8,493.6 2575.0,495.9 2576.2,498.2 2577.4,500.7 2578.6,503.3 2579.8,503.4 2580.9,505.3 2582.1,506.0 2583.3,502.3 2584.5,499.5 2585.7,496.7 2586.9,493.6 2588.1,491.0 2589.3,488.7 2590.4,485.7 2591.6,484.2 2592.8,482.8 2594.0,485.1 2595.2,485.2 2596.4,486.4 2597.6,488.9 2598.8,492.7 2599.9,493.0 2601.1,494.2 2602.3,494.6 2603.5,495.9 2604.7,497.2 2605.9,496.4 2607.1,497.1 2608.3,494.9 2609.4,492.7" fill="none" stroke="#4477AA" stroke-width="16.7" stroke-linejoin="round" stroke-linecap="butt"/>
<g clip-path="url(#c2)" fill="#fff" fill-opacity="0.5" stroke="#AA3377" stroke-opacity="0.5" stroke-width="4.17">
<circle cx="233.9" cy="1359.0" r="12.55"/><circle cx="235.1" cy="1282.9" r="12.55"/><circle cx="236.3" cy="1277.2" r="12.55"/><circle cx="237.5" cy="1320.8" r="12.55"/><circle cx="238.7" cy="1324.7" r="12.55"/><circle cx="239.9" cy="1306.0" r="12.55"/><circle cx="241.1" cy="1311.4" r="12.55"/><circle cx="242.3" cy="1315.7" r="12.55"/><circle cx="243.5" cy="1393.8" r="12.55"/><circle cx="244.6" cy="1366.8" r="12.55"/><circle cx="245.8" cy="1298.7" r="12.55"/><circle cx="247.0" cy="1378.9" r="12.55"/><circle cx="248.2" cy="1301.2" r="12.55"/><circle cx="249.4" cy="1343.1" r="12.55"/><circle cx="250.6" cy="1300.5" r="12.55"/><circle cx="251.8" cy="1227.7" r="12.55"/><circle cx="253.0" cy="1318.4" r="12.55"/><circle cx="254.1" cy="1273.3" r="12.55"/><circle cx="255.3" cy="1332.2" r="12.55"/><circle cx="256.5" cy="1317.6" r="12.55"/><circle cx="257.7" cy="1324.4" r="12.55"/><circle cx="258.9" cy="1327.6" r="12.55"/><circle cx="260.1" cy="1277.8" r="12.55"/><circle cx="261.3" cy="1295.4" r="12.55"/><circle cx="262.5" cy="1294.5" r="12.55"/><circle cx="263.6" cy="1337.7" r="12.55"/><circle cx="264.8" cy="1300.1" r="12.55"/><circle cx="266.0" cy="1279.0" r="12.55"/><circle cx="267.2" cy="1317.0" r="12.55"/><circle cx="268.4" cy="1295.3" r="12.55"/><circle cx="269.6" cy="1335.7" r="12.55"/><circle cx="270.8" cy="1358.9" r="12.55"/><circle cx="272.0" cy="1344.7" r="12.55"/><circle cx="273.1" cy="1289.3" r="12.55"/><circle cx="274.3" cy="1345.0" r="12.55"/><circle cx="275.5" cy="1236.1" r="12.55"/><circle cx="276.7" cy="1306.2" r="12.55"/><circle cx="277.9" cy="1352.1" r="12.55"/><circle cx="279.1" cy="1326.9" r="12.55"/><circle cx="280.3" cy="1274.2" r="12.55"/><circle cx="281.5" cy="1350.2" r="12.55"/><circle cx="282.6" cy="1325.8" r="12.55"/><circle cx="283.8" cy="1359.2" r="12.55"/><circle cx="285.0" cy="1319.6" r="12.55"/><circle cx="286.2" cy="1360.2" r="12.55"/><circle cx="287.4" cy="1372.8" r="12.55"/><circle cx="288.6" cy="1306.2" r="12.55"/><circle cx="289.8" cy="1280.5" r="12.55"/><circle cx="291.0" cy="1395.7" r="12.55"/><circle cx="292.1" cy="1293.7" r="12.55"/><circle cx="293.3" cy="1401.5" r="12.55"/><circle cx="294.5" cy="1334.2" r="12.55"/><circle cx="295.7" cy="1315.6" r="12.55"/><circle cx="296.9" cy="1351.6" r="12.55"/><circle cx="298.1" cy="1259.1" r="12.55"/><circle cx="299.3" cy="1374.7" r="12.55"/><circle cx="300.5" cy="1384.9" r="12.55"/><circle cx="301.7" cy="1326.0" r="12.55"/><circle cx="302.8" cy="1376.0" r="12.55"/><circle cx="304.0" cy="1280.7" r="12.55"/><circle cx="305.2" cy="1284.2" r="12.55"/><circle cx="306.4" cy="1226.1" r="12.55"/><circle cx="307.6" cy="1317.0" r="12.55"/><circle cx="308.8" cy="1311.0" r="12.55"/><circle cx="310.0" cy="1307.3" r="12.55"/><circle cx="311.2" cy="1288.8" r="12.55"/><circle cx="312.3" cy="1316.3" r="12.55"/><circle cx="313.5" cy="1292.7" r="12.55"/><circle cx="314.7" cy="1281.5" r="12.55"/><circle cx="315.9" cy="1298.2" r="12.55"/><circle cx="317.1" cy="1275.5" r="12.55"/><circle cx="318.3" cy="1346.3" r="12.55"/><circle cx="319.5" cy="1305.5" r="12.55"/><circle cx="320.7" cy="1326.6" r="12.55"/><circle cx="321.8" cy="1353.2" r="12.55"/><circle cx="323.0" cy="1330.6" r="12.55"/><circle cx="324.2" cy="1299.7" r="12.55"/><circle cx="325.4" cy="1281.8" r="12.55"/><circle cx="326.6" cy="1302.9" r="12.55"/><circle cx="327.8" cy="1318.5" r="12.55"/><circle cx="329.0" cy="1307.4" r="12.55"/><circle cx="330.2" cy="1296.4" r="12.55"/><circle cx="331.3" cy="1324.4" r="12.55"/><circle cx="332.5" cy="1341.4" r="12.55"/><circle cx="333.7" cy="1333.4" r="12.55"/><circle cx="334.9" cy="1371.8" r="12.55"/><circle cx="336.1" cy="1271.6" r="12.55"/><circle cx="337.3" cy="1326.1" r="12.55"/><circle cx="338.5" cy="1293.1" r="12.55"/><circle cx="339.7" cy="1280.4" r="12.55"/><circle cx="340.8" cy="1322.1" r="12.55"/><circle cx="342.0" cy="1319.2" r="12.55"/><circle cx="343.2" cy="1291.6" r="12.55"/><circle cx="344.4" cy="1355.2" r="12.55"/><circle cx="345.6" cy="1313.1" r="12.55"/><circle cx="346.8" cy="1395.8" r="12.55"/><circle cx="348.0" cy="1353.0" r="12.55"/><circle cx="349.2" cy="1307.7" r="12.55"/><circle cx="350.3" cy="1364.8" r="12.55"/><circle cx="351.5" cy="1280.8" r="12.55"/><circle cx="352.7" cy="1285.3" r="12.55"/><circle cx="353.9" cy="1301.8" r="12.55"/><circle cx="355.1" cy="1328.1" r="12.55"/><circle cx="356.3" cy="1342.6" r="12.55"/><circle cx="357.5" cy="1243.9" r="12.55"/><circle cx="358.7" cy="1306.6" r="12.55"/><circle cx="359.9" cy="1281.9" r="12.55"/><circle cx="361.0" cy="1294.8" r="12.55"/><circle cx="362.2" cy="1375.7" r="12.55"/><circle cx="363.4" cy="1368.7" r="12.55"/><circle cx="364.6" cy="1355.5" r="12.55"/><circle cx="365.8" cy="1316.7" r="12.55"/><circle cx="367.0" cy="1310.6" r="12.55"/><circle cx="368.2" cy="1276.9" r="12.55"/><circle cx="369.4" cy="1381.2" r="12.55"/><circle cx="370.5" cy="1292.1" r="12.55"/><circle cx="371.7" cy="1313.1" r="12.55"/><circle cx="372.9" cy="1319.7" r="12.55"/><circle cx="374.1" cy="1348.2" r="12.55"/><circle cx="375.3" cy="1314.8" r="12.55"/><circle cx="376.5" cy="1319.8" r="12.55"/><circle cx="377.7" cy="1321.9" r="12.55"/><circle cx="378.9" cy="1296.2" r="12.55"/><circle cx="380.0" cy="1310.3" r="12.55"/><circle cx="381.2" cy="1264.9" r="12.55"/><circle cx="382.4" cy="1271.0" r="12.55"/><circle cx="383.6" cy="1298.0" r="12.55"/><circle cx="384.8" cy="1287.3" r="12.55"/><circle cx="386.0" cy="1320.2" r="12.55"/><circle cx="387.2" cy="1303.4" r="12.55"/><circle cx="388.4" cy="1313.9" r="12.55"/><circle cx="389.5" cy="1338.7" r="12.55"/><circle cx="390.7" cy="1257.5" r="12.55"/><circle cx="391.9" cy="1280.2" r="12.55"/><circle cx="393.1" cy="1306.4" r="12.55"/><circle cx="394.3" cy="1317.9" r="12.55"/><circle cx="395.5" cy="1308.1" r="12.55"/><circle cx="396.7" cy="1314.5" r="12.55"/><circle cx="397.9" cy="1251.2" r="12.55"/><circle cx="399.0" cy="1327.0" r="12.55"/><circle cx="400.2" cy="1335.4" r="12.55"/><circle cx="401.4" cy="1340.5" r="12.55"/><circle cx="402.6" cy="1305.3" r="12.55"/><circle cx="403.8" cy="1370.2" r="12.55"/><circle cx="405.0" cy="1329.7" r="12.55"/><circle cx="406.2" cy="1313.5" r="12.55"/><circle cx="407.4" cy="1292.9" r="12.55"/><circle cx="408.5" cy="1327.3" r="12.55"/><circle cx="409.7" cy="1325.5" r="12.55"/><circle cx="410.9" cy="1333.6" r="12.55"/><circle cx="412.1" cy="1331.9" r="12.55"/><circle cx="413.3" cy="1324.1" r="12.55"/><circle cx="414.5" cy="1284.8" r="12.55"/><circle cx="415.7" cy="1283.2" r="12.55"/><circle cx="416.9" cy="1383.3" r="12.55"/><circle cx="418.1" cy="1247.0" r="12.55"/><circle cx="419.2" cy="1261.5" r="12.55"/><circle cx="420.4" cy="1328.1" r="12.55"/><circle cx="421.6" cy="1257.1" r="12.55"/><circle cx="422.8" cy="1343.4" r="12.55"/><circle cx="424.0" cy="1277.9" r="12.55"/><circle cx="425.2" cy="1255.4" r="12.55"/><circle cx="426.4" cy="1273.6" r="12.55"/><circle cx="427.6" cy="1299.1" r="12.55"/><circle cx="428.7" cy="1303.2" r="12.55"/><circle cx="429.9" cy="1288.2" r="12.55"/><circle cx="431.1" cy="1339.0" r="12.55"/><circle cx="432.3" cy="1267.8" r="12.55"/><circle cx="433.5" cy="1279.7" r="12.55"/><circle cx="434.7" cy="1328.3" r="12.55"/><circle cx="435.9" cy="1265.1" r="12.55"/><circle cx="437.1" cy="1279.1" r="12.55"/><circle cx="438.2" cy="1244.7" r="12.55"/><circle cx="439.4" cy="1316.7" r="12.55"/><circle cx="440.6" cy="1314.1" r="12.55"/><circle cx="441.8" cy="1314.3" r="12.55"/><circle cx="443.0" cy="1291.0" r="12.55"/><circle cx="444.2" cy="1297.4" r="12.55"/><circle cx="445.4" cy="1296.6" r="12.55"/><circle cx="446.6" cy="1290.7" r="12.55"/><circle cx="447.7" cy="1322.7" r="12.55"/><circle cx="448.9" cy="1296.7" r="12.55"/><circle cx="450.1" cy="1323.3" r="12.55"/><circle cx="451.3" cy="1299.2" r="12.55"/><circle cx="452.5" cy="1328.4" r="12.55"/><circle cx="453.7" cy="1303.0" r="12.55"/><circle cx="454.9" cy="1373.9" r="12.55"/><circle cx="456.1" cy="1279.4" r="12.55"/><circle cx="457.2" cy="1297.6" r="12.55"/><circle cx="458.4" cy="1294.7" r="12.55"/><circle cx="459.6" cy="1378.4" r="12.55"/><circle cx="460.8" cy="1387.4" r="12.55"/><circle cx="462.0" cy="1302.8" r="12.55"/><circle cx="463.2" cy="1306.1" r="12.55"/><circle cx="464.4" cy="1325.6" r="12.55"/><circle cx="465.6" cy="1365.3" r="12.55"/><circle cx="466.7" cy="1286.7" r="12.55"/><circle cx="467.9" cy="1302.9" r="12.55"/><circle cx="469.1" cy="1314.6" r="12.55"/><circle cx="470.3" cy="1284.4" r="12.55"/><circle cx="471.5" cy="1356.4" r="12.55"/><circle cx="472.7" cy="1315.6" r="12.55"/><circle cx="473.9" cy="1253.1" r="12.55"/><circle cx="475.1" cy="1307.4" r="12.55"/><circle cx="476.3" cy="1304.4" r="12.55"/><circle cx="477.4" cy="1293.2" r="12.55"/><circle cx="478.6" cy="1317.7" r="12.55"/><circle cx="479.8" cy="1333.2" r="12.55"/><circle cx="481.0" cy="1303.6" r="12.55"/><circle cx="482.2" cy="1294.1" r="12.55"/><circle cx="483.4" cy="1324.1" r="12.55"/><circle cx="484.6" cy="1260.4" r="12.55"/><circle cx="485.8" cy="1343.8" r="12.55"/><circle cx="486.9" cy="1269.6" r="12.55"/><circle cx="488.1" cy="1312.7" r="12.55"/><circle cx="489.3" cy="1300.8" r="12.55"/><circle cx="490.5" cy="1321.4" r="12.55"/><circle cx="491.7" cy="1285.1" r="12.55"/><circle cx="492.9" cy="1314.1" r="12.55"/><circle cx="494.1" cy="1377.7" r="12.55"/><circle cx="495.3" cy="1344.0" r="12.55"/><circle cx="496.4" cy="1317.2" r="12.55"/><circle cx="497.6" cy="1330.8" r="12.55"/><circle cx="498.8" cy="1286.6" r="12.55"/><circle cx="500.0" cy="1311.9" r="12.55"/><circle cx="501.2" cy="1251.9" r="12.55"/><circle cx="502.4" cy="1307.3" r="12.55"/><circle cx="503.6" cy="1277.3" r="12.55"/><circle cx="504.8" cy="1310.8" r="12.55"/><circle cx="505.9" cy="1319.0" r="12.55"/><circle cx="507.1" cy="1356.3" r="12.55"/><circle cx="508.3" cy="1380.2" r="12.55"/><circle cx="509.5" cy="1351.9" r="12.55"/><circle cx="510.7" cy="1373.3" r="12.55"/><circle cx="511.9" cy="1349.3" r="12.55"/><circle cx="513.1" cy="1290.5" r="12.55"/><circle cx="514.3" cy="1337.8" r="12.55"/><circle cx="515.4" cy="1351.5" r="12.55"/><circle cx="516.6" cy="1352.3" r="12.55"/><circle cx="517.8" cy="1336.1" r="12.55"/><circle cx="519.0" cy="1323.2" r="12.55"/><circle cx="520.2" cy="1309.2" r="12.55"/><circle cx="521.4" cy="1308.2" r="12.55"/><circle cx="522.6" cy="1320.3" r="12.55"/><circle cx="523.8" cy="1310.0" r="12.55"/><circle cx="524.9" cy="1215.1" r="12.55"/><circle cx="526.1" cy="1296.6" r="12.55"/><circle cx="527.3" cy="1306.0" r="12.55"/><circle cx="528.5" cy="1284.7" r="12.55"/><circle cx="529.7" cy="1329.5" r="12.55"/><circle cx="530.9" cy="1300.6" r="12.55"/><circle cx="532.1" cy="1333.8" r="12.55"/><circle cx="533.3" cy="1273.9" r="12.55"/><circle cx="534.5" cy="1240.1" r="12.55"/><circle cx="535.6" cy="1280.3" r="12.55"/><circle cx="536.8" cy="1295.5" r="12.55"/><circle cx="538.0" cy="1301.1" r="12.55"/><circle cx="539.2" cy="1334.8" r="12.55"/><circle cx="540.4" cy="1316.5" r="12.55"/><circle cx="541.6" cy="1318.3" r="12.55"/><circle cx="542.8" cy="1263.2" r="12.55"/><circle cx="544.0" cy="1286.2" r="12.55"/><circle cx="545.1" cy="1310.9" r="12.55"/><circle cx="546.3" cy="1247.7" r="12.55"/><circle cx="547.5" cy="1389.0" r="12.55"/><circle cx="548.7" cy="1304.4" r="12.55"/><circle cx="549.9" cy="1350.6" r="12.55"/><circle cx="551.1" cy="1327.0" r="12.55"/><circle cx="552.3" cy="1300.4" r="12.55"/><circle cx="553.5" cy="1333.6" r="12.55"/><circle cx="554.6" cy="1291.5" r="12.55"/><circle cx="555.8" cy="1324.1" r="12.55"/><circle cx="557.0" cy="1376.6" r="12.55"/><circle cx="558.2" cy="1334.2" r="12.55"/><circle cx="559.4" cy="1313.0" r="12.55"/><circle cx="560.6" cy="1297.2" r="12.55"/><circle cx="561.8" cy="1400.4" r="12.55"/><circle cx="563.0" cy="1302.0" r="12.55"/><circle cx="564.1" cy="1341.7" r="12.55"/><circle cx="565.3" cy="1386.8" r="12.55"/><circle cx="566.5" cy="1330.1" r="12.55"/><circle cx="567.7" cy="1339.0" r="12.55"/><circle cx="568.9" cy="1307.1" r="12.55"/><circle cx="570.1" cy="1313.9" r="12.55"/><circle cx="571.3" cy="1308.8" r="12.55"/><circle cx="572.5" cy="1372.1" r="12.55"/><circle cx="573.6" cy="1338.5" r="12.55"/><circle cx="574.8" cy="1282.0" r="12.55"/><circle cx="576.0" cy="1330.8" r="12.55"/><circle cx="577.2" cy="1309.1" r="12.55"/><circle cx="578.4" cy="1300.4" r="12.55"/><circle cx="579.6" cy="1249.4" r="12.55"/><circle cx="580.8" cy="1290.6" r="12.55"/><circle cx="582.0" cy="1311.6" r="12.55"/><circle cx="583.1" cy="1335.3" r="12.55"/><circle cx="584.3" cy="1283.6" r="12.55"/><circle cx="585.5" cy="1328.1" r="12.55"/><circle cx="586.7" cy="1271.4" r="12.55"/><circle cx="587.9" cy="1308.0" r="12.55"/><circle cx="589.1" cy="1346.9" r="12.55"/><circle cx="590.3" cy="1312.4" r="12.55"/><circle cx="591.5" cy="1300.0" r="12.55"/><circle cx="592.7" cy="1359.8" r="12.55"/><circle cx="593.8" cy="1205.9" r="12.55"/><circle cx="595.0" cy="1312.5" r="12.55"/><circle cx="596.2" cy="1319.6" r="12.55"/><circle cx="597.4" cy="1260.9" r="12.55"/><circle cx="598.6" cy="1290.3" r="12.55"/><circle cx="599.8" cy="1363.8" r="12.55"/><circle cx="601.0" cy="1326.4" r="12.55"/><circle cx="602.2" cy="1364.2" r="12.55"/><circle cx="603.3" cy="1281.1" r="12.55"/><circle cx="604.5" cy="1299.4" r="12.55"/><circle cx="605.7" cy="1341.5" r="12.55"/><circle cx="606.9" cy="1398.5" r="12.55"/><circle cx="608.1" cy="1259.8" r="12.55"/><circle cx="609.3" cy="1324.6" r="12.55"/><circle cx="610.5" cy="1318.8" r="12.55"/><circle cx="611.7" cy="1309.7" r="12.55"/><circle cx="612.8" cy="1345.2" r="12.55"/><circle cx="614.0" cy="1304.1" r="12.55"/><circle cx="615.2" cy="1346.5" r="12.55"/><circle cx="616.4" cy="1357.3" r="12.55"/><circle cx="617.6" cy="1314.1" r="12.55"/><circle cx="618.8" cy="1329.8" r="12.55"/><circle cx="620.0" cy="1253.8" r="12.55"/><circle cx="621.2" cy="1338.2" r="12.55"/><circle cx="622.3" cy="1319.4" r="12.55"/><circle cx="623.5" cy="1264.2" r="12.55"/><circle cx="624.7" cy="1390.6" r="12.55"/><circle cx="625.9" cy="1306.7" r="12.55"/><circle cx="627.1" cy="1271.9" r="12.55"/><circle cx="628.3" cy="1315.0" r="12.55"/><circle cx="629.5" cy="1276.5" r="12.55"/><circle cx="630.7" cy="1303.1" r="12.55"/><circle cx="631.8" cy="1361.7" r="12.55"/><circle cx="633.0" cy="1296.8" r="12.55"/><circle cx="634.2" cy="1386.7" r="12.55"/><circle cx="635.4" cy="1321.5" r="12.55"/><circle cx="636.6" cy="1362.1" r="12.55"/><circle cx="637.8" cy="1311.3" r="12.55"/><circle cx="639.0" cy="1322.4" r="12.55"/><circle cx="640.2" cy="1321.1" r="12.55"/><circle cx="641.3" cy="1333.0" r="12.55"/><circle cx="642.5" cy="1320.4" r="12.55"/><circle cx="643.7" cy="1294.1" r="12.55"/><circle cx="644.9" cy="1305.3" r="12.55"/><circle cx="646.1" cy="1313.8" r="12.55"/><circle cx="647.3" cy="1320.1" r="12.55"/><circle cx="648.5" cy="1321.5" r="12.55"/><circle cx="649.7" cy="1280.5" r="12.55"/><circle cx="650.9" cy="1331.8" r="12.55"/><circle cx="652.0" cy="1329.8" r="12.55"/><circle cx="653.2" cy="1283.7" r="12.55"/><circle cx="654.4" cy="1326.8" r="12.55"/><circle cx="655.6" cy="1317.8" r="12.55"/><circle cx="656.8" cy="1268.7" r="12.55"/><circle cx="658.0" cy="1245.7" r="12.55"/><circle cx="659.2" cy="1261.2" r="12.55"/><circle cx="660.4" cy="1274.2" r="12.55"/><circle cx="661.5" cy="1318.6" r="12.55"/><circle cx="662.7" cy="1343.2" r="12.55"/><circle cx="663.9" cy="1293.2" r="12.55"/><circle cx="665.1" cy="1278.3" r="12.55"/><circle cx="666.3" cy="1303.3" r="12.55"/><circle cx="667.5" cy="1301.4" r="12.55"/><circle cx="668.7" cy="1288.8" r="12.55"/><circle cx="669.9" cy="1264.5" r="12.55"/><circle cx="671.0" cy="1343.6" r="12.55"/><circle cx="672.2" cy="1340.2" r="12.55"/><circle cx="673.4" cy="1318.2" r="12.55"/><circle cx="674.6" cy="1329.0" r="12.55"/><circle cx="675.8" cy="1261.3" r="12.55"/><circle cx="677.0" cy="1380.1" r="12.55"/><circle cx="678.2" cy="1363.9" r="12.55"/><circle cx="679.4" cy="1340.0" r="12.55"/><circle cx="680.5" cy="1340.9" r="12.55"/><circle cx="681.7" cy="1316.9" r="12.55"/><circle cx="682.9" cy="1312.9" r="12.55"/><circle cx="684.1" cy="1300.0" r="12.55"/><circle cx="685.3" cy="1286.5" r="12.55"/><circle cx="686.5" cy="1306.8" r="12.55"/><circle cx="687.7" cy="1270.2" r="12.55"/><circle cx="688.9" cy="1262.0" r="12.55"/><circle cx="690.0" cy="1283.0" r="12.55"/><circle cx="691.2" cy="1265.7" r="12.55"/><circle cx="692.4" cy="1330.3" r="12.55"/><circle cx="693.6" cy="1282.7" r="12.55"/><circle cx="694.8" cy="1290.8" r="12.55"/><circle cx="696.0" cy="1339.5" r="12.55"/><circle cx="697.2" cy="1266.6" r="12.55"/><circle cx="698.4" cy="1309.6" r="12.55"/><circle cx="699.5" cy="1355.7" r="12.55"/><circle cx="700.7" cy="1278.4" r="12.55"/><circle cx="701.9" cy="1293.8" r="12.55"/><circle cx="703.1" cy="1339.7" r="12.55"/><circle cx="704.3" cy="1337.0" r="12.55"/><circle cx="705.5" cy="1292.5" r="12.55"/><circle cx="706.7" cy="1295.0" r="12.55"/><circle cx="707.9" cy="1295.2" r="12.55"/><circle cx="709.0" cy="1288.1" r="12.55"/><circle cx="710.2" cy="1335.8" r="12.55"/><circle cx="711.4" cy="1305.1" r="12.55"/><circle cx="712.6" cy="1293.4" r="12.55"/><circle cx="713.8" cy="1294.2" r="12.55"/><circle cx="715.0" cy="1346.2" r="12.55"/><circle cx="716.2" cy="1348.8" r="12.55"/><circle cx="717.4" cy="1305.9" r="12.55"/><circle cx="718.6" cy="1327.2" r="12.55"/><circle cx="719.7" cy="1299.6" r="12.55"/><circle cx="720.9" cy="1290.8" r="12.55"/><circle cx="722.1" cy="1336.9" r="12.55"/><circle cx="723.3" cy="1327.1" r="12.55"/><circle cx="724.5" cy="1223.7" r="12.55"/><circle cx="725.7" cy="1298.2" r="12.55"/><circle cx="726.9" cy="1328.5" r="12.55"/><circle cx="728.1" cy="1283.2" r="12.55"/><circle cx="729.2" cy="1354.2" r="12.55"/><circle cx="730.4" cy="1343.4" r="12.55"/><circle cx="731.6" cy="1328.4" r="12.55"/><circle cx="732.8" cy="1341.3" r="12.55"/><circle cx="734.0" cy="1328.7" r="12.55"/><circle cx="735.2" cy="1320.6" r="12.55"/><circle cx="736.4" cy="1305.8" r="12.55"/><circle cx="737.6" cy="1335.8" r="12.55"/><circle cx="738.7" cy="1325.2" r="12.55"/><circle cx="739.9" cy="1300.2" r="12.55"/><circle cx="741.1" cy="1310.5" r="12.55"/><circle cx="742.3" cy="1319.8" r="12.55"/><circle cx="743.5" cy="1368.2" r="12.55"/><circle cx="744.7" cy="1319.5" r="12.55"/><circle cx="745.9" cy="1314.9" r="12.55"/><circle cx="747.1" cy="1283.0" r="12.55"/><circle cx="748.2" cy="1350.2" r="12.55"/><circle cx="749.4" cy="1332.8" r="12.55"/><circle cx="750.6" cy="1332.4" r="12.55"/><circle cx="751.8" cy="1334.1" r="12.55"/><circle cx="753.0" cy="1349.6" r="12.55"/><circle cx="754.2" cy="1282.2" r="12.55"/><circle cx="755.4" cy="1304.5" r="12.55"/><circle cx="756.6" cy="1325.3" r="12.55"/><circle cx="757.7" cy="1388.3" r="12.55"/><circle cx="758.9" cy="1353.4" r="12.55"/><circle cx="760.1" cy="1369.5" r="12.55"/><circle cx="761.3" cy="1346.3" r="12.55"/><circle cx="762.5" cy="1355.6" r="12.55"/><circle cx="763.7" cy="1310.1" r="12.55"/><circle cx="764.9" cy="1313.2" r="12.55"/><circle cx="766.1" cy="1321.7" r="12.55"/><circle cx="767.2" cy="1320.6" r="12.55"/><circle cx="768.4" cy="1384.5" r="12.55"/><circle cx="769.6" cy="1329.9" r="12.55"/><circle cx="770.8" cy="1416.2" r="12.55"/><circle cx="772.0" cy="1328.9" r="12.55"/><circle cx="773.2" cy="1322.1" r="12.55"/><circle cx="774.4" cy="1319.2" r="12.55"/><circle cx="775.6" cy="1358.7" r="12.55"/><circle cx="776.8" cy="1318.2" r="12.55"/><circle cx="777.9" cy="1347.0" r="12.55"/><circle cx="779.1" cy="1348.1" r="12.55"/><circle cx="780.3" cy="1327.7" r="12.55"/><circle cx="781.5" cy="1302.1" r="12.55"/><circle cx="782.7" cy="1344.8" r="12.55"/><circle cx="783.9" cy="1338.4" r="12.55"/><circle cx="785.1" cy="1322.8" r="12.55"/><circle cx="786.3" cy="1323.8" r="12.55"/><circle cx="787.4" cy="1319.0" r="12.55"/><circle cx="788.6" cy="1331.2" r="12.55"/><circle cx="789.8" cy="1311.6" r="12.55"/><circle cx="791.0" cy="1277.2" r="12.55"/><circle cx="792.2" cy="1251.7" r="12.55"/><circle cx="793.4" cy="1343.7" r="12.55"/><circle cx="794.6" cy="1266.4" r="12.55"/><circle cx="795.8" cy="1335.5" r="12.55"/><circle cx="796.9" cy="1301.3" r="12.55"/><circle cx="798.1" cy="1383.2" r="12.55"/><circle cx="799.3" cy="1314.9" r="12.55"/><circle cx="800.5" cy="1342.4" r="12.55"/><circle cx="801.7" cy="1299.8" r="12.55"/><circle cx="802.9" cy="1311.4" r="12.55"/><circle cx="804.1" cy="1287.9" r="12.55"/><circle cx="805.3" cy="1363.1" r="12.55"/><circle cx="806.4" cy="1360.1" r="12.55"/><circle cx="807.6" cy="1274.9" r="12.55"/><circle cx="808.8" cy="1333.9" r="12.55"/><circle cx="810.0" cy="1350.5" r="12.55"/><circle cx="811.2" cy="1331.1" r="12.55"/><circle cx="812.4" cy="1291.9" r="12.55"/><circle cx="813.6" cy="1379.2" r="12.55"/><circle cx="814.8" cy="1285.1" r="12.55"/><circle cx="815.9" cy="1355.9" r="12.55"/><circle cx="817.1" cy="1365.4" r="12.55"/><circle cx="818.3" cy="1243.3" r="12.55"/><circle cx="819.5" cy="1342.7" r="12.55"/><circle cx="820.7" cy="1293.9" r="12.55"/><circle cx="821.9" cy="1335.6" r="12.55"/><circle cx="823.1" cy="1261.7" r="12.55"/><circle cx="824.3" cy="1291.1" r="12.55"/><circle cx="825.4" cy="1348.3" r="12.55"/><circle cx="826.6" cy="1327.8" r="12.55"/><circle cx="827.8" cy="1317.7" r="12.55"/><circle cx="829.0" cy="1281.3" r="12.55"/><circle cx="830.2" cy="1350.0" r="12.55"/><circle cx="831.4" cy="1347.9" r="12.55"/><circle cx="832.6" cy="1321.2" r="12.55"/><circle cx="833.8" cy="1322.8" r="12.55"/><circle cx="835.0" cy="1327.7" r="12.55"/><circle cx="836.1" cy="1303.9" r="12.55"/><circle cx="837.3" cy="1336.0" r="12.55"/><circle cx="838.5" cy="1311.2" r="12.55"/><circle cx="839.7" cy="1349.2" r="12.55"/><circle cx="840.9" cy="1363.2" r="12.55"/><circle cx="842.1" cy="1349.3" r="12.55"/><circle cx="843.3" cy="1311.1" r="12.55"/><circle cx="844.5" cy="1318.2" r="12.55"/><circle cx="845.6" cy="1275.1" r="12.55"/><circle cx="846.8" cy="1259.3" r="12.55"/><circle cx="848.0" cy="1310.9" r="12.55"/><circle cx="849.2" cy="1332.2" r="12.55"/><circle cx="850.4" cy="1358.8" r="12.55"/><circle cx="851.6" cy="1272.4" r="12.55"/><circle cx="852.8" cy="1297.4" r="12.55"/><circle cx="854.0" cy="1250.5" r="12.55"/><circle cx="855.1" cy="1262.6" r="12.55"/><circle cx="856.3" cy="1282.3" r="12.55"/><circle cx="857.5" cy="1301.5" r="12.55"/><circle cx="858.7" cy="1281.4" r="12.55"/><circle cx="859.9" cy="1428.0" r="12.55"/><circle cx="861.1" cy="1256.2" r="12.55"/><circle cx="862.3" cy="1295.6" r="12.55"/><circle cx="863.5" cy="1298.9" r="12.55"/><circle cx="864.6" cy="1351.5" r="12.55"/><circle cx="865.8" cy="1332.6" r="12.55"/><circle cx="867.0" cy="1332.9" r="12.55"/><circle cx="868.2" cy="1280.0" r="12.55"/><circle cx="869.4" cy="1353.8" r="12.55"/><circle cx="870.6" cy="1302.3" r="12.55"/><circle cx="871.8" cy="1351.1" r="12.55"/><circle cx="873.0" cy="1408.3" r="12.55"/><circle cx="874.1" cy="1272.2" r="12.55"/><circle cx="875.3" cy="1286.9" r="12.55"/><circle cx="876.5" cy="1357.2" r="12.55"/><circle cx="877.7" cy="1275.4" r="12.55"/><circle cx="878.9" cy="1305.8" r="12.55"/><circle cx="880.1" cy="1293.6" r="12.55"/><circle cx="881.3" cy="1337.5" r="12.55"/><circle cx="882.5" cy="1304.1" r="12.55"/><circle cx="883.6" cy="1368.0" r="12.55"/><circle cx="884.8" cy="1281.5" r="12.55"/><circle cx="886.0" cy="1360.8" r="12.55"/><circle cx="887.2" cy="1312.1" r="12.55"/><circle cx="888.4" cy="1274.5" r="12.55"/><circle cx="889.6" cy="1335.4" r="12.55"/><circle cx="890.8" cy="1310.8" r="12.55"/><circle cx="892.0" cy="1285.6" r="12.55"/><circle cx="893.2" cy="1362.6" r="12.55"/><circle cx="894.3" cy="1383.6" r="12.55"/><circle cx="895.5" cy="1278.6" r="12.55"/><circle cx="896.7" cy="1324.9" r="12.55"/><circle cx="897.9" cy="1342.0" r="12.55"/><circle cx="899.1" cy="1340.5" r="12.55"/><circle cx="900.3" cy="1248.0" r="12.55"/><circle cx="901.5" cy="1375.9" r="12.55"/><circle cx="902.7" cy="1325.6" r="12.55"/><circle cx="903.8" cy="1338.6" r="12.55"/><circle cx="905.0" cy="1385.5" r="12.55"/><circle cx="906.2" cy="1293.9" r="12.55"/><circle cx="907.4" cy="1302.0" r="12.55"/><circle cx="908.6" cy="1320.9" r="12.55"/><circle cx="909.8" cy="1250.4" r="12.55"/><circle cx="911.0" cy="1323.9" r="12.55"/><circle cx="912.2" cy="1321.0" r="12.55"/><circle cx="913.3" cy="1365.6" r="12.55"/><circle cx="914.5" cy="1370.0" r="12.55"/><circle cx="915.7" cy="1341.7" r="12.55"/><circle cx="916.9" cy="1297.4" r="12.55"/><circle cx="918.1" cy="1258.1" r="12.55"/><circle cx="919.3" cy="1316.9" r="12.55"/><circle cx="920.5" cy="1296.0" r="12.55"/><circle cx="921.7" cy="1382.9" r="12.55"/><circle cx="922.8" cy="1335.2" r="12.55"/><circle cx="924.0" cy="1321.3" r="12.55"/><circle cx="925.2" cy="1299.1" r="12.55"/><circle cx="926.4" cy="1307.3" r="12.55"/><circle cx="927.6" cy="1318.1" r="12.55"/><circle cx="928.8" cy="1260.3" r="12.55"/><circle cx="930.0" cy="1322.1" r="12.55"/><circle cx="931.2" cy="1357.5" r="12.55"/><circle cx="932.3" cy="1313.4" r="12.55"/><circle cx="933.5" cy="1277.9" r="12.55"/><circle cx="934.7" cy="1350.5" r="12.55"/><circle cx="935.9" cy="1378.0" r="12.55"/><circle cx="937.1" cy="1281.9" r="12.55"/><circle cx="938.3" cy="1307.8" r="12.55"/><circle cx="939.5" cy="1364.0" r="12.55"/><circle cx="940.7" cy="1289.9" r="12.55"/><circle cx="941.8" cy="1298.6" r="12.55"/><circle cx="943.0" cy="1315.5" r="12.55"/><circle cx="944.2" cy="1347.4" r="12.55"/><circle cx="945.4" cy="1316.6" r="12.55"/><circle cx="946.6" cy="1286.3" r="12.55"/><circle cx="947.8" cy="1321.2" r="12.55"/><circle cx="949.0" cy="1270.8" r="12.55"/><circle cx="950.2" cy="1261.4" r="12.55"/><circle cx="951.4" cy="1294.9" r="12.55"/><circle cx="952.5" cy="1301.6" r="12.55"/><circle cx="953.7" cy="1231.0" r="12.55"/><circle cx="954.9" cy="1322.2" r="12.55"/><circle cx="956.1" cy="1302.2" r="12.55"/><circle cx="957.3" cy="1263.7" r="12.55"/><circle cx="958.5" cy="1271.2" r="12.55"/><circle cx="959.7" cy="1319.9" r="12.55"/><circle cx="960.9" cy="1366.6" r="12.55"/><circle cx="962.0" cy="1307.9" r="12.55"/><circle cx="963.2" cy="1322.6" r="12.55"/><circle cx="964.4" cy="1370.5" r="12.55"/><circle cx="965.6" cy="1303.2" r="12.55"/><circle cx="966.8" cy="1372.1" r="12.55"/><circle cx="968.0" cy="1323.5" r="12.55"/><circle cx="969.2" cy="1320.1" r="12.55"/><circle cx="970.4" cy="1357.7" r="12.55"/><circle cx="971.5" cy="1308.4" r="12.55"/><circle cx="972.7" cy="1362.4" r="12.55"/><circle cx="973.9" cy="1286.9" r="12.55"/><circle cx="975.1" cy="1290.4" r="12.55"/><circle cx="976.3" cy="1299.3" r="12.55"/><circle cx="977.5" cy="1335.7" r="12.55"/><circle cx="978.7" cy="1282.1" r="12.55"/><circle cx="979.9" cy="1321.9" r="12.55"/><circle cx="981.0" cy="1326.7" r="12.55"/><circle cx="982.2" cy="1354.8" r="12.55"/><circle cx="983.4" cy="1298.3" r="12.55"/><circle cx="984.6" cy="1329.4" r="12.55"/><circle cx="985.8" cy="1237.4" r="12.55"/><circle cx="987.0" cy="1347.3" r="12.55"/><circle cx="988.2" cy="1318.4" r="12.55"/><circle cx="989.4" cy="1331.8" r="12.55"/><circle cx="990.5" cy="1322.3" r="12.55"/><circle cx="991.7" cy="1304.9" r="12.55"/><circle cx="992.9" cy="1318.0" r="12.55"/><circle cx="994.1" cy="1308.6" r="12.55"/><circle cx="995.3" cy="1276.1" r="12.55"/><circle cx="996.5" cy="1285.2" r="12.55"/><circle cx="997.7" cy="1307.5" r="12.55"/><circle cx="998.9" cy="1318.7" r="12.55"/><circle cx="1000.0" cy="1314.6" r="12.55"/><circle cx="1001.2" cy="1301.8" r="12.55"/><circle cx="1002.4" cy="1321.4" r="12.55"/><circle cx="1003.6" cy="1355.0" r="12.55"/><circle cx="1004.8" cy="1319.8" r="12.55"/><circle cx="1006.0" cy="1386.3" r="12.55"/><circle cx="1007.2" cy="1358.2" r="12.55"/><circle cx="1008.4" cy="1368.1" r="12.55"/><circle cx="1009.6" cy="1313.6" r="12.55"/><circle cx="1010.7" cy="1321.2" r="12.55"/><circle cx="1011.9" cy="1267.9" r="12.55"/><circle cx="1013.1" cy="1316.0" r="12.55"/><circle cx="1014.3" cy="1310.1" r="12.55"/><circle cx="1015.5" cy="1292.3" r="12.55"/><circle cx="1016.7" cy="1293.1" r="12.55"/><circle cx="1017.9" cy="1345.4" r="12.55"/><circle cx="1019.1" cy="1354.2" r="12.55"/><circle cx="1020.2" cy="1404.8" r="12.55"/><circle cx="1021.4" cy="1346.4" r="12.55"/><circle cx="1022.6" cy="1307.0" r="12.55"/><circle cx="1023.8" cy="1256.2" r="12.55"/><circle cx="1025.0" cy="1320.1" r="12.55"/><circle cx="1026.2" cy="1308.6" r="12.55"/><circle cx="1027.4" cy="1316.1" r="12.55"/><circle cx="1028.6" cy="1399.5" r="12.55"/><circle cx="1029.7" cy="1290.0" r="12.55"/><circle cx="1030.9" cy="1272.8" r="12.55"/><circle cx="1032.1" cy="1361.9" r="12.55"/><circle cx="1033.3" cy="1323.9" r="12.55"/><circle cx="1034.5" cy="1332.9" r="12.55"/><circle cx="1035.7" cy="1280.9" r="12.55"/><circle cx="1036.9" cy="1314.7" r="12.55"/><circle cx="1038.1" cy="1263.7" r="12.55"/><circle cx="1039.2" cy="1350.7" r="12.55"/><circle cx="1040.4" cy="1321.8" r="12.55"/><circle cx="1041.6" cy="1299.6" r="12.55"/><circle cx="1042.8" cy="1276.3" r="12.55"/><circle cx="1044.0" cy="1257.4" r="12.55"/><circle cx="1045.2" cy="1247.2" r="12.55"/><circle cx="1046.4" cy="1354.8" r="12.55"/><circle cx="1047.6" cy="1274.1" r="12.55"/><circle cx="1048.7" cy="1307.5" r="12.55"/><circle cx="1049.9" cy="1291.8" r="12.55"/><circle cx="1051.1" cy="1284.5" r="12.55"/><circle cx="1052.3" cy="1270.6" r="12.55"/><circle cx="1053.5" cy="1283.9" r="12.55"/><circle cx="1054.7" cy="1325.7" r="12.55"/><circle cx="1055.9" cy="1324.5" r="12.55"/><circle cx="1057.1" cy="1337.4" r="12.55"/><circle cx="1058.2" cy="1292.1" r="12.55"/><circle cx="1059.4" cy="1298.5" r="12.55"/><circle cx="1060.6" cy="1326.3" r="12.55"/><circle cx="1061.8" cy="1319.7" r="12.55"/><circle cx="1063.0" cy="1381.5" r="12.55"/><circle cx="1064.2" cy="1311.8" r="12.55"/><circle cx="1065.4" cy="1304.5" r="12.55"/><circle cx="1066.6" cy="1322.2" r="12.55"/><circle cx="1067.8" cy="1345.9" r="12.55"/><circle cx="1068.9" cy="1360.3" r="12.55"/><circle cx="1070.1" cy="1229.4" r="12.55"/><circle cx="1071.3" cy="1366.8" r="12.55"/><circle cx="1072.5" cy="1327.9" r="12.55"/><circle cx="1073.7" cy="1344.7" r="12.55"/><circle cx="1074.9" cy="1301.7" r="12.55"/><circle cx="1076.1" cy="1335.9" r="12.55"/><circle cx="1077.3" cy="1310.2" r="12.55"/><circle cx="1078.4" cy="1329.4" r="12.55"/><circle cx="1079.6" cy="1288.3" r="12.55"/><circle cx="1080.8" cy="1287.7" r="12.55"/><circle cx="1082.0" cy="1303.5" r="12.55"/><circle cx="1083.2" cy="1332.1" r="12.55"/><circle cx="1084.4" cy="1269.3" r="12.55"/><circle cx="1085.6" cy="1314.7" r="12.55"/><circle cx="1086.8" cy="1312.3" r="12.55"/><circle cx="1087.9" cy="1396.9" r="12.55"/><circle cx="1089.1" cy="1271.7" r="12.55"/><circle cx="1090.3" cy="1274.7" r="12.55"/><circle cx="1091.5" cy="1352.9" r="12.55"/><circle cx="1092.7" cy="1338.3" r="12.55"/><circle cx="1093.9" cy="1347.5" r="12.55"/><circle cx="1095.1" cy="1331.6" r="12.55"/><circle cx="1096.3" cy="1344.2" r="12.55"/><circle cx="1097.4" cy="1348.4" r="12.55"/><circle cx="1098.6" cy="1365.1" r="12.55"/><circle cx="1099.8" cy="1245.4" r="12.55"/><circle cx="1101.0" cy="1298.5" r="12.55"/><circle cx="1102.2" cy="1361.9" r="12.55"/><circle cx="1103.4" cy="1358.4" r="12.55"/><circle cx="1104.6" cy="1284.9" r="12.55"/><circle cx="1105.8" cy="1375.5" r="12.55"/><circle cx="1106.9" cy="1331.7" r="12.55"/><circle cx="1108.1" cy="1347.2" r="12.55"/><circle cx="1109.3" cy="1312.0" r="12.55"/><circle cx="1110.5" cy="1295.5" r="12.55"/><circle cx="1111.7" cy="1325.3" r="12.55"/><circle cx="1112.9" cy="1404.4" r="12.55"/><circle cx="1114.1" cy="1297.1" r="12.55"/><circle cx="1115.3" cy="1339.1" r="12.55"/><circle cx="1116.4" cy="1340.6" r="12.55"/><circle cx="1117.6" cy="1288.3" r="12.55"/><circle cx="1118.8" cy="1317.1" r="12.55"/><circle cx="1120.0" cy="1341.8" r="12.55"/><circle cx="1121.2" cy="1317.2" r="12.55"/><circle cx="1122.4" cy="1366.9" r="12.55"/><circle cx="1123.6" cy="1337.6" r="12.55"/><circle cx="1124.8" cy="1297.2" r="12.55"/><circle cx="1126.0" cy="1332.1" r="12.55"/><circle cx="1127.1" cy="1333.2" r="12.55"/><circle cx="1128.3" cy="1344.6" r="12.55"/><circle cx="1129.5" cy="1263.1" r="12.55"/><circle cx="1130.7" cy="1275.1" r="12.55"/><circle cx="1131.9" cy="1314.3" r="12.55"/><circle cx="1133.1" cy="1336.0" r="12.55"/><circle cx="1134.3" cy="1310.3" r="12.55"/><circle cx="1135.5" cy="1275.3" r="12.55"/><circle cx="1136.6" cy="1318.4" r="12.55"/><circle cx="1137.8" cy="1282.5" r="12.55"/><circle cx="1139.0" cy="1262.4" r="12.55"/><circle cx="1140.2" cy="1381.0" r="12.55"/><circle cx="1141.4" cy="1340.2" r="12.55"/><circle cx="1142.6" cy="1345.2" r="12.55"/><circle cx="1143.8" cy="1319.9" r="12.55"/><circle cx="1145.0" cy="1288.5" r="12.55"/><circle cx="1146.1" cy="1275.3" r="12.55"/><circle cx="1147.3" cy="1331.7" r="12.55"/><circle cx="1148.5" cy="1279.8" r="12.55"/><circle cx="1149.7" cy="1318.0" r="12.55"/><circle cx="1150.9" cy="1320.5" r="12.55"/><circle cx="1152.1" cy="1286.4" r="12.55"/><circle cx="1153.3" cy="1301.7" r="12.55"/><circle cx="1154.5" cy="1305.5" r="12.55"/><circle cx="1155.6" cy="1331.8" r="12.55"/><circle cx="1156.8" cy="1289.3" r="12.55"/><circle cx="1158.0" cy="1307.2" r="12.55"/><circle cx="1159.2" cy="1319.9" r="12.55"/><circle cx="1160.4" cy="1276.4" r="12.55"/><circle cx="1161.6" cy="1299.5" r="12.55"/><circle cx="1162.8" cy="1299.4" r="12.55"/><circle cx="1164.0" cy="1320.7" r="12.55"/><circle cx="1165.1" cy="1278.3" r="12.55"/><circle cx="1166.3" cy="1309.7" r="12.55"/><circle cx="1167.5" cy="1318.6" r="12.55"/><circle cx="1168.7" cy="1353.5" r="12.55"/><circle cx="1169.9" cy="1303.9" r="12.55"/><circle cx="1171.1" cy="1351.1" r="12.55"/><circle cx="1172.3" cy="1310.9" r="12.55"/><circle cx="1173.5" cy="1315.5" r="12.55"/><circle cx="1174.6" cy="1270.1" r="12.55"/><circle cx="1175.8" cy="1271.2" r="12.55"/><circle cx="1177.0" cy="1300.6" r="12.55"/><circle cx="1178.2" cy="1264.7" r="12.55"/><circle cx="1179.4" cy="1332.0" r="12.55"/><circle cx="1180.6" cy="1287.2" r="12.55"/><circle cx="1181.8" cy="1242.9" r="12.55"/><circle cx="1183.0" cy="1267.6" r="12.55"/><circle cx="1184.2" cy="1397.9" r="12.55"/><circle cx="1185.3" cy="1220.1" r="12.55"/><circle cx="1186.5" cy="1294.8" r="12.55"/><circle cx="1187.7" cy="1302.7" r="12.55"/><circle cx="1188.9" cy="1395.0" r="12.55"/><circle cx="1190.1" cy="1297.0" r="12.55"/><circle cx="1191.3" cy="1329.5" r="12.55"/><circle cx="1192.5" cy="1297.5" r="12.55"/><circle cx="1193.7" cy="1262.7" r="12.55"/><circle cx="1194.8" cy="1292.6" r="12.55"/><circle cx="1196.0" cy="1308.1" r="12.55"/><circle cx="1197.2" cy="1337.3" r="12.55"/><circle cx="1198.4" cy="1290.2" r="12.55"/><circle cx="1199.6" cy="1347.3" r="12.55"/><circle cx="1200.8" cy="1286.5" r="12.55"/><circle cx="1202.0" cy="1339.3" r="12.55"/><circle cx="1203.2" cy="1315.0" r="12.55"/><circle cx="1204.3" cy="1357.0" r="12.55"/><circle cx="1205.5" cy="1325.1" r="12.55"/><circle cx="1206.7" cy="1344.5" r="12.55"/><circle cx="1207.9" cy="1294.9" r="12.55"/><circle cx="1209.1" cy="1296.5" r="12.55"/><circle cx="1210.3" cy="1306.3" r="12.55"/><circle cx="1211.5" cy="1309.1" r="12.55"/><circle cx="1212.7" cy="1285.4" r="12.55"/><circle cx="1213.8" cy="1307.1" r="12.55"/><circle cx="1215.0" cy="1252.6" r="12.55"/><circle cx="1216.2" cy="1301.4" r="12.55"/><circle cx="1217.4" cy="1291.5" r="12.55"/><circle cx="1218.6" cy="1362.3" r="12.55"/><circle cx="1219.8" cy="1314.5" r="12.55"/><circle cx="1221.0" cy="1316.1" r="12.55"/><circle cx="1222.2" cy="1315.4" r="12.55"/><circle cx="1223.3" cy="1256.4" r="12.55"/><circle cx="1224.5" cy="1285.8" r="12.55"/><circle cx="1225.7" cy="1362.8" r="12.55"/><circle cx="1226.9" cy="1336.4" r="12.55"/><circle cx="1228.1" cy="1276.6" r="12.55"/><circle cx="1229.3" cy="1326.2" r="12.55"/><circle cx="1230.5" cy="1304.6" r="12.55"/><circle cx="1231.7" cy="1330.3" r="12.55"/><circle cx="1232.8" cy="1318.0" r="12.55"/><circle cx="1234.0" cy="1311.2" r="12.55"/><circle cx="1235.2" cy="1269.5" r="12.55"/><circle cx="1236.4" cy="1297.7" r="12.55"/><circle cx="1237.6" cy="1279.3" r="12.55"/><circle cx="1238.8" cy="1294.3" r="12.55"/><circle cx="1240.0" cy="1327.9" r="12.55"/><circle cx="1241.2" cy="1310.4" r="12.55"/><circle cx="1242.3" cy="1313.2" r="12.55"/><circle cx="1243.5" cy="1319.1" r="12.55"/><circle cx="1244.7" cy="1258.0" r="12.55"/><circle cx="1245.9" cy="1284.1" r="12.55"/><circle cx="1247.1" cy="1323.5" r="12.55"/><circle cx="1248.3" cy="1331.4" r="12.55"/><circle cx="1249.5" cy="1325.9" r="12.55"/><circle cx="1250.7" cy="1264.4" r="12.55"/><circle cx="1251.9" cy="1308.6" r="12.55"/><circle cx="1253.0" cy="1277.4" r="12.55"/><circle cx="1254.2" cy="1277.7" r="12.55"/><circle cx="1255.4" cy="1294.4" r="12.55"/><circle cx="1256.6" cy="1303.7" r="12.55"/><circle cx="1257.8" cy="1323.2" r="12.55"/><circle cx="1259.0" cy="1359.9" r="12.55"/><circle cx="1260.2" cy="1273.5" r="12.55"/><circle cx="1261.4" cy="1276.8" r="12.55"/><circle cx="1262.5" cy="1269.8" r="12.55"/><circle cx="1263.7" cy="1273.2" r="12.55"/><circle cx="1264.9" cy="1305.7" r="12.55"/><circle cx="1266.1" cy="1331.0" r="12.55"/><circle cx="1267.3" cy="1311.5" r="12.55"/><circle cx="1268.5" cy="1301.3" r="12.55"/><circle cx="1269.7" cy="1293.3" r="12.55"/><circle cx="1270.9" cy="1275.0" r="12.55"/><circle cx="1272.0" cy="1258.3" r="12.55"/><circle cx="1273.2" cy="1245.9" r="12.55"/><circle cx="1274.4" cy="1329.7" r="12.55"/><circle cx="1275.6" cy="1331.3" r="12.55"/><circle cx="1276.8" cy="1309.6" r="12.55"/><circle cx="1278.0" cy="1300.7" r="12.55"/><circle cx="1279.2" cy="1290.9" r="12.55"/><circle cx="1280.4" cy="1302.5" r="12.55"/><circle cx="1281.5" cy="1274.7" r="12.55"/><circle cx="1282.7" cy="1258.7" r="12.55"/><circle cx="1283.9" cy="1281.1" r="12.55"/><circle cx="1285.1" cy="1291.2" r="12.55"/><circle cx="1286.3" cy="1260.6" r="12.55"/><circle cx="1287.5" cy="1292.9" r="12.55"/><circle cx="1288.7" cy="1279.6" r="12.55"/><circle cx="1289.9" cy="1268.1" r="12.55"/><circle cx="1291.0" cy="1320.7" r="12.55"/><circle cx="1292.2" cy="1344.6" r="12.55"/><circle cx="1293.4" cy="1318.5" r="12.55"/><circle cx="1294.6" cy="1328.6" r="12.55"/><circle cx="1295.8" cy="1371.0" r="12.55"/><circle cx="1297.0" cy="1380.7" r="12.55"/><circle cx="1298.2" cy="1268.1" r="12.55"/><circle cx="1299.4" cy="1306.4" r="12.55"/><circle cx="1300.5" cy="1294.5" r="12.55"/><circle cx="1301.7" cy="1238.7" r="12.55"/><circle cx="1302.9" cy="1343.0" r="12.55"/><circle cx="1304.1" cy="1304.3" r="12.55"/><circle cx="1305.3" cy="1327.7" r="12.55"/><circle cx="1306.5" cy="1284.9" r="12.55"/><circle cx="1307.7" cy="1272.7" r="12.55"/><circle cx="1308.9" cy="1265.4" r="12.55"/><circle cx="1310.1" cy="1341.9" r="12.55"/><circle cx="1311.2" cy="1257.0" r="12.55"/><circle cx="1312.4" cy="1278.1" r="12.55"/><circle cx="1313.6" cy="1320.7" r="12.55"/><circle cx="1314.8" cy="1299.0" r="12.55"/><circle cx="1316.0" cy="1415.3" r="12.55"/><circle cx="1317.2" cy="1369.8" r="12.55"/><circle cx="1318.4" cy="1251.5" r="12.55"/><circle cx="1319.6" cy="1309.8" r="12.55"/><circle cx="1320.7" cy="1335.2" r="12.55"/><circle cx="1321.9" cy="1323.5" r="12.55"/><circle cx="1323.1" cy="1289.8" r="12.55"/><circle cx="1324.3" cy="1277.1" r="12.55"/><circle cx="1325.5" cy="1346.2" r="12.55"/><circle cx="1326.7" cy="1292.7" r="12.55"/><circle cx="1327.9" cy="1313.4" r="12.55"/><circle cx="1329.1" cy="1289.0" r="12.55"/><circle cx="1330.2" cy="1268.8" r="12.55"/><circle cx="1331.4" cy="1265.2" r="12.55"/><circle cx="1332.6" cy="1282.8" r="12.55"/><circle cx="1333.8" cy="1287.0" r="12.55"/><circle cx="1335.0" cy="1363.7" r="12.55"/><circle cx="1336.2" cy="1259.5" r="12.55"/><circle cx="1337.4" cy="1363.0" r="12.55"/><circle cx="1338.6" cy="1309.4" r="12.55"/><circle cx="1339.7" cy="1316.3" r="12.55"/><circle cx="1340.9" cy="1274.4" r="12.55"/><circle cx="1342.1" cy="1326.4" r="12.55"/><circle cx="1343.3" cy="1393.2" r="12.55"/><circle cx="1344.5" cy="1305.7" r="12.55"/><circle cx="1345.7" cy="1329.7" r="12.55"/><circle cx="1346.9" cy="1328.0" r="12.55"/><circle cx="1348.1" cy="1318.1" r="12.55"/><circle cx="1349.2" cy="1301.3" r="12.55"/><circle cx="1350.4" cy="1379.5" r="12.55"/><circle cx="1351.6" cy="1367.9" r="12.55"/><circle cx="1352.8" cy="1315.8" r="12.55"/><circle cx="1354.0" cy="1352.5" r="12.55"/><circle cx="1355.2" cy="1424.4" r="12.55"/><circle cx="1356.4" cy="1341.2" r="12.55"/><circle cx="1357.6" cy="1285.3" r="12.55"/><circle cx="1358.7" cy="1246.6" r="12.55"/><circle cx="1359.9" cy="1316.2" r="12.55"/><circle cx="1361.1" cy="1255.8" r="12.55"/><circle cx="1362.3" cy="1333.3" r="12.55"/><circle cx="1363.5" cy="1368.8" r="12.55"/><circle cx="1364.7" cy="1356.8" r="12.55"/><circle cx="1365.9" cy="1334.5" r="12.55"/><circle cx="1367.1" cy="1296.1" r="12.55"/><circle cx="1368.3" cy="1322.6" r="12.55"/><circle cx="1369.4" cy="1301.2" r="12.55"/><circle cx="1370.6" cy="1332.3" r="12.55"/><circle cx="1371.8" cy="1296.3" r="12.55"/><circle cx="1373.0" cy="1250.7" r="12.55"/><circle cx="1374.2" cy="1348.2" r="12.55"/><circle cx="1375.4" cy="1317.5" r="12.55"/><circle cx="1376.6" cy="1312.8" r="12.55"/><circle cx="1377.8" cy="1325.1" r="12.55"/><circle cx="1378.9" cy="1310.7" r="12.55"/><circle cx="1380.1" cy="1320.0" r="12.55"/><circle cx="1381.3" cy="1347.5" r="12.55"/><circle cx="1382.5" cy="1296.0" r="12.55"/><circle cx="1383.7" cy="1382.3" r="12.55"/><circle cx="1384.9" cy="1313.1" r="12.55"/><circle cx="1386.1" cy="1293.6" r="12.55"/><circle cx="1387.3" cy="1371.5" r="12.55"/><circle cx="1388.4" cy="1313.6" r="12.55"/><circle cx="1389.6" cy="1378.8" r="12.55"/><circle cx="1390.8" cy="1261.8" r="12.55"/><circle cx="1392.0" cy="1257.2" r="12.55"/><circle cx="1393.2" cy="1311.7" r="12.55"/><circle cx="1394.4" cy="1324.2" r="12.55"/><circle cx="1395.6" cy="1359.4" r="12.55"/><circle cx="1396.8" cy="1351.0" r="12.55"/><circle cx="1397.9" cy="1372.3" r="12.55"/><circle cx="1399.1" cy="1324.0" r="12.55"/><circle cx="1400.3" cy="1275.7" r="12.55"/><circle cx="1401.5" cy="1351.7" r="12.55"/><circle cx="1402.7" cy="1267.2" r="12.55"/><circle cx="1403.9" cy="1295.7" r="12.55"/><circle cx="1405.1" cy="1293.7" r="12.55"/><circle cx="1406.3" cy="1315.3" r="12.55"/><circle cx="1407.4" cy="1296.4" r="12.55"/><circle cx="1408.6" cy="1324.3" r="12.55"/><circle cx="1409.8" cy="1361.3" r="12.55"/><circle cx="1411.0" cy="1267.3" r="12.55"/><circle cx="1412.2" cy="1293.3" r="12.55"/><circle cx="1413.4" cy="1377.3" r="12.55"/><circle cx="1414.6" cy="1374.9" r="12.55"/><circle cx="1415.8" cy="1378.6" r="12.55"/><circle cx="1416.9" cy="1319.5" r="12.55"/><circle cx="1418.1" cy="1354.4" r="12.55"/><circle cx="1419.3" cy="1322.5" r="12.55"/><circle cx="1420.5" cy="1255.8" r="12.55"/><circle cx="1421.7" cy="1286.3" r="12.55"/><circle cx="1422.9" cy="1328.8" r="12.55"/><circle cx="1424.1" cy="1308.9" r="12.55"/><circle cx="1425.3" cy="1276.7" r="12.55"/><circle cx="1426.5" cy="1272.8" r="12.55"/><circle cx="1427.6" cy="1317.4" r="12.55"/><circle cx="1428.8" cy="1311.2" r="12.55"/><circle cx="1430.0" cy="1286.7" r="12.55"/><circle cx="1431.2" cy="1411.6" r="12.55"/><circle cx="1432.4" cy="1291.3" r="12.55"/><circle cx="1433.6" cy="1293.5" r="12.55"/><circle cx="1434.8" cy="1310.5" r="12.55"/><circle cx="1436.0" cy="1306.9" r="12.55"/><circle cx="1437.1" cy="1305.6" r="12.55"/><circle cx="1438.3" cy="1321.8" r="12.55"/><circle cx="1439.5" cy="1211.4" r="12.55"/><circle cx="1440.7" cy="1385.9" r="12.55"/><circle cx="1441.9" cy="1324.3" r="12.55"/><circle cx="1443.1" cy="1295.3" r="12.55"/><circle cx="1444.3" cy="1310.4" r="12.55"/><circle cx="1445.5" cy="1329.6" r="12.55"/><circle cx="1446.6" cy="1295.3" r="12.55"/><circle cx="1447.8" cy="1343.3" r="12.55"/><circle cx="1449.0" cy="1337.0" r="12.55"/><circle cx="1450.2" cy="1304.3" r="12.55"/><circle cx="1451.4" cy="1289.8" r="12.55"/><circle cx="1452.6" cy="1336.2" r="12.55"/><circle cx="1453.8" cy="1270.8" r="12.55"/><circle cx="1455.0" cy="1317.5" r="12.55"/><circle cx="1456.1" cy="1341.0" r="12.55"/><circle cx="1457.3" cy="1302.4" r="12.55"/><circle cx="1458.5" cy="1281.0" r="12.55"/><circle cx="1459.7" cy="1346.1" r="12.55"/><circle cx="1460.9" cy="1299.3" r="12.55"/><circle cx="1462.1" cy="1319.1" r="12.55"/><circle cx="1463.3" cy="1292.2" r="12.55"/><circle cx="1464.5" cy="1267.5" r="12.55"/><circle cx="1465.6" cy="1326.6" r="12.55"/><circle cx="1466.8" cy="1347.9" r="12.55"/><circle cx="1468.0" cy="1351.8" r="12.55"/><circle cx="1469.2" cy="1382.1" r="12.55"/><circle cx="1470.4" cy="1286.8" r="12.55"/><circle cx="1471.6" cy="1369.4" r="12.55"/><circle cx="1472.8" cy="1293.9" r="12.55"/><circle cx="1474.0" cy="1332.7" r="12.55"/><circle cx="1475.1" cy="1303.8" r="12.55"/><circle cx="1476.3" cy="1313.5" r="12.55"/><circle cx="1477.5" cy="1308.4" r="12.55"/><circle cx="1478.7" cy="1366.2" r="12.55"/><circle cx="1479.9" cy="1330.7" r="12.55"/><circle cx="1481.1" cy="1323.4" r="12.55"/><circle cx="1482.3" cy="1321.7" r="12.55"/><circle cx="1483.5" cy="1273.0" r="12.55"/><circle cx="1484.7" cy="1331.5" r="12.55"/><circle cx="1485.8" cy="1333.9" r="12.55"/><circle cx="1487.0" cy="1249.5" r="12.55"/><circle cx="1488.2" cy="1306.4" r="12.55"/><circle cx="1489.4" cy="1264.4" r="12.55"/><circle cx="1490.6" cy="1314.8" r="12.55"/><circle cx="1491.8" cy="1312.6" r="12.55"/><circle cx="1493.0" cy="1352.7" r="12.55"/><circle cx="1494.2" cy="1345.1" r="12.55"/><circle cx="1495.3" cy="1297.0" r="12.55"/><circle cx="1496.5" cy="1305.7" r="12.55"/><circle cx="1497.7" cy="1253.9" r="12.55"/><circle cx="1498.9" cy="1320.4" r="12.55"/><circle cx="1500.1" cy="1256.5" r="12.55"/><circle cx="1501.3" cy="1278.9" r="12.55"/><circle cx="1502.5" cy="1253.4" r="12.55"/><circle cx="1503.7" cy="1282.4" r="12.55"/><circle cx="1504.8" cy="1316.8" r="12.55"/><circle cx="1506.0" cy="1275.8" r="12.55"/><circle cx="1507.2" cy="1304.7" r="12.55"/><circle cx="1508.4" cy="1266.5" r="12.55"/><circle cx="1509.6" cy="1321.3" r="12.55"/><circle cx="1510.8" cy="1337.2" r="12.55"/><circle cx="1512.0" cy="1312.1" r="12.55"/><circle cx="1513.2" cy="1309.3" r="12.55"/><circle cx="1514.3" cy="1283.4" r="12.55"/><circle cx="1515.5" cy="1335.0" r="12.55"/><circle cx="1516.7" cy="1358.1" r="12.55"/><circle cx="1517.9" cy="1309.3" r="12.55"/><circle cx="1519.1" cy="1316.5" r="12.55"/><circle cx="1520.3" cy="1302.9" r="12.55"/><circle cx="1521.5" cy="1280.0" r="12.55"/><circle cx="1522.7" cy="1316.8" r="12.55"/><circle cx="1523.8" cy="1382.8" r="12.55"/><circle cx="1525.0" cy="1365.8" r="12.55"/><circle cx="1526.2" cy="1343.3" r="12.55"/><circle cx="1527.4" cy="1355.3" r="12.55"/><circle cx="1528.6" cy="1330.9" r="12.55"/><circle cx="1529.8" cy="1314.4" r="12.55"/><circle cx="1531.0" cy="1319.4" r="12.55"/><circle cx="1532.2" cy="1274.6" r="12.55"/><circle cx="1533.3" cy="1319.4" r="12.55"/><circle cx="1534.5" cy="1311.0" r="12.55"/><circle cx="1535.7" cy="1326.3" r="12.55"/><circle cx="1536.9" cy="1367.1" r="12.55"/><circle cx="1538.1" cy="1312.0" r="12.55"/><circle cx="1539.3" cy="1251.3" r="12.55"/><circle cx="1540.5" cy="1327.6" r="12.55"/><circle cx="1541.7" cy="1281.2" r="12.55"/><circle cx="1542.9" cy="1324.8" r="12.55"/><circle cx="1544.0" cy="1432.2" r="12.55"/><circle cx="1545.2" cy="1324.8" r="12.55"/><circle cx="1546.4" cy="1327.1" r="12.55"/><circle cx="1547.6" cy="1323.5" r="12.55"/><circle cx="1548.8" cy="1309.0" r="12.55"/><circle cx="1550.0" cy="1335.0" r="12.55"/><circle cx="1551.2" cy="1309.5" r="12.55"/><circle cx="1552.4" cy="1297.8" r="12.55"/><circle cx="1553.5" cy="1321.0" r="12.55"/><circle cx="1554.7" cy="1274.8" r="12.55"/><circle cx="1555.9" cy="1342.5" r="12.55"/><circle cx="1557.1" cy="1350.4" r="12.55"/><circle cx="1558.3" cy="1315.7" r="12.55"/><circle cx="1559.5" cy="1369.2" r="12.55"/><circle cx="1560.7" cy="1346.7" r="12.55"/><circle cx="1561.9" cy="1323.2" r="12.55"/><circle cx="1563.0" cy="1335.9" r="12.55"/><circle cx="1564.2" cy="1348.0" r="12.55"/><circle cx="1565.4" cy="1303.5" r="12.55"/><circle cx="1566.6" cy="1334.5" r="12.55"/><circle cx="1567.8" cy="1391.5" r="12.55"/><circle cx="1569.0" cy="1338.1" r="12.55"/><circle cx="1570.2" cy="1309.7" r="12.55"/><circle cx="1571.4" cy="1250.9" r="12.55"/><circle cx="1572.5" cy="1257.8" r="12.55"/><circle cx="1573.7" cy="1312.5" r="12.55"/><circle cx="1574.9" cy="1324.9" r="12.55"/><circle cx="1576.1" cy="1285.4" r="12.55"/><circle cx="1577.3" cy="1279.2" r="12.55"/><circle cx="1578.5" cy="1290.3" r="12.55"/><circle cx="1579.7" cy="1288.6" r="12.55"/><circle cx="1580.9" cy="1216.2" r="12.55"/><circle cx="1582.0" cy="1295.7" r="12.55"/><circle cx="1583.2" cy="1283.4" r="12.55"/><circle cx="1584.4" cy="1342.8" r="12.55"/><circle cx="1585.6" cy="1326.3" r="12.55"/><circle cx="1586.8" cy="1305.4" r="12.55"/><circle cx="1588.0" cy="1284.6" r="12.55"/><circle cx="1589.2" cy="1296.9" r="12.55"/><circle cx="1590.4" cy="1301.5" r="12.55"/><circle cx="1591.5" cy="1312.6" r="12.55"/><circle cx="1592.7" cy="1273.9" r="12.55"/><circle cx="1593.9" cy="1292.3" r="12.55"/><circle cx="1595.1" cy="1293.0" r="12.55"/><circle cx="1596.3" cy="1303.7" r="12.55"/><circle cx="1597.5" cy="1333.8" r="12.55"/><circle cx="1598.7" cy="1269.4" r="12.55"/><circle cx="1599.9" cy="1280.6" r="12.55"/><circle cx="1601.1" cy="1353.1" r="12.55"/><circle cx="1602.2" cy="1322.6" r="12.55"/><circle cx="1603.4" cy="1370.2" r="12.55"/><circle cx="1604.6" cy="1295.1" r="12.55"/><circle cx="1605.8" cy="1271.1" r="12.55"/><circle cx="1607.0" cy="1235.7" r="12.55"/><circle cx="1608.2" cy="1298.0" r="12.55"/><circle cx="1609.4" cy="1342.5" r="12.55"/><circle cx="1610.6" cy="1296.5" r="12.55"/><circle cx="1611.7" cy="1324.7" r="12.55"/><circle cx="1612.9" cy="1350.1" r="12.55"/><circle cx="1614.1" cy="1328.5" r="12.55"/><circle cx="1615.3" cy="1315.2" r="12.55"/><circle cx="1616.5" cy="1316.6" r="12.55"/><circle cx="1617.7" cy="1334.5" r="12.55"/><circle cx="1618.9" cy="1352.7" r="12.55"/><circle cx="1620.1" cy="1297.0" r="12.55"/><circle cx="1621.2" cy="1285.5" r="12.55"/><circle cx="1622.4" cy="1281.7" r="12.55"/><circle cx="1623.6" cy="1282.6" r="12.55"/><circle cx="1624.8" cy="1382.6" r="12.55"/><circle cx="1626.0" cy="1301.1" r="12.55"/><circle cx="1627.2" cy="1376.8" r="12.55"/><circle cx="1628.4" cy="1336.8" r="12.55"/><circle cx="1629.6" cy="1426.3" r="12.55"/><circle cx="1630.7" cy="1249.9" r="12.55"/><circle cx="1631.9" cy="1307.0" r="12.55"/><circle cx="1633.1" cy="1334.9" r="12.55"/><circle cx="1634.3" cy="1278.5" r="12.55"/><circle cx="1635.5" cy="1311.9" r="12.55"/><circle cx="1636.7" cy="1357.3" r="12.55"/><circle cx="1637.9" cy="1344.3" r="12.55"/><circle cx="1639.1" cy="1342.2" r="12.55"/><circle cx="1640.2" cy="1330.1" r="12.55"/><circle cx="1641.4" cy="1314.2" r="12.55"/><circle cx="1642.6" cy="1352.5" r="12.55"/><circle cx="1643.8" cy="1333.4" r="12.55"/><circle cx="1645.0" cy="1236.8" r="12.55"/><circle cx="1646.2" cy="1361.7" r="12.55"/><circle cx="1647.4" cy="1306.5" r="12.55"/><circle cx="1648.6" cy="1326.5" r="12.55"/><circle cx="1649.7" cy="1304.8" r="12.55"/><circle cx="1650.9" cy="1367.2" r="12.55"/><circle cx="1652.1" cy="1310.0" r="12.55"/><circle cx="1653.3" cy="1285.8" r="12.55"/><circle cx="1654.5" cy="1292.4" r="12.55"/><circle cx="1655.7" cy="1322.2" r="12.55"/><circle cx="1656.9" cy="1317.3" r="12.55"/><circle cx="1658.1" cy="1323.1" r="12.55"/><circle cx="1659.2" cy="1312.8" r="12.55"/><circle cx="1660.4" cy="1300.0" r="12.55"/><circle cx="1661.6" cy="1289.1" r="12.55"/><circle cx="1662.8" cy="1287.2" r="12.55"/><circle cx="1664.0" cy="1302.3" r="12.55"/><circle cx="1665.2" cy="1369.6" r="12.55"/><circle cx="1666.4" cy="1316.0" r="12.55"/><circle cx="1667.6" cy="1308.5" r="12.55"/><circle cx="1668.8" cy="1300.9" r="12.55"/><circle cx="1669.9" cy="1276.0" r="12.55"/><circle cx="1671.1" cy="1299.9" r="12.55"/><circle cx="1672.3" cy="1210.8" r="12.55"/><circle cx="1673.5" cy="1266.9" r="12.55"/><circle cx="1674.7" cy="1270.4" r="12.55"/><circle cx="1675.9" cy="1294.0" r="12.55"/><circle cx="1677.1" cy="1394.1" r="12.55"/><circle cx="1678.3" cy="1275.6" r="12.55"/><circle cx="1679.4" cy="1337.5" r="12.55"/><circle cx="1680.6" cy="1258.4" r="12.55"/><circle cx="1681.8" cy="1299.5" r="12.55"/><circle cx="1683.0" cy="1283.6" r="12.55"/><circle cx="1684.2" cy="1296.8" r="12.55"/><circle cx="1685.4" cy="1313.4" r="12.55"/><circle cx="1686.6" cy="1290.2" r="12.55"/><circle cx="1687.8" cy="1325.2" r="12.55"/><circle cx="1688.9" cy="1308.3" r="12.55"/><circle cx="1690.1" cy="1262.6" r="12.55"/><circle cx="1691.3" cy="1329.0" r="12.55"/><circle cx="1692.5" cy="1361.0" r="12.55"/><circle cx="1693.7" cy="1328.8" r="12.55"/><circle cx="1694.9" cy="1367.4" r="12.55"/><circle cx="1696.1" cy="1336.1" r="12.55"/><circle cx="1697.3" cy="1277.4" r="12.55"/><circle cx="1698.4" cy="1306.5" r="12.55"/><circle cx="1699.6" cy="1329.2" r="12.55"/><circle cx="1700.8" cy="1328.6" r="12.55"/><circle cx="1702.0" cy="1295.4" r="12.55"/><circle cx="1703.2" cy="1282.7" r="12.55"/><circle cx="1704.4" cy="1260.7" r="12.55"/><circle cx="1705.6" cy="1261.7" r="12.55"/><circle cx="1706.8" cy="1310.3" r="12.55"/><circle cx="1707.9" cy="1308.2" r="12.55"/><circle cx="1709.1" cy="1302.6" r="12.55"/><circle cx="1710.3" cy="1266.1" r="12.55"/><circle cx="1711.5" cy="1336.7" r="12.55"/><circle cx="1712.7" cy="1248.4" r="12.55"/><circle cx="1713.9" cy="1330.4" r="12.55"/><circle cx="1715.1" cy="1269.1" r="12.55"/><circle cx="1716.3" cy="1308.9" r="12.55"/><circle cx="1717.4" cy="1338.7" r="12.55"/><circle cx="1718.6" cy="1301.6" r="12.55"/><circle cx="1719.8" cy="1291.4" r="12.55"/><circle cx="1721.0" cy="1285.9" r="12.55"/><circle cx="1722.2" cy="1318.6" r="12.55"/><circle cx="1723.4" cy="1340.4" r="12.55"/><circle cx="1724.6" cy="1376.3" r="12.55"/><circle cx="1725.8" cy="1311.8" r="12.55"/><circle cx="1727.0" cy="1320.5" r="12.55"/><circle cx="1728.1" cy="1272.5" r="12.55"/><circle cx="1729.3" cy="1364.3" r="12.55"/><circle cx="1730.5" cy="1302.6" r="12.55"/><circle cx="1731.7" cy="1377.9" r="12.55"/><circle cx="1732.9" cy="1302.0" r="12.55"/><circle cx="1734.1" cy="1322.5" r="12.55"/><circle cx="1735.3" cy="1346.9" r="12.55"/><circle cx="1736.5" cy="1331.4" r="12.55"/><circle cx="1737.6" cy="1330.9" r="12.55"/><circle cx="1738.8" cy="1389.5" r="12.55"/><circle cx="1740.0" cy="1324.2" r="12.55"/><circle cx="1741.2" cy="1291.4" r="12.55"/><circle cx="1742.4" cy="1367.3" r="12.55"/><circle cx="1743.6" cy="1373.8" r="12.55"/><circle cx="1744.8" cy="1337.4" r="12.55"/><circle cx="1746.0" cy="1369.1" r="12.55"/><circle cx="1747.1" cy="1241.8" r="12.55"/><circle cx="1748.3" cy="1271.4" r="12.55"/><circle cx="1749.5" cy="1287.9" r="12.55"/><circle cx="1750.7" cy="1322.9" r="12.55"/><circle cx="1751.9" cy="1289.2" r="12.55"/><circle cx="1753.1" cy="1304.2" r="12.55"/><circle cx="1754.3" cy="1300.6" r="12.55"/><circle cx="1755.5" cy="1356.8" r="12.55"/><circle cx="1756.6" cy="1320.4" r="12.55"/><circle cx="1757.8" cy="1269.0" r="12.55"/><circle cx="1759.0" cy="1315.2" r="12.55"/><circle cx="1760.2" cy="1303.4" r="12.55"/><circle cx="1761.4" cy="1403.6" r="12.55"/><circle cx="1762.6" cy="1348.7" r="12.55"/><circle cx="1763.8" cy="1325.1" r="12.55"/><circle cx="1765.0" cy="1301.8" r="12.55"/><circle cx="1766.1" cy="1326.1" r="12.55"/><circle cx="1767.3" cy="1320.0" r="12.55"/><circle cx="1768.5" cy="1278.1" r="12.55"/><circle cx="1769.7" cy="1298.6" r="12.55"/><circle cx="1770.9" cy="1345.4" r="12.55"/><circle cx="1772.1" cy="1335.1" r="12.55"/><circle cx="1773.3" cy="1323.7" r="12.55"/><circle cx="1774.5" cy="1298.4" r="12.55"/><circle cx="1775.6" cy="1288.4" r="12.55"/><circle cx="1776.8" cy="1304.1" r="12.55"/><circle cx="1778.0" cy="1339.8" r="12.55"/><circle cx="1779.2" cy="1350.8" r="12.55"/><circle cx="1780.4" cy="1285.7" r="12.55"/><circle cx="1781.6" cy="1317.1" r="12.55"/><circle cx="1782.8" cy="1295.0" r="12.55"/><circle cx="1784.0" cy="1273.0" r="12.55"/><circle cx="1785.2" cy="1304.7" r="12.55"/><circle cx="1786.3" cy="1283.1" r="12.55"/><circle cx="1787.5" cy="1336.6" r="12.55"/><circle cx="1788.7" cy="1322.3" r="12.55"/><circle cx="1789.9" cy="1305.2" r="12.55"/><circle cx="1791.1" cy="1359.6" r="12.55"/><circle cx="1792.3" cy="1371.6" r="12.55"/><circle cx="1793.5" cy="1302.1" r="12.55"/><circle cx="1794.7" cy="1276.6" r="12.55"/><circle cx="1795.8" cy="1307.7" r="12.55"/><circle cx="1797.0" cy="1338.0" r="12.55"/><circle cx="1798.2" cy="1407.5" r="12.55"/><circle cx="1799.4" cy="1389.1" r="12.55"/><circle cx="1800.6" cy="1429.5" r="12.55"/><circle cx="1801.8" cy="1347.1" r="12.55"/><circle cx="1803.0" cy="1371.0" r="12.55"/><circle cx="1804.2" cy="1355.4" r="12.55"/><circle cx="1805.3" cy="1332.5" r="12.55"/><circle cx="1806.5" cy="1364.9" r="12.55"/><circle cx="1807.7" cy="1341.2" r="12.55"/><circle cx="1808.9" cy="1330.0" r="12.55"/><circle cx="1810.1" cy="1346.0" r="12.55"/><circle cx="1811.3" cy="1358.0" r="12.55"/><circle cx="1812.5" cy="1335.5" r="12.55"/><circle cx="1813.7" cy="1304.6" r="12.55"/><circle cx="1814.8" cy="1318.8" r="12.55"/><circle cx="1816.0" cy="1366.0" r="12.55"/><circle cx="1817.2" cy="1307.9" r="12.55"/><circle cx="1818.4" cy="1336.5" r="12.55"/><circle cx="1819.6" cy="1317.3" r="12.55"/><circle cx="1820.8" cy="1321.5" r="12.55"/><circle cx="1822.0" cy="1360.4" r="12.55"/><circle cx="1823.2" cy="1421.2" r="12.55"/><circle cx="1824.3" cy="1297.5" r="12.55"/><circle cx="1825.5" cy="1297.9" r="12.55"/><circle cx="1826.7" cy="1370.7" r="12.55"/><circle cx="1827.9" cy="1341.1" r="12.55"/><circle cx="1829.1" cy="1273.6" r="12.55"/><circle cx="1830.3" cy="1291.0" r="12.55"/><circle cx="1831.5" cy="1308.9" r="12.55"/><circle cx="1832.7" cy="1303.3" r="12.55"/><circle cx="1833.8" cy="1293.5" r="12.55"/><circle cx="1835.0" cy="1341.3" r="12.55"/><circle cx="1836.2" cy="1282.4" r="12.55"/><circle cx="1837.4" cy="1321.0" r="12.55"/><circle cx="1838.6" cy="1305.4" r="12.55"/><circle cx="1839.8" cy="1300.4" r="12.55"/><circle cx="1841.0" cy="1334.3" r="12.55"/><circle cx="1842.2" cy="1272.2" r="12.55"/><circle cx="1843.4" cy="1341.6" r="12.55"/><circle cx="1844.5" cy="1312.6" r="12.55"/><circle cx="1845.7" cy="1289.3" r="12.55"/><circle cx="1846.9" cy="1301.9" r="12.55"/><circle cx="1848.1" cy="1338.1" r="12.55"/><circle cx="1849.3" cy="1316.0" r="12.55"/><circle cx="1850.5" cy="1268.4" r="12.55"/><circle cx="1851.7" cy="1241.3" r="12.55"/><circle cx="1852.9" cy="1326.7" r="12.55"/><circle cx="1854.0" cy="1310.7" r="12.55"/><circle cx="1855.2" cy="1365.9" r="12.55"/><circle cx="1856.4" cy="1286.1" r="12.55"/><circle cx="1857.6" cy="1254.4" r="12.55"/><circle cx="1858.8" cy="1271.6" r="12.55"/><circle cx="1860.0" cy="1264.8" r="12.55"/><circle cx="1861.2" cy="1287.7" r="12.55"/><circle cx="1862.4" cy="1316.4" r="12.55"/><circle cx="1863.5" cy="1324.3" r="12.55"/><circle cx="1864.7" cy="1330.7" r="12.55"/><circle cx="1865.9" cy="1380.5" r="12.55"/><circle cx="1867.1" cy="1276.0" r="12.55"/><circle cx="1868.3" cy="1349.5" r="12.55"/><circle cx="1869.5" cy="1283.8" r="12.55"/><circle cx="1870.7" cy="1333.1" r="12.55"/><circle cx="1871.9" cy="1317.7" r="12.55"/><circle cx="1873.0" cy="1337.8" r="12.55"/><circle cx="1874.2" cy="1300.2" r="12.55"/><circle cx="1875.4" cy="1291.7" r="12.55"/><circle cx="1876.6" cy="1332.7" r="12.55"/><circle cx="1877.8" cy="1340.7" r="12.55"/><circle cx="1879.0" cy="1299.9" r="12.55"/><circle cx="1880.2" cy="1291.8" r="12.55"/><circle cx="1881.4" cy="1413.0" r="12.55"/><circle cx="1882.5" cy="1303.0" r="12.55"/><circle cx="1883.7" cy="1239.4" r="12.55"/><circle cx="1884.9" cy="1289.5" r="12.55"/><circle cx="1886.1" cy="1354.6" r="12.55"/><circle cx="1887.3" cy="1266.3" r="12.55"/><circle cx="1888.5" cy="1306.5" r="12.55"/><circle cx="1889.7" cy="1272.4" r="12.55"/><circle cx="1890.9" cy="1303.0" r="12.55"/><circle cx="1892.0" cy="1371.7" r="12.55"/><circle cx="1893.2" cy="1270.2" r="12.55"/><circle cx="1894.4" cy="1330.5" r="12.55"/><circle cx="1895.6" cy="1254.0" r="12.55"/><circle cx="1896.8" cy="1312.2" r="12.55"/><circle cx="1898.0" cy="1263.9" r="12.55"/><circle cx="1899.2" cy="1313.3" r="12.55"/><circle cx="1900.4" cy="1381.7" r="12.55"/><circle cx="1901.6" cy="1291.8" r="12.55"/><circle cx="1902.7" cy="1315.3" r="12.55"/><circle cx="1903.9" cy="1280.2" r="12.55"/><circle cx="1905.1" cy="1373.0" r="12.55"/><circle cx="1906.3" cy="1342.7" r="12.55"/><circle cx="1907.5" cy="1296.3" r="12.55"/><circle cx="1908.7" cy="1345.9" r="12.55"/><circle cx="1909.9" cy="1330.5" r="12.55"/><circle cx="1911.1" cy="1266.1" r="12.55"/><circle cx="1912.2" cy="1377.2" r="12.55"/><circle cx="1913.4" cy="1350.8" r="12.55"/><circle cx="1914.6" cy="1262.1" r="12.55"/><circle cx="1915.8" cy="1349.9" r="12.55"/><circle cx="1917.0" cy="1301.9" r="12.55"/><circle cx="1918.2" cy="1324.6" r="12.55"/><circle cx="1919.4" cy="1297.3" r="12.55"/><circle cx="1920.6" cy="1248.6" r="12.55"/><circle cx="1921.7" cy="1303.7" r="12.55"/><circle cx="1922.9" cy="1355.9" r="12.55"/><circle cx="1924.1" cy="1308.3" r="12.55"/><circle cx="1925.3" cy="1307.8" r="12.55"/><circle cx="1926.5" cy="1292.7" r="12.55"/><circle cx="1927.7" cy="1336.8" r="12.55"/><circle cx="1928.9" cy="1279.7" r="12.55"/><circle cx="1930.1" cy="1340.7" r="12.55"/><circle cx="1931.2" cy="1316.9" r="12.55"/><circle cx="1932.4" cy="1348.5" r="12.55"/><circle cx="1933.6" cy="1322.4" r="12.55"/><circle cx="1934.8" cy="1287.8" r="12.55"/><circle cx="1936.0" cy="1314.0" r="12.55"/><circle cx="1937.2" cy="1323.4" r="12.55"/><circle cx="1938.4" cy="1313.7" r="12.55"/><circle cx="1939.6" cy="1358.5" r="12.55"/><circle cx="1940.7" cy="1250.1" r="12.55"/><circle cx="1941.9" cy="1307.1" r="12.55"/><circle cx="1943.1" cy="1380.7" r="12.55"/><circle cx="1944.3" cy="1343.0" r="12.55"/><circle cx="1945.5" cy="1279.2" r="12.55"/><circle cx="1946.7" cy="1410.0" r="12.55"/><circle cx="1947.9" cy="1203.3" r="12.55"/><circle cx="1949.1" cy="1273.4" r="12.55"/><circle cx="1950.2" cy="1269.7" r="12.55"/><circle cx="1951.4" cy="1337.1" r="12.55"/><circle cx="1952.6" cy="1329.4" r="12.55"/><circle cx="1953.8" cy="1356.2" r="12.55"/><circle cx="1955.0" cy="1368.4" r="12.55"/><circle cx="1956.2" cy="1296.2" r="12.55"/><circle cx="1957.4" cy="1309.6" r="12.55"/><circle cx="1958.6" cy="1289.6" r="12.55"/><circle cx="1959.8" cy="1303.5" r="12.55"/><circle cx="1960.9" cy="1357.8" r="12.55"/><circle cx="1962.1" cy="1268.6" r="12.55"/><circle cx="1963.3" cy="1356.6" r="12.55"/><circle cx="1964.5" cy="1289.6" r="12.55"/><circle cx="1965.7" cy="1331.3" r="12.55"/><circle cx="1966.9" cy="1242.5" r="12.55"/><circle cx="1968.1" cy="1396.2" r="12.55"/><circle cx="1969.3" cy="1278.8" r="12.55"/><circle cx="1970.4" cy="1324.7" r="12.55"/><circle cx="1971.6" cy="1370.7" r="12.55"/><circle cx="1972.8" cy="1283.9" r="12.55"/><circle cx="1974.0" cy="1284.0" r="12.55"/><circle cx="1975.2" cy="1327.9" r="12.55"/><circle cx="1976.4" cy="1283.4" r="12.55"/><circle cx="1977.6" cy="1282.1" r="12.55"/><circle cx="1978.8" cy="1246.4" r="12.55"/><circle cx="1979.9" cy="1361.5" r="12.55"/><circle cx="1981.1" cy="1327.4" r="12.55"/><circle cx="1982.3" cy="1356.9" r="12.55"/><circle cx="1983.5" cy="1326.7" r="12.55"/><circle cx="1984.7" cy="1324.0" r="12.55"/><circle cx="1985.9" cy="1341.9" r="12.55"/><circle cx="1987.1" cy="1298.1" r="12.55"/><circle cx="1988.3" cy="1308.7" r="12.55"/><circle cx="1989.4" cy="1309.8" r="12.55"/><circle cx="1990.6" cy="1307.0" r="12.55"/><circle cx="1991.8" cy="1287.5" r="12.55"/><circle cx="1993.0" cy="1311.1" r="12.55"/><circle cx="1994.2" cy="1311.7" r="12.55"/><circle cx="1995.4" cy="1363.4" r="12.55"/><circle cx="1996.6" cy="1302.7" r="12.55"/><circle cx="1997.8" cy="1357.6" r="12.55"/><circle cx="1998.9" cy="1306.7" r="12.55"/><circle cx="2000.1" cy="1313.9" r="12.55"/><circle cx="2001.3" cy="1288.2" r="12.55"/><circle cx="2002.5" cy="1322.7" r="12.55"/><circle cx="2003.7" cy="1333.7" r="12.55"/><circle cx="2004.9" cy="1323.7" r="12.55"/><circle cx="2006.1" cy="1320.9" r="12.55"/><circle cx="2007.3" cy="1356.5" r="12.55"/><circle cx="2008.4" cy="1338.7" r="12.55"/><circle cx="2009.6" cy="1285.6" r="12.55"/><circle cx="2010.8" cy="1274.0" r="12.55"/><circle cx="2012.0" cy="1305.0" r="12.55"/><circle cx="2013.2" cy="1279.5" r="12.55"/><circle cx="2014.4" cy="1283.5" r="12.55"/><circle cx="2015.6" cy="1284.0" r="12.55"/><circle cx="2016.8" cy="1331.0" r="12.55"/><circle cx="2018.0" cy="1334.1" r="12.55"/><circle cx="2019.1" cy="1302.2" r="12.55"/><circle cx="2020.3" cy="1237.5" r="12.55"/><circle cx="2021.5" cy="1278.2" r="12.55"/><circle cx="2022.7" cy="1295.9" r="12.55"/><circle cx="2023.9" cy="1323.1" r="12.55"/><circle cx="2025.1" cy="1280.8" r="12.55"/><circle cx="2026.3" cy="1348.8" r="12.55"/><circle cx="2027.5" cy="1298.8" r="12.55"/><circle cx="2028.6" cy="1307.9" r="12.55"/><circle cx="2029.8" cy="1332.5" r="12.55"/><circle cx="2031.0" cy="1263.6" r="12.55"/><circle cx="2032.2" cy="1323.3" r="12.55"/><circle cx="2033.4" cy="1299.6" r="12.55"/><circle cx="2034.6" cy="1261.0" r="12.55"/><circle cx="2035.8" cy="1304.3" r="12.55"/><circle cx="2037.0" cy="1336.5" r="12.55"/><circle cx="2038.1" cy="1273.2" r="12.55"/><circle cx="2039.3" cy="1330.2" r="12.55"/><circle cx="2040.5" cy="1255.1" r="12.55"/><circle cx="2041.7" cy="1300.1" r="12.55"/><circle cx="2042.9" cy="1316.2" r="12.55"/><circle cx="2044.1" cy="1265.2" r="12.55"/><circle cx="2045.3" cy="1332.0" r="12.55"/><circle cx="2046.5" cy="1330.2" r="12.55"/><circle cx="2047.6" cy="1342.9" r="12.55"/><circle cx="2048.8" cy="1346.8" r="12.55"/><circle cx="2050.0" cy="1315.5" r="12.55"/><circle cx="2051.2" cy="1319.0" r="12.55"/><circle cx="2052.4" cy="1247.6" r="12.55"/><circle cx="2053.6" cy="1295.1" r="12.55"/><circle cx="2054.8" cy="1339.4" r="12.55"/><circle cx="2056.0" cy="1323.0" r="12.55"/><circle cx="2057.1" cy="1338.8" r="12.55"/><circle cx="2058.3" cy="1346.5" r="12.55"/><circle cx="2059.5" cy="1294.2" r="12.55"/><circle cx="2060.7" cy="1309.2" r="12.55"/><circle cx="2061.9" cy="1332.4" r="12.55"/><circle cx="2063.1" cy="1312.9" r="12.55"/><circle cx="2064.3" cy="1313.6" r="12.55"/><circle cx="2065.5" cy="1314.0" r="12.55"/><circle cx="2066.6" cy="1315.9" r="12.55"/><circle cx="2067.8" cy="1348.9" r="12.55"/><circle cx="2069.0" cy="1254.3" r="12.55"/><circle cx="2070.2" cy="1339.6" r="12.55"/><circle cx="2071.4" cy="1286.0" r="12.55"/><circle cx="2072.6" cy="1278.5" r="12.55"/><circle cx="2073.8" cy="1334.6" r="12.55"/><circle cx="2075.0" cy="1382.0" r="12.55"/><circle cx="2076.2" cy="1349.1" r="12.55"/><circle cx="2077.3" cy="1333.8" r="12.55"/><circle cx="2078.5" cy="1313.0" r="12.55"/><circle cx="2079.7" cy="1334.7" r="12.55"/><circle cx="2080.9" cy="1374.4" r="12.55"/><circle cx="2082.1" cy="1313.8" r="12.55"/><circle cx="2083.3" cy="1319.3" r="12.55"/><circle cx="2084.5" cy="1315.1" r="12.55"/><circle cx="2085.7" cy="1333.2" r="12.55"/><circle cx="2086.8" cy="1317.9" r="12.55"/><circle cx="2088.0" cy="1359.2" r="12.55"/><circle cx="2089.2" cy="1287.1" r="12.55"/><circle cx="2090.4" cy="1288.9" r="12.55"/><circle cx="2091.6" cy="1344.1" r="12.55"/><circle cx="2092.8" cy="1351.9" r="12.55"/><circle cx="2094.0" cy="1336.7" r="12.55"/><circle cx="2095.2" cy="1281.7" r="12.55"/><circle cx="2096.3" cy="1350.3" r="12.55"/><circle cx="2097.5" cy="1290.6" r="12.55"/><circle cx="2098.7" cy="1279.1" r="12.55"/><circle cx="2099.9" cy="1298.7" r="12.55"/><circle cx="2101.1" cy="1294.1" r="12.55"/><circle cx="2102.3" cy="1317.2" r="12.55"/><circle cx="2103.5" cy="1292.8" r="12.55"/><circle cx="2104.7" cy="1292.4" r="12.55"/><circle cx="2105.8" cy="1297.1" r="12.55"/><circle cx="2107.0" cy="1309.3" r="12.55"/><circle cx="2108.2" cy="1322.7" r="12.55"/><circle cx="2109.4" cy="1314.6" r="12.55"/><circle cx="2110.6" cy="1345.3" r="12.55"/><circle cx="2111.8" cy="1322.0" r="12.55"/><circle cx="2113.0" cy="1320.8" r="12.55"/><circle cx="2114.2" cy="1353.6" r="12.55"/><circle cx="2115.3" cy="1379.6" r="12.55"/><circle cx="2116.5" cy="1313.3" r="12.55"/><circle cx="2117.7" cy="1288.4" r="12.55"/><circle cx="2118.9" cy="1282.6" r="12.55"/><circle cx="2120.1" cy="1354.7" r="12.55"/><circle cx="2121.3" cy="1272.0" r="12.55"/><circle cx="2122.5" cy="1333.1" r="12.55"/><circle cx="2123.7" cy="1373.6" r="12.55"/><circle cx="2124.8" cy="1267.0" r="12.55"/><circle cx="2126.0" cy="1340.1" r="12.55"/><circle cx="2127.2" cy="1364.6" r="12.55"/><circle cx="2128.4" cy="1349.8" r="12.55"/><circle cx="2129.6" cy="1346.7" r="12.55"/><circle cx="2130.8" cy="1402.8" r="12.55"/><circle cx="2132.0" cy="1340.9" r="12.55"/><circle cx="2133.2" cy="1295.6" r="12.55"/><circle cx="2134.3" cy="1319.3" r="12.55"/><circle cx="2135.5" cy="1345.6" r="12.55"/><circle cx="2136.7" cy="1368.5" r="12.55"/><circle cx="2137.9" cy="1350.9" r="12.55"/><circle cx="2139.1" cy="1379.9" r="12.55"/><circle cx="2140.3" cy="1298.4" r="12.55"/><circle cx="2141.5" cy="1351.4" r="12.55"/><circle cx="2142.7" cy="1325.0" r="12.55"/><circle cx="2143.9" cy="1304.0" r="12.55"/><circle cx="2145.0" cy="1248.9" r="12.55"/><circle cx="2146.2" cy="1339.9" r="12.55"/><circle cx="2147.4" cy="1351.2" r="12.55"/><circle cx="2148.6" cy="1270.6" r="12.55"/><circle cx="2149.8" cy="1364.6" r="12.55"/><circle cx="2151.0" cy="1282.9" r="12.55"/><circle cx="2152.2" cy="1312.4" r="12.55"/><circle cx="2153.4" cy="1322.0" r="12.55"/><circle cx="2154.5" cy="1305.4" r="12.55"/><circle cx="2155.7" cy="1254.9" r="12.55"/><circle cx="2156.9" cy="1308.5" r="12.55"/><circle cx="2158.1" cy="1342.1" r="12.55"/><circle cx="2159.3" cy="1315.8" r="12.55"/><circle cx="2160.5" cy="1348.6" r="12.55"/><circle cx="2161.7" cy="1329.1" r="12.55"/><circle cx="2162.9" cy="1344.0" r="12.55"/><circle cx="2164.0" cy="1354.0" r="12.55"/><circle cx="2165.2" cy="1234.8" r="12.55"/><circle cx="2166.4" cy="1341.0" r="12.55"/><circle cx="2167.6" cy="1366.5" r="12.55"/><circle cx="2168.8" cy="1309.9" r="12.55"/><circle cx="2170.0" cy="1334.8" r="12.55"/><circle cx="2171.2" cy="1409.4" r="12.55"/><circle cx="2172.4" cy="1340.4" r="12.55"/><circle cx="2173.5" cy="1348.5" r="12.55"/><circle cx="2174.7" cy="1284.2" r="12.55"/><circle cx="2175.9" cy="1343.9" r="12.55"/><circle cx="2177.1" cy="1334.4" r="12.55"/><circle cx="2178.3" cy="1358.6" r="12.55"/><circle cx="2179.5" cy="1338.5" r="12.55"/><circle cx="2180.7" cy="1322.9" r="12.55"/><circle cx="2181.9" cy="1297.9" r="12.55"/><circle cx="2183.0" cy="1325.4" r="12.55"/><circle cx="2184.2" cy="1338.9" r="12.55"/><circle cx="2185.4" cy="1288.6" r="12.55"/><circle cx="2186.6" cy="1294.6" r="12.55"/><circle cx="2187.8" cy="1233.7" r="12.55"/><circle cx="2189.0" cy="1305.6" r="12.55"/><circle cx="2190.2" cy="1323.6" r="12.55"/><circle cx="2191.4" cy="1331.6" r="12.55"/><circle cx="2192.5" cy="1286.2" r="12.55"/><circle cx="2193.7" cy="1306.3" r="12.55"/><circle cx="2194.9" cy="1265.9" r="12.55"/><circle cx="2196.1" cy="1345.8" r="12.55"/><circle cx="2197.3" cy="1270.5" r="12.55"/><circle cx="2198.5" cy="1260.1" r="12.55"/><circle cx="2199.7" cy="1336.3" r="12.55"/><circle cx="2200.9" cy="1277.5" r="12.55"/><circle cx="2202.1" cy="1299.5" r="12.55"/><circle cx="2203.2" cy="1253.1" r="12.55"/><circle cx="2204.4" cy="1375.1" r="12.55"/><circle cx="2205.6" cy="1262.3" r="12.55"/><circle cx="2206.8" cy="1278.0" r="12.55"/><circle cx="2208.0" cy="1275.9" r="12.55"/><circle cx="2209.2" cy="1303.9" r="12.55"/><circle cx="2210.4" cy="1264.3" r="12.55"/><circle cx="2211.6" cy="1299.2" r="12.55"/><circle cx="2212.7" cy="1319.2" r="12.55"/><circle cx="2213.9" cy="1268.9" r="12.55"/><circle cx="2215.1" cy="1374.2" r="12.55"/><circle cx="2216.3" cy="1288.9" r="12.55"/><circle cx="2217.5" cy="1317.5" r="12.55"/><circle cx="2218.7" cy="1297.8" r="12.55"/><circle cx="2219.9" cy="1384.2" r="12.55"/><circle cx="2221.1" cy="1279.9" r="12.55"/><circle cx="2222.2" cy="1302.8" r="12.55"/><circle cx="2223.4" cy="1296.7" r="12.55"/><circle cx="2224.6" cy="1399.8" r="12.55"/><circle cx="2225.8" cy="1343.5" r="12.55"/><circle cx="2227.0" cy="1334.0" r="12.55"/><circle cx="2228.2" cy="1323.0" r="12.55"/><circle cx="2229.4" cy="1291.1" r="12.55"/><circle cx="2230.6" cy="1310.5" r="12.55"/><circle cx="2231.7" cy="1349.7" r="12.55"/><circle cx="2232.9" cy="1332.9" r="12.55"/><circle cx="2234.1" cy="1268.4" r="12.55"/><circle cx="2235.3" cy="1327.5" r="12.55"/><circle cx="2236.5" cy="1308.8" r="12.55"/><circle cx="2237.7" cy="1299.0" r="12.55"/><circle cx="2238.9" cy="1238.4" r="12.55"/><circle cx="2240.1" cy="1306.1" r="12.55"/><circle cx="2241.2" cy="1289.4" r="12.55"/><circle cx="2242.4" cy="1314.3" r="12.55"/><circle cx="2243.6" cy="1281.6" r="12.55"/><circle cx="2244.8" cy="1306.0" r="12.55"/><circle cx="2246.0" cy="1265.6" r="12.55"/><circle cx="2247.2" cy="1325.4" r="12.55"/><circle cx="2248.4" cy="1259.4" r="12.55"/><circle cx="2249.6" cy="1309.5" r="12.55"/><circle cx="2250.7" cy="1269.8" r="12.55"/><circle cx="2251.9" cy="1334.3" r="12.55"/><circle cx="2253.1" cy="1324.4" r="12.55"/><circle cx="2254.3" cy="1289.1" r="12.55"/><circle cx="2255.5" cy="1317.6" r="12.55"/><circle cx="2256.7" cy="1339.4" r="12.55"/><circle cx="2257.9" cy="1287.4" r="12.55"/><circle cx="2259.1" cy="1302.6" r="12.55"/><circle cx="2260.3" cy="1338.2" r="12.55"/><circle cx="2261.4" cy="1262.2" r="12.55"/><circle cx="2262.6" cy="1402.3" r="12.55"/><circle cx="2263.8" cy="1328.7" r="12.55"/><circle cx="2265.0" cy="1311.9" r="12.55"/><circle cx="2266.2" cy="1272.6" r="12.55"/><circle cx="2267.4" cy="1302.4" r="12.55"/><circle cx="2268.6" cy="1349.4" r="12.55"/><circle cx="2269.8" cy="1339.8" r="12.55"/><circle cx="2270.9" cy="1287.6" r="12.55"/><circle cx="2272.1" cy="1367.6" r="12.55"/><circle cx="2273.3" cy="1337.7" r="12.55"/><circle cx="2274.5" cy="1312.7" r="12.55"/><circle cx="2275.7" cy="1352.2" r="12.55"/><circle cx="2276.9" cy="1347.7" r="12.55"/><circle cx="2278.1" cy="1308.4" r="12.55"/><circle cx="2279.3" cy="1284.5" r="12.55"/><circle cx="2280.4" cy="1342.3" r="12.55"/><circle cx="2281.6" cy="1355.3" r="12.55"/><circle cx="2282.8" cy="1315.4" r="12.55"/><circle cx="2284.0" cy="1265.8" r="12.55"/><circle cx="2285.2" cy="1252.0" r="12.55"/><circle cx="2286.4" cy="1373.1" r="12.55"/><circle cx="2287.6" cy="1279.5" r="12.55"/><circle cx="2288.8" cy="1299.8" r="12.55"/><circle cx="2289.9" cy="1311.1" r="12.55"/><circle cx="2291.1" cy="1291.2" r="12.55"/><circle cx="2292.3" cy="1332.6" r="12.55"/><circle cx="2293.5" cy="1333.3" r="12.55"/><circle cx="2294.7" cy="1298.1" r="12.55"/><circle cx="2295.9" cy="1334.0" r="12.55"/><circle cx="2297.1" cy="1339.6" r="12.55"/><circle cx="2298.3" cy="1372.6" r="12.55"/><circle cx="2299.4" cy="1264.0" r="12.55"/><circle cx="2300.6" cy="1390.9" r="12.55"/><circle cx="2301.8" cy="1321.7" r="12.55"/><circle cx="2303.0" cy="1345.5" r="12.55"/><circle cx="2304.2" cy="1371.2" r="12.55"/><circle cx="2305.4" cy="1306.8" r="12.55"/><circle cx="2306.6" cy="1280.1" r="12.55"/><circle cx="2307.8" cy="1367.5" r="12.55"/><circle cx="2308.9" cy="1308.1" r="12.55"/><circle cx="2310.1" cy="1310.6" r="12.55"/><circle cx="2311.3" cy="1311.5" r="12.55"/><circle cx="2312.5" cy="1303.8" r="12.55"/><circle cx="2313.7" cy="1352.0" r="12.55"/><circle cx="2314.9" cy="1273.8" r="12.55"/><circle cx="2316.1" cy="1342.1" r="12.55"/><circle cx="2317.3" cy="1204.2" r="12.55"/><circle cx="2318.5" cy="1306.7" r="12.55"/><circle cx="2319.6" cy="1315.1" r="12.55"/><circle cx="2320.8" cy="1262.8" r="12.55"/><circle cx="2322.0" cy="1305.2" r="12.55"/><circle cx="2323.2" cy="1292.0" r="12.55"/><circle cx="2324.4" cy="1217.4" r="12.55"/><circle cx="2325.6" cy="1384.0" r="12.55"/><circle cx="2326.8" cy="1283.3" r="12.55"/><circle cx="2328.0" cy="1234.6" r="12.55"/><circle cx="2329.1" cy="1274.4" r="12.55"/><circle cx="2330.3" cy="1252.7" r="12.55"/><circle cx="2331.5" cy="1272.9" r="12.55"/><circle cx="2332.7" cy="1245.2" r="12.55"/><circle cx="2333.9" cy="1299.0" r="12.55"/><circle cx="2335.1" cy="1289.5" r="12.55"/><circle cx="2336.3" cy="1295.8" r="12.55"/><circle cx="2337.5" cy="1327.3" r="12.55"/><circle cx="2338.6" cy="1312.2" r="12.55"/><circle cx="2339.8" cy="1280.3" r="12.55"/><circle cx="2341.0" cy="1256.7" r="12.55"/><circle cx="2342.2" cy="1287.8" r="12.55"/><circle cx="2343.4" cy="1307.6" r="12.55"/><circle cx="2344.6" cy="1290.1" r="12.55"/><circle cx="2345.8" cy="1304.8" r="12.55"/><circle cx="2347.0" cy="1283.7" r="12.55"/><circle cx="2348.1" cy="1328.9" r="12.55"/><circle cx="2349.3" cy="1311.3" r="12.55"/><circle cx="2350.5" cy="1337.9" r="12.55"/><circle cx="2351.7" cy="1312.9" r="12.55"/><circle cx="2352.9" cy="1298.8" r="12.55"/><circle cx="2354.1" cy="1362.7" r="12.55"/><circle cx="2355.3" cy="1392.7" r="12.55"/><circle cx="2356.5" cy="1330.0" r="12.55"/><circle cx="2357.6" cy="1325.9" r="12.55"/><circle cx="2358.8" cy="1300.2" r="12.55"/><circle cx="2360.0" cy="1294.5" r="12.55"/><circle cx="2361.2" cy="1344.9" r="12.55"/><circle cx="2362.4" cy="1296.0" r="12.55"/><circle cx="2363.6" cy="1286.0" r="12.55"/><circle cx="2364.8" cy="1284.3" r="12.55"/><circle cx="2366.0" cy="1300.9" r="12.55"/><circle cx="2367.1" cy="1213.1" r="12.55"/><circle cx="2368.3" cy="1298.8" r="12.55"/><circle cx="2369.5" cy="1276.4" r="12.55"/><circle cx="2370.7" cy="1343.8" r="12.55"/><circle cx="2371.9" cy="1304.2" r="12.55"/><circle cx="2373.1" cy="1325.8" r="12.55"/><circle cx="2374.3" cy="1363.6" r="12.55"/><circle cx="2375.5" cy="1301.1" r="12.55"/><circle cx="2376.7" cy="1269.2" r="12.55"/><circle cx="2377.8" cy="1327.2" r="12.55"/><circle cx="2379.0" cy="1278.8" r="12.55"/><circle cx="2380.2" cy="1397.3" r="12.55"/><circle cx="2381.4" cy="1263.0" r="12.55"/><circle cx="2382.6" cy="1284.7" r="12.55"/><circle cx="2383.8" cy="1312.4" r="12.55"/><circle cx="2385.0" cy="1340.3" r="12.55"/><circle cx="2386.2" cy="1366.3" r="12.55"/><circle cx="2387.3" cy="1309.9" r="12.55"/><circle cx="2388.5" cy="1295.9" r="12.55"/><circle cx="2389.7" cy="1299.2" r="12.55"/><circle cx="2390.9" cy="1343.6" r="12.55"/><circle cx="2392.1" cy="1361.2" r="12.55"/><circle cx="2393.3" cy="1258.5" r="12.55"/><circle cx="2394.5" cy="1329.1" r="12.55"/><circle cx="2395.7" cy="1363.3" r="12.55"/><circle cx="2396.8" cy="1318.7" r="12.55"/><circle cx="2398.0" cy="1300.9" r="12.55"/><circle cx="2399.2" cy="1331.2" r="12.55"/><circle cx="2400.4" cy="1344.3" r="12.55"/><circle cx="2401.6" cy="1316.4" r="12.55"/><circle cx="2402.8" cy="1423.2" r="12.55"/><circle cx="2404.0" cy="1340.1" r="12.55"/><circle cx="2405.2" cy="1360.7" r="12.55"/><circle cx="2406.3" cy="1252.2" r="12.55"/><circle cx="2407.5" cy="1349.8" r="12.55"/><circle cx="2408.7" cy="1287.6" r="12.55"/><circle cx="2409.9" cy="1303.6" r="12.55"/><circle cx="2411.1" cy="1336.3" r="12.55"/><circle cx="2412.3" cy="1331.1" r="12.55"/><circle cx="2413.5" cy="1312.3" r="12.55"/><circle cx="2414.7" cy="1271.8" r="12.55"/><circle cx="2415.8" cy="1300.5" r="12.55"/><circle cx="2417.0" cy="1333.5" r="12.55"/><circle cx="2418.2" cy="1388.0" r="12.55"/><circle cx="2419.4" cy="1329.2" r="12.55"/><circle cx="2420.6" cy="1324.9" r="12.55"/><circle cx="2421.8" cy="1372.5" r="12.55"/><circle cx="2423.0" cy="1315.3" r="12.55"/><circle cx="2424.2" cy="1318.8" r="12.55"/><circle cx="2425.3" cy="1339.7" r="12.55"/><circle cx="2426.5" cy="1339.1" r="12.55"/><circle cx="2427.7" cy="1345.7" r="12.55"/><circle cx="2428.9" cy="1347.7" r="12.55"/><circle cx="2430.1" cy="1328.3" r="12.55"/><circle cx="2431.3" cy="1300.8" r="12.55"/><circle cx="2432.5" cy="1309.4" r="12.55"/><circle cx="2433.7" cy="1334.9" r="12.55"/><circle cx="2434.9" cy="1305.0" r="12.55"/><circle cx="2436.0" cy="1293.6" r="12.55"/><circle cx="2437.2" cy="1381.3" r="12.55"/><circle cx="2438.4" cy="1313.7" r="12.55"/><circle cx="2439.6" cy="1356.0" r="12.55"/><circle cx="2440.8" cy="1328.2" r="12.55"/><circle cx="2442.0" cy="1306.9" r="12.55"/><circle cx="2443.2" cy="1308.7" r="12.55"/><circle cx="2444.4" cy="1305.9" r="12.55"/><circle cx="2445.5" cy="1347.8" r="12.55"/><circle cx="2446.7" cy="1294.3" r="12.55"/><circle cx="2447.9" cy="1208.7" r="12.55"/><circle cx="2449.1" cy="1314.2" r="12.55"/><circle cx="2450.3" cy="1302.2" r="12.55"/><circle cx="2451.5" cy="1320.2" r="12.55"/><circle cx="2452.7" cy="1276.1" r="12.55"/><circle cx="2453.9" cy="1304.8" r="12.55"/><circle cx="2455.0" cy="1196.8" r="12.55"/><circle cx="2456.2" cy="1278.7" r="12.55"/><circle cx="2457.4" cy="1315.9" r="12.55"/><circle cx="2458.6" cy="1272.0" r="12.55"/><circle cx="2459.8" cy="1263.4" r="12.55"/><circle cx="2461.0" cy="1265.5" r="12.55"/><circle cx="2462.2" cy="1421.9" r="12.55"/><circle cx="2463.4" cy="1349.5" r="12.55"/><circle cx="2464.5" cy="1312.2" r="12.55"/><circle cx="2465.7" cy="1323.9" r="12.55"/><circle cx="2466.9" cy="1298.6" r="12.55"/><circle cx="2468.1" cy="1258.9" r="12.55"/><circle cx="2469.3" cy="1286.6" r="12.55"/><circle cx="2470.5" cy="1268.3" r="12.55"/><circle cx="2471.7" cy="1302.5" r="12.55"/><circle cx="2472.9" cy="1307.5" r="12.55"/><circle cx="2474.0" cy="1365.6" r="12.55"/><circle cx="2475.2" cy="1266.8" r="12.55"/><circle cx="2476.4" cy="1335.3" r="12.55"/><circle cx="2477.6" cy="1298.3" r="12.55"/><circle cx="2478.8" cy="1320.3" r="12.55"/><circle cx="2480.0" cy="1281.4" r="12.55"/><circle cx="2481.2" cy="1399.0" r="12.55"/><circle cx="2482.4" cy="1321.9" r="12.55"/><circle cx="2483.5" cy="1340.8" r="12.55"/><circle cx="2484.7" cy="1284.9" r="12.55"/><circle cx="2485.9" cy="1321.6" r="12.55"/><circle cx="2487.1" cy="1316.2" r="12.55"/><circle cx="2488.3" cy="1335.6" r="12.55"/><circle cx="2489.5" cy="1308.0" r="12.55"/><circle cx="2490.7" cy="1288.0" r="12.55"/><circle cx="2491.9" cy="1353.9" r="12.55"/><circle cx="2493.1" cy="1338.2" r="12.55"/><circle cx="2494.2" cy="1290.5" r="12.55"/><circle cx="2495.4" cy="1354.5" r="12.55"/><circle cx="2496.6" cy="1301.0" r="12.55"/><circle cx="2497.8" cy="1285.7" r="12.55"/><circle cx="2499.0" cy="1318.9" r="12.55"/><circle cx="2500.2" cy="1330.4" r="12.55"/><circle cx="2501.4" cy="1315.8" r="12.55"/><circle cx="2502.6" cy="1316.6" r="12.55"/><circle cx="2503.7" cy="1360.9" r="12.55"/><circle cx="2504.9" cy="1364.5" r="12.55"/><circle cx="2506.1" cy="1329.3" r="12.55"/><circle cx="2507.3" cy="1266.7" r="12.55"/><circle cx="2508.5" cy="1310.2" r="12.55"/><circle cx="2509.7" cy="1362.5" r="12.55"/><circle cx="2510.9" cy="1267.4" r="12.55"/><circle cx="2512.1" cy="1311.4" r="12.55"/><circle cx="2513.2" cy="1335.1" r="12.55"/><circle cx="2514.4" cy="1252.5" r="12.55"/><circle cx="2515.6" cy="1323.7" r="12.55"/><circle cx="2516.8" cy="1361.4" r="12.55"/><circle cx="2518.0" cy="1360.5" r="12.55"/><circle cx="2519.2" cy="1277.6" r="12.55"/><circle cx="2520.4" cy="1288.7" r="12.55"/><circle cx="2521.6" cy="1307.6" r="12.55"/><circle cx="2522.7" cy="1267.7" r="12.55"/><circle cx="2523.9" cy="1300.7" r="12.55"/><circle cx="2525.1" cy="1277.6" r="12.55"/><circle cx="2526.3" cy="1269.9" r="12.55"/><circle cx="2527.5" cy="1299.7" r="12.55"/><circle cx="2528.7" cy="1345.7" r="12.55"/><circle cx="2529.9" cy="1255.6" r="12.55"/><circle cx="2531.1" cy="1285.0" r="12.55"/><circle cx="2532.2" cy="1297.7" r="12.55"/><circle cx="2533.4" cy="1326.8" r="12.55"/><circle cx="2534.6" cy="1305.1" r="12.55"/><circle cx="2535.8" cy="1267.1" r="12.55"/><circle cx="2537.0" cy="1334.7" r="12.55"/><circle cx="2538.2" cy="1330.6" r="12.55"/><circle cx="2539.4" cy="1339.3" r="12.55"/><circle cx="2540.6" cy="1349.0" r="12.55"/><circle cx="2541.7" cy="1334.6" r="12.55"/><circle cx="2542.9" cy="1253.5" r="12.55"/><circle cx="2544.1" cy="1284.4" r="12.55"/><circle cx="2545.3" cy="1383.7" r="12.55"/><circle cx="2546.5" cy="1333.5" r="12.55"/><circle cx="2547.7" cy="1345.0" r="12.55"/><circle cx="2548.9" cy="1353.3" r="12.55"/><circle cx="2550.1" cy="1304.4" r="12.55"/><circle cx="2551.3" cy="1342.2" r="12.55"/><circle cx="2552.4" cy="1325.8" r="12.55"/><circle cx="2553.6" cy="1353.7" r="12.55"/><circle cx="2554.8" cy="1309.0" r="12.55"/><circle cx="2556.0" cy="1310.1" r="12.55"/><circle cx="2557.2" cy="1359.7" r="12.55"/><circle cx="2558.4" cy="1314.9" r="12.55"/><circle cx="2559.6" cy="1323.6" r="12.55"/><circle cx="2560.8" cy="1305.0" r="12.55"/><circle cx="2561.9" cy="1325.5" r="12.55"/><circle cx="2563.1" cy="1339.2" r="12.55"/><circle cx="2564.3" cy="1260.0" r="12.55"/><circle cx="2565.5" cy="1305.1" r="12.55"/><circle cx="2566.7" cy="1366.2" r="12.55"/><circle cx="2567.9" cy="1254.6" r="12.55"/><circle cx="2569.1" cy="1331.3" r="12.55"/><circle cx="2570.3" cy="1337.2" r="12.55"/><circle cx="2571.4" cy="1292.0" r="12.55"/><circle cx="2572.6" cy="1317.8" r="12.55"/><circle cx="2573.8" cy="1232.5" r="12.55"/><circle cx="2575.0" cy="1344.4" r="12.55"/><circle cx="2576.2" cy="1287.1" r="12.55"/><circle cx="2577.4" cy="1240.7" r="12.55"/><circle cx="2578.6" cy="1290.1" r="12.55"/><circle cx="2579.8" cy="1321.6" r="12.55"/><circle cx="2580.9" cy="1303.1" r="12.55"/><circle cx="2582.1" cy="1317.4" r="12.55"/><circle cx="2583.3" cy="1300.3" r="12.55"/><circle cx="2584.5" cy="1277.0" r="12.55"/><circle cx="2585.7" cy="1287.4" r="12.55"/><circle cx="2586.9" cy="1255.2" r="12.55"/><circle cx="2588.1" cy="1324.5" r="12.55"/><circle cx="2589.3" cy="1332.6" r="12.55"/><circle cx="2590.4" cy="1405.7" r="12.55"/><circle cx="2591.6" cy="1327.4" r="12.55"/><circle cx="2592.8" cy="1321.1" r="12.55"/><circle cx="2594.0" cy="1289.7" r="12.55"/><circle cx="2595.2" cy="1332.1" r="12.55"/><circle cx="2596.4" cy="1263.3" r="12.55"/><circle cx="2597.6" cy="1325.0" r="12.55"/><circle cx="2598.8" cy="1351.3" r="12.55"/><circle cx="2599.9" cy="1268.0" r="12.55"/><circle cx="2601.1" cy="1387.8" r="12.55"/><circle cx="2602.3" cy="1294.7" r="12.55"/><circle cx="2603.5" cy="1365.1" r="12.55"/><circle cx="2604.7" cy="1314.4" r="12.55"/><circle cx="2605.9" cy="1326.1" r="12.55"/><circle cx="2607.1" cy="1301.0" r="12.55"/><circle cx="2608.3" cy="1322.9" r="12.55"/><circle cx="2609.4" cy="1320.8" r="12.55"/>
</g>
<polyline clip-path="url(#c2)" points="233.9,1283.5 235.1,1288.9 236.3,1294.3 237.5,1299.9 238.7,1305.3 239.9,1311.4 241.1,1315.9 242.3,1318.4 243.5,1322.4 244.6,1325.4 245.8,1328.2 247.0,1332.1 248.2,1335.7 249.4,1334.7 250.6,1331.1 251.8,1329.0 253.0,1326.5 254.1,1323.4 255.3,1319.8 256.5,1317.5 257.7,1313.6 258.9,1309.7 260.1,1304.3 261.3,1301.4 262.5,1300.1 263.6,1299.5 264.8,1300.7 266.0,1303.3 267.2,1305.5 268.4,1308.1 269.6,1310.9 270.8,1312.2 272.0,1313.2 273.1,1314.8 274.3,1315.8 275.5,1316.8 276.7,1317.8 277.9,1321.2 279.1,1323.1 280.3,1325.8 281.5,1326.3 282.6,1326.2 283.8,1321.2 285.0,1318.5 286.2,1315.6 287.4,1314.9 288.6,1312.0 289.8,1312.6 291.0,1313.0 292.1,1315.0 293.3,1316.4 294.5,1316.6 295.7,1321.0 296.9,1323.3 298.1,1326.2 299.3,1328.0 300.5,1328.7 301.7,1324.3 302.8,1321.4 304.0,1316.6 305.2,1313.2 306.4,1309.8 307.6,1307.2 308.8,1305.3 310.0,1305.6 311.2,1305.5 312.3,1307.9 313.5,1310.5 314.7,1310.8 315.9,1312.2 317.1,1316.1 318.3,1317.2 319.5,1317.8 320.7,1318.3 321.8,1314.8 323.0,1313.8 324.2,1312.9 325.4,1309.0 326.6,1308.9 327.8,1311.9 329.0,1310.5 330.2,1309.3 331.3,1312.3 332.5,1313.3 333.7,1311.0 334.9,1308.5 336.1,1309.7 337.3,1307.7 338.5,1305.1 339.7,1305.2 340.8,1304.9 342.0,1300.8 343.2,1298.7 344.4,1300.0 345.6,1299.0 346.8,1301.8 348.0,1305.4 349.2,1308.5 350.3,1309.5 351.5,1313.7 352.7,1316.6 353.9,1319.2 355.1,1322.1 356.3,1322.3 357.5,1318.6 358.7,1317.6 359.9,1315.4 361.0,1310.8 362.2,1308.5 363.4,1308.5 364.6,1307.5 365.8,1309.9 367.0,1312.5 368.2,1313.7 369.4,1315.4 370.5,1316.1 371.7,1316.8 372.9,1317.9 374.1,1316.7 375.3,1315.5 376.5,1313.9 377.7,1312.1 378.9,1308.8 380.0,1307.5 381.2,1302.2 382.4,1297.2 383.6,1295.5 384.8,1297.5 386.0,1299.7 387.2,1304.6 388.4,1309.8 389.5,1311.5 390.7,1314.3 391.9,1317.7 393.1,1319.4 394.3,1322.1 395.5,1324.8 396.7,1326.4 397.9,1326.7 399.0,1326.4 400.2,1321.9 401.4,1322.2 402.6,1319.1 403.8,1317.5 405.0,1315.7 406.2,1315.9 407.4,1311.8 408.5,1311.1 409.7,1309.4 410.9,1308.8 412.1,1308.7 413.3,1308.7 414.5,1307.3 415.7,1306.6 416.9,1305.3 418.1,1304.0 419.2,1302.2 420.4,1302.1 421.6,1299.0 422.8,1298.4 424.0,1297.2 425.2,1299.7 426.4,1300.9 427.6,1305.1 428.7,1307.2 429.9,1307.7 431.1,1307.0 432.3,1309.0 433.5,1309.0 434.7,1305.9 435.9,1304.4 437.1,1303.0 438.2,1300.7 439.4,1297.1 440.6,1294.6 441.8,1292.7 443.0,1290.5 444.2,1289.3 445.4,1291.1 446.6,1292.7 447.7,1295.1 448.9,1298.0 450.1,1298.9 451.3,1299.3 452.5,1300.5 453.7,1301.8 454.9,1303.9 456.1,1306.6 457.2,1309.3 458.4,1314.6 459.6,1314.7 460.8,1315.8 462.0,1315.6 463.2,1317.1 464.4,1314.8 465.6,1315.0 466.7,1313.6 467.9,1311.5 469.1,1309.1 470.3,1307.3 471.5,1306.3 472.7,1304.7 473.9,1305.9 475.1,1305.6 476.3,1306.4 477.4,1307.7 478.6,1308.7 479.8,1308.5 481.0,1311.3 482.2,1313.9 483.4,1313.5 484.6,1315.1 485.8,1313.8 486.9,1313.2 488.1,1311.5 489.3,1310.5 490.5,1305.5 491.7,1304.5 492.9,1301.8 494.1,1299.9 495.3,1299.5 496.4,1301.6 497.6,1303.6 498.8,1306.3 500.0,1308.4 501.2,1309.1 502.4,1309.7 503.6,1310.7 504.8,1311.6 505.9,1313.4 507.1,1316.3 508.3,1318.5 509.5,1322.2 510.7,1325.2 511.9,1327.3 513.1,1327.6 514.3,1328.6 515.4,1326.8 516.6,1324.8 517.8,1323.7 519.0,1323.2 520.2,1321.6 521.4,1320.1 522.6,1319.0 523.8,1316.4 524.9,1313.5 526.1,1312.7 527.3,1310.6 528.5,1306.2 529.7,1304.1 530.9,1302.0 532.1,1299.7 533.3,1296.5 534.5,1296.2 535.6,1296.6 536.8,1298.1 538.0,1300.1 539.2,1301.4 540.4,1305.0 541.6,1308.2 542.8,1313.1 544.0,1314.7 545.1,1319.4 546.3,1319.6 547.5,1319.8 548.7,1317.5 549.9,1316.4 551.1,1314.1 552.3,1309.1 553.5,1308.5 554.6,1308.5 555.8,1309.6 557.0,1311.4 558.2,1316.0 559.4,1316.5 560.6,1318.1 561.8,1320.1 563.0,1323.1 564.1,1324.8 565.3,1325.7 566.5,1325.1 567.7,1323.0 568.9,1319.8 570.1,1318.2 571.3,1316.8 572.5,1314.4 573.6,1312.7 574.8,1309.6 576.0,1307.5 577.2,1306.4 578.4,1306.3 579.6,1307.0 580.8,1307.6 582.0,1310.3 583.1,1310.8 584.3,1313.1 585.5,1313.6 586.7,1315.7 587.9,1314.4 589.1,1313.0 590.3,1308.9 591.5,1306.2 592.7,1303.3 593.8,1299.7 595.0,1299.6 596.2,1298.9 597.4,1297.5 598.6,1298.8 599.8,1301.6 601.0,1302.3 602.2,1304.7 603.3,1308.4 604.5,1310.7 605.7,1313.7 606.9,1317.1 608.1,1319.2 609.3,1322.2 610.5,1323.0 611.7,1323.5 612.8,1324.0 614.0,1327.1 615.2,1330.6 616.4,1333.5 617.6,1334.4 618.8,1333.7 620.0,1332.9 621.2,1327.1 622.3,1325.0 623.5,1323.2 624.7,1322.5 625.9,1319.1 627.1,1319.0 628.3,1318.3 629.5,1317.5 630.7,1317.6 631.8,1319.3 633.0,1321.4 634.2,1323.7 635.4,1325.0 636.6,1325.3 637.8,1326.7 639.0,1326.1 640.2,1328.1 641.3,1329.0 642.5,1330.8 643.7,1330.7 644.9,1333.5 646.1,1331.9 647.3,1333.3 648.5,1331.5 649.7,1329.5 650.9,1326.6 652.0,1325.7 653.2,1323.4 654.4,1320.8 655.6,1317.4 656.8,1313.9 658.0,1308.7 659.2,1306.6 660.4,1303.3 661.5,1302.6 662.7,1302.5 663.9,1305.4 665.1,1306.7 666.3,1308.7 667.5,1310.2 668.7,1310.8 669.9,1309.7 671.0,1308.8 672.2,1312.5 673.4,1313.9 674.6,1316.6 675.8,1319.6 677.0,1321.4 678.2,1318.9 679.4,1318.4 680.5,1317.0 681.7,1315.7 682.9,1314.1 684.1,1312.7 685.3,1309.5 686.5,1304.7 687.7,1302.6 688.9,1299.3 690.0,1296.4 691.2,1293.9 692.4,1295.1 693.6,1296.6 694.8,1300.4 696.0,1302.1 697.2,1306.0 698.4,1306.0 699.5,1306.0 700.7,1305.5 701.9,1307.1 703.1,1307.7 704.3,1308.8 705.5,1311.1 706.7,1313.8 707.9,1315.7 709.0,1316.2 710.2,1319.4 711.4,1320.1 712.6,1319.7 713.8,1318.4 715.0,1318.7 716.2,1318.8 717.4,1316.8 718.6,1318.3 719.7,1320.3 720.9,1321.0 722.1,1321.9 723.3,1322.0 724.5,1319.3 725.7,1318.6 726.9,1316.7 728.1,1314.9 729.2,1313.4 730.4,1312.5 731.6,1311.4 732.8,1310.3 734.0,1307.3 735.2,1307.9 736.4,1306.9 737.6,1306.6 738.7,1309.1 739.9,1311.3 741.1,1312.7 742.3,1315.1 743.5,1317.9 744.7,1318.5 745.9,1321.5 747.1,1323.4 748.2,1326.9 749.4,1329.0 750.6,1331.2 751.8,1331.7 753.0,1331.9 754.2,1332.5 755.4,1332.5 756.6,1333.6 757.7,1333.2 758.9,1334.7 760.1,1333.9 761.3,1333.1 762.5,1331.6 763.7,1332.0 764.9,1329.5 766.1,1327.8 767.2,1328.9 768.4,1327.6 769.6,1328.8 770.8,1329.3 772.0,1331.0 773.2,1329.4 774.4,1331.8 775.6,1333.5 776.8,1334.1 777.9,1333.8 779.1,1335.4 780.3,1335.0 781.5,1331.7 782.7,1329.7 783.9,1328.5 785.1,1326.5 786.3,1326.0 787.4,1325.6 788.6,1324.7 789.8,1324.3 791.0,1324.6 792.2,1323.8 793.4,1322.6 794.6,1324.7 795.8,1322.1 796.9,1318.7 798.1,1318.3 799.3,1316.9 800.5,1315.0 801.7,1316.0 802.9,1317.9 804.1,1319.2 805.3,1321.6 806.4,1323.1 807.6,1324.1 808.8,1325.0 810.0,1321.7 811.2,1319.6 812.4,1319.0 813.6,1319.9 814.8,1320.1 815.9,1322.2 817.1,1324.2 818.3,1324.1 819.5,1322.6 820.7,1322.6 821.9,1321.9 823.1,1321.7 824.3,1322.8 825.4,1324.4 826.6,1325.7 827.8,1328.9 829.0,1331.7 830.2,1334.3 831.4,1335.5 832.6,1335.5 833.8,1333.4 835.0,1329.4 836.1,1327.0 837.3,1325.8 838.5,1323.3 839.7,1323.1 840.9,1323.9 842.1,1326.2 843.3,1328.1 844.5,1329.1 845.6,1326.6 846.8,1323.8 848.0,1321.5 849.2,1319.1 850.4,1316.6 851.6,1313.3 852.8,1312.4 854.0,1307.0 855.1,1303.0 856.3,1304.1 857.5,1306.9 858.7,1307.4 859.9,1309.6 861.1,1312.2 862.3,1313.4 863.5,1314.0 864.6,1315.3 865.8,1313.0 867.0,1312.5 868.2,1310.8 869.4,1308.5 870.6,1307.0 871.8,1307.4 873.0,1307.5 874.1,1310.0 875.3,1311.4 876.5,1310.6 877.7,1309.8 878.9,1308.0 880.1,1305.3 881.3,1306.8 882.5,1308.6 883.6,1309.2 884.8,1312.1 886.0,1314.5 887.2,1313.5 888.4,1312.2 889.6,1313.4 890.8,1311.8 892.0,1309.9 893.2,1311.0 894.3,1311.8 895.5,1310.5 896.7,1311.0 897.9,1312.5 899.1,1315.1 900.3,1316.7 901.5,1319.5 902.7,1321.0 903.8,1322.4 905.0,1320.5 906.2,1319.7 907.4,1321.9 908.6,1320.3 909.8,1318.7 911.0,1319.9 912.2,1320.3 913.3,1318.3 914.5,1316.4 915.7,1316.6 916.9,1313.9 918.1,1310.2 919.3,1309.7 920.5,1312.8 921.7,1311.4 922.8,1312.0 924.0,1315.3 925.2,1313.3 926.4,1312.9 927.6,1316.1 928.8,1317.8 930.0,1318.8 931.2,1321.0 932.3,1320.7 933.5,1318.3 934.7,1315.4 935.9,1315.6 937.1,1314.0 938.3,1311.9 939.5,1309.0 940.7,1306.9 941.8,1303.3 943.0,1299.6 944.2,1296.1 945.4,1294.2 946.6,1294.4 947.8,1292.4 949.0,1294.9 950.2,1297.9 951.4,1301.1 952.5,1302.4 953.7,1306.2 954.9,1307.7 956.1,1311.8 957.3,1314.6 958.5,1319.7 959.7,1323.8 960.9,1329.0 962.0,1331.8 963.2,1335.4 964.4,1336.6 965.6,1337.7 966.8,1335.3 968.0,1333.3 969.2,1332.0 970.4,1331.7 971.5,1327.9 972.7,1324.8 973.9,1320.9 975.1,1317.8 976.3,1312.2 977.5,1311.5 978.7,1310.6 979.9,1311.5 981.0,1311.7 982.2,1314.1 983.4,1313.2 984.6,1314.7 985.8,1314.7 987.0,1315.5 988.2,1314.1 989.4,1313.4 990.5,1312.2 991.7,1313.1 992.9,1312.4 994.1,1312.2 995.3,1313.6 996.5,1313.6 997.7,1311.6 998.9,1312.8 1000.0,1316.6 1001.2,1315.1 1002.4,1317.3 1003.6,1321.7 1004.8,1322.7 1006.0,1322.2 1007.2,1325.4 1008.4,1327.0 1009.6,1326.9 1010.7,1326.9 1011.9,1325.3 1013.1,1323.5 1014.3,1321.2 1015.5,1319.6 1016.7,1316.3 1017.9,1315.8 1019.1,1315.9 1020.2,1317.8 1021.4,1319.1 1022.6,1323.0 1023.8,1324.5 1025.0,1327.4 1026.2,1328.6 1027.4,1331.1 1028.6,1331.0 1029.7,1331.8 1030.9,1328.9 1032.1,1328.3 1033.3,1327.1 1034.5,1325.0 1035.7,1321.9 1036.9,1320.0 1038.1,1317.3 1039.2,1314.2 1040.4,1312.4 1041.6,1310.8 1042.8,1306.9 1044.0,1301.9 1045.2,1297.9 1046.4,1296.0 1047.6,1293.2 1048.7,1297.2 1049.9,1300.6 1051.1,1304.6 1052.3,1307.0 1053.5,1310.0 1054.7,1310.1 1055.9,1311.7 1057.1,1314.1 1058.2,1316.1 1059.4,1316.7 1060.6,1319.9 1061.8,1324.0 1063.0,1326.2 1064.2,1328.3 1065.4,1332.8 1066.6,1331.7 1067.8,1329.6 1068.9,1327.3 1070.1,1325.7 1071.3,1322.5 1072.5,1319.1 1073.7,1316.5 1074.9,1314.8 1076.1,1312.6 1077.3,1311.4 1078.4,1311.7 1079.6,1308.6 1080.8,1307.7 1082.0,1309.9 1083.2,1311.0 1084.4,1312.5 1085.6,1314.5 1086.8,1316.3 1087.9,1317.2 1089.1,1322.2 1090.3,1325.3 1091.5,1329.7 1092.7,1331.3 1093.9,1332.1 1095.1,1331.2 1096.3,1330.6 1097.4,1329.6 1098.6,1328.9 1099.8,1326.3 1101.0,1324.9 1102.2,1322.8 1103.4,1320.2 1104.6,1316.1 1105.8,1314.2 1106.9,1313.9 1108.1,1315.9 1109.3,1318.7 1110.5,1322.5 1111.7,1325.2 1112.9,1327.6 1114.1,1331.7 1115.3,1335.6 1116.4,1338.8 1117.6,1342.7 1118.8,1345.0 1120.0,1344.4 1121.2,1341.2 1122.4,1337.2 1123.6,1333.5 1124.8,1330.3 1126.0,1328.2 1127.1,1323.5 1128.3,1319.1 1129.5,1315.6 1130.7,1310.2 1131.9,1305.3 1133.1,1302.9 1134.3,1301.1 1135.5,1299.6 1136.6,1300.5 1137.8,1302.5 1139.0,1303.6 1140.2,1305.4 1141.4,1307.5 1142.6,1310.0 1143.8,1311.6 1145.0,1313.7 1146.1,1314.4 1147.3,1314.4 1148.5,1314.2 1149.7,1311.9 1150.9,1308.9 1152.1,1307.0 1153.3,1306.3 1154.5,1306.8 1155.6,1307.8 1156.8,1309.2 1158.0,1312.4 1159.2,1313.4 1160.4,1314.7 1161.6,1315.2 1162.8,1314.7 1164.0,1314.7 1165.1,1313.0 1166.3,1309.6 1167.5,1307.6 1168.7,1307.0 1169.9,1302.6 1171.1,1301.7 1172.3,1298.1 1173.5,1295.6 1174.6,1291.3 1175.8,1288.9 1177.0,1285.4 1178.2,1283.3 1179.4,1281.9 1180.6,1282.4 1181.8,1284.1 1183.0,1285.4 1184.2,1287.2 1185.3,1287.2 1186.5,1287.7 1187.7,1286.5 1188.9,1288.3 1190.1,1290.6 1191.3,1293.1 1192.5,1297.0 1193.7,1301.5 1194.8,1303.0 1196.0,1306.1 1197.2,1309.9 1198.4,1311.7 1199.6,1312.2 1200.8,1313.5 1202.0,1312.1 1203.2,1312.0 1204.3,1311.9 1205.5,1311.5 1206.7,1310.3 1207.9,1309.1 1209.1,1309.2 1210.3,1308.8 1211.5,1310.6 1212.7,1311.6 1213.8,1313.8 1215.0,1312.5 1216.2,1312.4 1217.4,1311.1 1218.6,1311.2 1219.8,1312.9 1221.0,1316.0 1222.2,1317.6 1223.3,1317.3 1224.5,1317.8 1225.7,1318.9 1226.9,1319.7 1228.1,1321.9 1229.3,1324.0 1230.5,1324.2 1231.7,1323.2 1232.8,1323.6 1234.0,1320.2 1235.2,1318.4 1236.4,1318.7 1237.6,1314.9 1238.8,1311.3 1240.0,1310.3 1241.2,1306.8 1242.3,1301.2 1243.5,1300.0 1244.7,1297.5 1245.9,1296.6 1247.1,1298.3 1248.3,1300.3 1249.5,1300.7 1250.7,1299.7 1251.9,1302.2 1253.0,1305.3 1254.2,1307.9 1255.4,1307.2 1256.6,1308.1 1257.8,1303.4 1259.0,1299.3 1260.2,1298.0 1261.4,1296.4 1262.5,1294.0 1263.7,1296.0 1264.9,1298.2 1266.1,1296.8 1267.3,1298.6 1268.5,1300.2 1269.7,1298.2 1270.9,1297.9 1272.0,1298.1 1273.2,1298.3 1274.4,1297.8 1275.6,1297.0 1276.8,1295.5 1278.0,1294.2 1279.2,1293.1 1280.4,1292.0 1281.5,1292.6 1282.7,1292.0 1283.9,1293.0 1285.1,1293.9 1286.3,1294.2 1287.5,1295.1 1288.7,1295.5 1289.9,1295.8 1291.0,1298.2 1292.2,1300.6 1293.4,1302.7 1294.6,1305.4 1295.8,1305.7 1297.0,1305.2 1298.2,1307.2 1299.4,1307.9 1300.5,1307.3 1301.7,1309.8 1302.9,1309.6 1304.1,1309.5 1305.3,1308.4 1306.5,1310.1 1307.7,1308.6 1308.9,1308.2 1310.1,1308.7 1311.2,1312.7 1312.4,1313.3 1313.6,1317.6 1314.8,1322.3 1316.0,1324.7 1317.2,1324.3 1318.4,1323.3 1319.6,1320.0 1320.7,1317.4 1321.9,1314.1 1323.1,1312.5 1324.3,1308.9 1325.5,1305.1 1326.7,1301.4 1327.9,1301.5 1329.1,1299.9 1330.2,1304.8 1331.4,1308.5 1332.6,1311.3 1333.8,1312.1 1335.0,1315.4 1336.2,1314.7 1337.4,1315.6 1338.6,1319.0 1339.7,1321.7 1340.9,1324.2 1342.1,1327.3 1343.3,1330.7 1344.5,1330.8 1345.7,1334.3 1346.9,1337.8 1348.1,1338.7 1349.2,1340.1 1350.4,1342.3 1351.6,1342.9 1352.8,1342.1 1354.0,1343.4 1355.2,1342.6 1356.4,1341.1 1357.6,1338.9 1358.7,1336.8 1359.9,1333.7 1361.1,1333.3 1362.3,1331.8 1363.5,1329.5 1364.7,1327.0 1365.9,1327.9 1367.1,1323.9 1368.3,1322.9 1369.4,1321.3 1370.6,1322.6 1371.8,1319.5 1373.0,1319.2 1374.2,1316.1 1375.4,1314.8 1376.6,1314.5 1377.8,1315.3 1378.9,1316.2 1380.1,1317.0 1381.3,1317.3 1382.5,1316.8 1383.7,1319.1 1384.9,1320.7 1386.1,1322.9 1387.3,1325.1 1388.4,1326.9 1389.6,1326.2 1390.8,1325.8 1392.0,1326.1 1393.2,1325.4 1394.4,1323.5 1395.6,1324.1 1396.8,1324.3 1397.9,1325.1 1399.1,1325.1 1400.3,1326.0 1401.5,1326.7 1402.7,1326.9 1403.9,1323.9 1405.1,1323.0 1406.3,1321.0 1407.4,1319.5 1408.6,1316.6 1409.8,1317.8 1411.0,1317.6 1412.2,1316.0 1413.4,1313.4 1414.6,1313.8 1415.8,1312.0 1416.9,1311.0 1418.1,1310.9 1419.3,1310.8 1420.5,1309.3 1421.7,1308.9 1422.9,1309.0 1424.1,1308.1 1425.3,1308.9 1426.5,1308.7 1427.6,1307.0 1428.8,1307.0 1430.0,1308.2 1431.2,1309.7 1432.4,1311.1 1433.6,1313.7 1434.8,1313.7 1436.0,1315.4 1437.1,1313.1 1438.3,1313.7 1439.5,1314.0 1440.7,1314.4 1441.9,1313.4 1443.1,1317.4 1444.3,1319.6 1445.5,1319.0 1446.6,1318.8 1447.8,1319.3 1449.0,1318.5 1450.2,1315.1 1451.4,1313.6 1452.6,1311.7 1453.8,1311.3 1455.0,1308.5 1456.1,1306.3 1457.3,1305.6 1458.5,1306.6 1459.7,1306.5 1460.9,1308.4 1462.1,1312.3 1463.3,1315.2 1464.5,1317.4 1465.6,1319.5 1466.8,1322.2 1468.0,1323.3 1469.2,1324.6 1470.4,1326.5 1471.6,1328.7 1472.8,1327.7 1474.0,1326.5 1475.1,1323.6 1476.3,1319.0 1477.5,1317.3 1478.7,1314.0 1479.9,1311.3 1481.1,1307.8 1482.3,1308.8 1483.5,1305.3 1484.7,1303.1 1485.8,1301.1 1487.0,1300.5 1488.2,1295.6 1489.4,1293.0 1490.6,1292.8 1491.8,1292.6 1493.0,1292.3 1494.2,1295.0 1495.3,1297.6 1496.5,1297.0 1497.7,1298.2 1498.9,1298.4 1500.1,1298.3 1501.3,1298.0 1502.5,1299.1 1503.7,1299.8 1504.8,1302.8 1506.0,1303.6 1507.2,1304.4 1508.4,1305.4 1509.6,1305.7 1510.8,1305.4 1512.0,1307.2 1513.2,1310.0 1514.3,1312.3 1515.5,1312.1 1516.7,1313.5 1517.9,1314.7 1519.1,1315.8 1520.3,1319.3 1521.5,1322.2 1522.7,1325.2 1523.8,1325.3 1525.0,1325.9 1526.2,1322.7 1527.4,1321.7 1528.6,1320.2 1529.8,1318.9 1531.0,1318.5 1532.2,1317.6 1533.3,1315.8 1534.5,1313.9 1535.7,1311.7 1536.9,1308.8 1538.1,1305.7 1539.3,1303.4 1540.5,1301.6 1541.7,1302.0 1542.9,1303.3 1544.0,1305.2 1545.2,1307.5 1546.4,1309.0 1547.6,1309.4 1548.8,1309.5 1550.0,1310.6 1551.2,1309.8 1552.4,1311.4 1553.5,1313.3 1554.7,1315.6 1555.9,1317.3 1557.1,1317.4 1558.3,1315.0 1559.5,1314.2 1560.7,1311.2 1561.9,1309.9 1563.0,1309.5 1564.2,1312.2 1565.4,1314.1 1566.6,1317.7 1567.8,1317.7 1569.0,1319.0 1570.2,1319.0 1571.4,1321.2 1572.5,1320.7 1573.7,1320.5 1574.9,1321.4 1576.1,1321.2 1577.3,1319.0 1578.5,1318.4 1579.7,1319.7 1580.9,1318.6 1582.0,1313.6 1583.2,1312.8 1584.4,1310.4 1585.6,1307.9 1586.8,1307.1 1588.0,1307.5 1589.2,1306.3 1590.4,1309.4 1591.5,1310.2 1592.7,1309.8 1593.9,1311.3 1595.1,1313.5 1596.3,1311.0 1597.5,1311.8 1598.7,1310.2 1599.9,1311.6 1601.1,1311.6 1602.2,1314.7 1603.4,1314.8 1604.6,1317.9 1605.8,1318.9 1607.0,1320.3 1608.2,1320.2 1609.4,1321.2 1610.6,1321.4 1611.7,1321.3 1612.9,1322.0 1614.1,1323.3 1615.3,1325.2 1616.5,1327.0 1617.7,1328.4 1618.9,1329.7 1620.1,1331.0 1621.2,1329.4 1622.4,1331.3 1623.6,1332.5 1624.8,1330.8 1626.0,1332.3 1627.2,1333.3 1628.4,1331.2 1629.6,1330.8 1630.7,1331.4 1631.9,1329.2 1633.1,1330.8 1634.3,1331.2 1635.5,1331.8 1636.7,1332.2 1637.9,1331.9 1639.1,1331.2 1640.2,1332.2 1641.4,1330.8 1642.6,1331.6 1643.8,1332.6 1645.0,1330.3 1646.2,1324.0 1647.4,1319.7 1648.6,1313.6 1649.7,1308.9 1650.9,1304.8 1652.1,1302.4 1653.3,1300.3 1654.5,1300.5 1655.7,1300.9 1656.9,1304.8 1658.1,1305.0 1659.2,1306.3 1660.4,1309.7 1661.6,1311.1 1662.8,1310.0 1664.0,1311.8 1665.2,1311.3 1666.4,1307.4 1667.6,1306.7 1668.8,1304.3 1669.9,1302.7 1671.1,1300.5 1672.3,1299.0 1673.5,1297.9 1674.7,1302.8 1675.9,1306.8 1677.1,1309.7 1678.3,1312.8 1679.4,1317.5 1680.6,1320.6 1681.8,1324.8 1683.0,1329.3 1684.2,1333.3 1685.4,1334.6 1686.6,1335.1 1687.8,1333.5 1688.9,1332.7 1690.1,1328.0 1691.3,1326.9 1692.5,1325.6 1693.7,1323.1 1694.9,1319.4 1696.1,1320.8 1697.3,1320.0 1698.4,1317.3 1699.6,1317.6 1700.8,1317.6 1702.0,1315.7 1703.2,1313.6 1704.4,1310.8 1705.6,1310.4 1706.8,1309.5 1707.9,1309.0 1709.1,1308.6 1710.3,1311.4 1711.5,1308.5 1712.7,1306.6 1713.9,1305.6 1715.1,1307.1 1716.3,1305.8 1717.4,1306.7 1718.6,1306.8 1719.8,1309.2 1721.0,1308.6 1722.2,1310.4 1723.4,1312.0 1724.6,1313.7 1725.8,1314.0 1727.0,1316.9 1728.1,1319.2 1729.3,1322.3 1730.5,1324.2 1731.7,1326.3 1732.9,1327.8 1734.1,1328.6 1735.3,1327.6 1736.5,1328.2 1737.6,1327.8 1738.8,1326.8 1740.0,1326.0 1741.2,1321.8 1742.4,1320.0 1743.6,1316.9 1744.8,1313.5 1746.0,1308.6 1747.1,1308.8 1748.3,1309.7 1749.5,1309.9 1750.7,1309.8 1751.9,1309.8 1753.1,1309.1 1754.3,1307.5 1755.5,1306.9 1756.6,1308.5 1757.8,1311.4 1759.0,1313.7 1760.2,1313.3 1761.4,1315.7 1762.6,1317.7 1763.8,1318.1 1765.0,1319.8 1766.1,1322.6 1767.3,1326.5 1768.5,1327.4 1769.7,1330.0 1770.9,1327.7 1772.1,1325.4 1773.3,1320.4 1774.5,1318.8 1775.6,1316.7 1776.8,1317.1 1778.0,1315.1 1779.2,1314.4 1780.4,1310.8 1781.6,1307.7 1782.8,1304.9 1784.0,1303.3 1785.2,1303.7 1786.3,1306.1 1787.5,1307.8 1788.7,1310.1 1789.9,1315.3 1791.1,1317.8 1792.3,1322.6 1793.5,1326.6 1794.7,1329.1 1795.8,1328.5 1797.0,1331.5 1798.2,1334.8 1799.4,1337.8 1800.6,1341.5 1801.8,1347.5 1803.0,1351.7 1804.2,1352.9 1805.3,1354.1 1806.5,1354.6 1807.7,1351.7 1808.9,1347.9 1810.1,1346.4 1811.3,1344.9 1812.5,1342.9 1813.7,1340.4 1814.8,1340.0 1816.0,1338.2 1817.2,1336.5 1818.4,1336.2 1819.6,1336.7 1820.8,1335.8 1822.0,1334.2 1823.2,1334.7 1824.3,1331.3 1825.5,1328.1 1826.7,1325.9 1827.9,1325.2 1829.1,1321.0 1830.3,1319.6 1831.5,1319.3 1832.7,1318.9 1833.8,1317.0 1835.0,1315.6 1836.2,1315.0 1837.4,1312.8 1838.6,1309.9 1839.8,1309.3 1841.0,1309.1 1842.2,1304.4 1843.4,1304.0 1844.5,1304.3 1845.7,1301.5 1846.9,1298.4 1848.1,1298.5 1849.3,1296.9 1850.5,1294.0 1851.7,1292.4 1852.9,1291.1 1854.0,1290.0 1855.2,1288.2 1856.4,1288.4 1857.6,1289.3 1858.8,1291.2 1860.0,1292.3 1861.2,1294.1 1862.4,1297.2 1863.5,1299.7 1864.7,1303.8 1865.9,1309.4 1867.1,1315.2 1868.3,1315.8 1869.5,1319.1 1870.7,1317.3 1871.9,1314.6 1873.0,1313.5 1874.2,1313.2 1875.4,1310.8 1876.6,1309.6 1877.8,1310.0 1879.0,1307.0 1880.2,1308.2 1881.4,1310.4 1882.5,1313.8 1883.7,1316.9 1884.9,1317.5 1886.1,1314.5 1887.3,1310.7 1888.5,1306.3 1889.7,1300.6 1890.9,1296.9 1892.0,1292.0 1893.2,1292.4 1894.4,1295.8 1895.6,1298.0 1896.8,1299.4 1898.0,1302.4 1899.2,1304.7 1900.4,1304.8 1901.6,1307.7 1902.7,1308.6 1903.9,1311.9 1905.1,1311.7 1906.3,1315.8 1907.5,1317.2 1908.7,1319.8 1909.9,1318.9 1911.1,1317.4 1912.2,1313.2 1913.4,1310.6 1914.6,1308.5 1915.8,1307.4 1917.0,1305.7 1918.2,1302.3 1919.4,1300.3 1920.6,1298.7 1921.7,1301.2 1922.9,1304.6 1924.1,1309.2 1925.3,1312.2 1926.5,1317.4 1927.7,1320.2 1928.9,1322.0 1930.1,1326.8 1931.2,1328.7 1932.4,1327.0 1933.6,1323.6 1934.8,1321.5 1936.0,1317.7 1937.2,1315.4 1938.4,1312.9 1939.6,1308.4 1940.7,1306.0 1941.9,1299.9 1943.1,1295.1 1944.3,1291.7 1945.5,1294.2 1946.7,1295.4 1947.9,1299.9 1949.1,1301.9 1950.2,1307.1 1951.4,1308.6 1952.6,1312.4 1953.8,1315.5 1955.0,1318.6 1956.2,1317.6 1957.4,1316.7 1958.6,1314.5 1959.8,1310.8 1960.9,1308.4 1962.1,1310.2 1963.3,1312.5 1964.5,1311.5 1965.7,1313.7 1966.9,1316.8 1968.1,1317.4 1969.3,1317.7 1970.4,1321.6 1971.6,1323.9 1972.8,1326.0 1974.0,1328.2 1975.2,1329.4 1976.4,1328.4 1977.6,1326.5 1978.8,1324.5 1979.9,1321.9 1981.1,1320.1 1982.3,1319.8 1983.5,1320.2 1984.7,1319.1 1985.9,1318.1 1987.1,1318.5 1988.3,1318.8 1989.4,1318.4 1990.6,1321.8 1991.8,1324.0 1993.0,1324.7 1994.2,1324.9 1995.4,1327.8 1996.6,1327.8 1997.8,1327.7 1998.9,1327.6 2000.1,1326.1 2001.3,1323.5 2002.5,1322.0 2003.7,1318.6 2004.9,1314.2 2006.1,1311.1 2007.3,1307.6 2008.4,1304.0 2009.6,1304.4 2010.8,1303.2 2012.0,1302.2 2013.2,1301.5 2014.4,1300.8 2015.6,1297.3 2016.8,1297.1 2018.0,1299.1 2019.1,1298.6 2020.3,1301.1 2021.5,1300.7 2022.7,1301.8 2023.9,1300.6 2025.1,1302.9 2026.3,1302.8 2027.5,1307.9 2028.6,1309.4 2029.8,1310.9 2031.0,1312.6 2032.2,1312.8 2033.4,1313.1 2034.6,1314.0 2035.8,1314.9 2037.0,1314.6 2038.1,1317.8 2039.3,1319.3 2040.5,1321.8 2041.7,1324.4 2042.9,1327.2 2044.1,1327.7 2045.3,1328.6 2046.5,1326.7 2047.6,1324.1 2048.8,1321.4 2050.0,1315.5 2051.2,1311.4 2052.4,1309.5 2053.6,1307.1 2054.8,1304.8 2056.0,1308.8 2057.1,1311.4 2058.3,1313.5 2059.5,1316.7 2060.7,1319.2 2061.9,1322.5 2063.1,1326.2 2064.3,1325.5 2065.5,1322.9 2066.6,1323.1 2067.8,1321.0 2069.0,1318.4 2070.2,1318.8 2071.4,1321.6 2072.6,1321.4 2073.8,1323.8 2075.0,1326.7 2076.2,1328.5 2077.3,1329.1 2078.5,1330.6 2079.7,1331.5 2080.9,1330.2 2082.1,1330.0 2083.3,1330.3 2084.5,1331.3 2085.7,1328.8 2086.8,1328.1 2088.0,1326.5 2089.2,1325.1 2090.4,1325.2 2091.6,1325.5 2092.8,1325.7 2094.0,1323.6 2095.2,1321.2 2096.3,1318.1 2097.5,1316.5 2098.7,1313.4 2099.9,1311.0 2101.1,1308.7 2102.3,1307.1 2103.5,1304.7 2104.7,1303.8 2105.8,1305.8 2107.0,1306.0 2108.2,1304.9 2109.4,1306.4 2110.6,1308.6 2111.8,1308.2 2113.0,1310.4 2114.2,1314.3 2115.3,1316.1 2116.5,1318.3 2117.7,1319.6 2118.9,1320.0 2120.1,1320.8 2121.3,1323.4 2122.5,1321.8 2123.7,1324.3 2124.8,1327.0 2126.0,1329.3 2127.2,1330.0 2128.4,1334.3 2129.6,1334.9 2130.8,1335.6 2132.0,1336.4 2133.2,1338.6 2134.3,1340.3 2135.5,1339.9 2136.7,1339.4 2137.9,1336.0 2139.1,1332.6 2140.3,1327.7 2141.5,1325.7 2142.7,1322.0 2143.9,1321.1 2145.0,1318.8 2146.2,1316.5 2147.4,1312.8 2148.6,1309.3 2149.8,1305.5 2151.0,1306.6 2152.2,1307.4 2153.4,1310.5 2154.5,1313.4 2155.7,1316.3 2156.9,1318.1 2158.1,1323.7 2159.3,1324.7 2160.5,1325.9 2161.7,1324.8 2162.9,1323.1 2164.0,1318.7 2165.2,1318.4 2166.4,1316.8 2167.6,1315.2 2168.8,1310.1 2170.0,1308.0 2171.2,1306.0 2172.4,1307.3 2173.5,1310.4 2174.7,1313.3 2175.9,1315.6 2177.1,1317.5 2178.3,1317.0 2179.5,1317.7 2180.7,1321.8 2181.9,1323.6 2183.0,1324.1 2184.2,1322.7 2185.4,1320.9 2186.6,1316.1 2187.8,1310.5 2189.0,1306.5 2190.2,1304.6 2191.4,1299.6 2192.5,1298.0 2193.7,1298.8 2194.9,1300.7 2196.1,1300.8 2197.3,1301.9 2198.5,1300.8 2199.7,1302.5 2200.9,1302.9 2202.1,1303.7 2203.2,1304.5 2204.4,1306.1 2205.6,1305.2 2206.8,1305.0 2208.0,1305.0 2209.2,1304.4 2210.4,1304.0 2211.6,1304.2 2212.7,1304.7 2213.9,1304.1 2215.1,1306.7 2216.3,1308.0 2217.5,1307.9 2218.7,1308.0 2219.9,1311.8 2221.1,1311.8 2222.2,1312.3 2223.4,1313.1 2224.6,1314.6 2225.8,1311.9 2227.0,1311.5 2228.2,1312.9 2229.4,1313.6 2230.6,1313.0 2231.7,1313.7 2232.9,1313.0 2234.1,1310.0 2235.3,1311.1 2236.5,1310.0 2237.7,1308.3 2238.9,1308.0 2240.1,1308.8 2241.2,1306.6 2242.4,1305.1 2243.6,1306.0 2244.8,1303.0 2246.0,1302.1 2247.2,1303.6 2248.4,1305.5 2249.6,1305.2 2250.7,1308.1 2251.9,1309.8 2253.1,1308.5 2254.3,1308.0 2255.5,1310.2 2256.7,1311.0 2257.9,1312.6 2259.1,1313.3 2260.3,1316.1 2261.4,1320.4 2262.6,1323.7 2263.8,1326.4 2265.0,1330.6 2266.2,1331.2 2267.4,1330.6 2268.6,1331.4 2269.8,1331.3 2270.9,1328.1 2272.1,1328.1 2273.3,1325.2 2274.5,1324.4 2275.7,1321.9 2276.9,1321.6 2278.1,1320.6 2279.3,1319.1 2280.4,1316.0 2281.6,1312.4 2282.8,1309.3 2284.0,1304.5 2285.2,1303.9 2286.4,1303.7 2287.6,1306.2 2288.8,1309.7 2289.9,1311.7 2291.1,1313.1 2292.3,1314.7 2293.5,1317.4 2294.7,1318.5 2295.9,1321.2 2297.1,1323.7 2298.3,1327.4 2299.4,1328.2 2300.6,1328.3 2301.8,1329.6 2303.0,1328.7 2304.2,1328.2 2305.4,1328.1 2306.6,1327.6 2307.8,1325.7 2308.9,1322.7 2310.1,1321.5 2311.3,1318.1 2312.5,1316.3 2313.7,1311.3 2314.9,1310.0 2316.1,1304.7 2317.3,1303.7 2318.5,1300.2 2319.6,1297.2 2320.8,1296.4 2322.0,1295.4 2323.2,1292.8 2324.4,1289.6 2325.6,1290.5 2326.8,1287.4 2328.0,1284.7 2329.1,1283.2 2330.3,1282.6 2331.5,1279.5 2332.7,1278.3 2333.9,1276.2 2335.1,1274.5 2336.3,1273.1 2337.5,1274.2 2338.6,1275.1 2339.8,1279.1 2341.0,1282.0 2342.2,1285.4 2343.4,1288.5 2344.6,1291.9 2345.8,1295.9 2347.0,1297.2 2348.1,1300.6 2349.3,1304.4 2350.5,1306.4 2351.7,1307.1 2352.9,1310.2 2354.1,1312.6 2355.3,1313.3 2356.5,1314.4 2357.6,1316.1 2358.8,1319.5 2360.0,1320.0 2361.2,1320.1 2362.4,1320.0 2363.6,1316.9 2364.8,1309.2 2366.0,1303.2 2367.1,1298.4 2368.3,1294.4 2369.5,1290.8 2370.7,1288.9 2371.9,1291.9 2373.1,1294.1 2374.3,1298.2 2375.5,1301.6 2376.7,1307.7 2377.8,1310.7 2379.0,1314.3 2380.2,1317.0 2381.4,1319.8 2382.6,1321.6 2383.8,1323.7 2385.0,1329.6 2386.2,1332.4 2387.3,1336.3 2388.5,1338.8 2389.7,1338.7 2390.9,1336.3 2392.1,1334.0 2393.3,1331.5 2394.5,1327.8 2395.7,1326.6 2396.8,1322.6 2398.0,1321.8 2399.2,1319.0 2400.4,1316.6 2401.6,1317.5 2402.8,1318.7 2404.0,1318.8 2405.2,1320.9 2406.3,1324.6 2407.5,1325.1 2408.7,1327.2 2409.9,1327.9 2411.1,1325.3 2412.3,1323.6 2413.5,1322.3 2414.7,1320.4 2415.8,1317.5 2417.0,1319.5 2418.2,1320.2 2419.4,1321.6 2420.6,1323.4 2421.8,1326.1 2423.0,1325.1 2424.2,1324.7 2425.3,1323.7 2426.5,1321.7 2427.7,1320.4 2428.9,1319.9 2430.1,1318.5 2431.3,1316.0 2432.5,1316.6 2433.7,1317.2 2434.9,1317.7 2436.0,1320.1 2437.2,1322.6 2438.4,1325.1 2439.6,1326.1 2440.8,1326.8 2442.0,1327.0 2443.2,1325.2 2444.4,1322.0 2445.5,1318.8 2446.7,1314.8 2447.9,1310.6 2449.1,1308.9 2450.3,1305.4 2451.5,1302.0 2452.7,1300.6 2453.9,1296.3 2455.0,1290.6 2456.2,1288.0 2457.4,1284.0 2458.6,1284.3 2459.8,1287.3 2461.0,1288.9 2462.2,1288.4 2463.4,1290.6 2464.5,1291.1 2465.7,1290.8 2466.9,1292.2 2468.1,1292.3 2469.3,1293.6 2470.5,1295.0 2471.7,1296.7 2472.9,1299.3 2474.0,1302.2 2475.2,1302.8 2476.4,1302.9 2477.6,1304.6 2478.8,1305.4 2480.0,1306.0 2481.2,1308.5 2482.4,1311.6 2483.5,1312.7 2484.7,1313.9 2485.9,1316.8 2487.1,1317.6 2488.3,1318.7 2489.5,1321.6 2490.7,1324.2 2491.9,1324.4 2493.1,1324.5 2494.2,1323.4 2495.4,1323.3 2496.6,1322.9 2497.8,1322.1 2499.0,1324.6 2500.2,1326.6 2501.4,1325.3 2502.6,1324.2 2503.7,1326.4 2504.9,1326.0 2506.1,1326.7 2507.3,1327.3 2508.5,1327.5 2509.7,1325.4 2510.9,1325.3 2512.1,1323.9 2513.2,1321.5 2514.4,1319.8 2515.6,1317.0 2516.8,1313.2 2518.0,1309.8 2519.2,1308.9 2520.4,1306.6 2521.6,1303.6 2522.7,1301.7 2523.9,1300.9 2525.1,1299.0 2526.3,1299.4 2527.5,1302.6 2528.7,1303.7 2529.9,1306.3 2531.1,1308.1 2532.2,1309.1 2533.4,1308.7 2534.6,1312.2 2535.8,1313.0 2537.0,1317.0 2538.2,1318.8 2539.4,1322.0 2540.6,1322.1 2541.7,1323.8 2542.9,1321.8 2544.1,1323.9 2545.3,1324.2 2546.5,1324.9 2547.7,1323.8 2548.9,1327.1 2550.1,1327.9 2551.3,1330.5 2552.4,1330.5 2553.6,1333.8 2554.8,1332.6 2556.0,1332.4 2557.2,1331.1 2558.4,1331.4 2559.6,1328.7 2560.8,1328.2 2561.9,1326.4 2563.1,1323.8 2564.3,1323.2 2565.5,1319.3 2566.7,1316.6 2567.9,1311.8 2569.1,1310.0 2570.3,1306.6 2571.4,1303.9 2572.6,1298.3 2573.8,1297.5 2575.0,1292.7 2576.2,1287.8 2577.4,1285.5 2578.6,1283.6 2579.8,1281.1 2580.9,1282.7 2582.1,1284.7 2583.3,1287.5 2584.5,1290.6 2585.7,1293.9 2586.9,1297.8 2588.1,1302.0 2589.3,1305.1 2590.4,1307.6 2591.6,1310.5 2592.8,1313.8 2594.0,1315.3 2595.2,1317.1 2596.4,1319.6 2597.6,1321.6 2598.8,1323.3 2599.9,1324.6 2601.1,1326.9 2602.3,1326.7 2603.5,1326.1 2604.7,1324.7 2605.9,1324.8 2607.1,1323.3 2608.3,1323.8 2609.4,1323.1" fill="none" stroke="#AA3377" stroke-width="16.7" stroke-linejoin="round" stroke-linecap="butt"/>
<g clip-path="url(#c3)" fill="#4477AA" fill-opacity="0.5" stroke="#000" stroke-opacity="0.5" stroke-width="4.17" stroke-linejoin="miter">
<rect x="2733.5" y="382.00" width="2.37" height="5.0"/>
<rect x="2733.5" y="402.00" width="2.37" height="5.0"/>
<rect x="2733.5" y="407.00" width="7.12" height="5.0"/>
<rect x="2733.5" y="412.00" width="9.50" height="5.0"/>
<rect x="2733.5" y="417.00" width="11.87" height="5.0"/>
<rect x="2733.5" y="422.00" width="28.49" height="5.0"/>
<rect x="2733.5" y="427.00" width="28.49" height="5.0"/>
<rect x="2733.5" y="432.00" width="40.37" height="5.0"/>
<rect x="2733.5" y="437.00" width="52.24" height="5.0"/>
<rect x="2733.5" y="442.00" width="87.86" height="5.0"/>
<rect x="2733.5" y="447.00" width="92.61" height="5.0"/>
<rect x="2733.5" y="452.00" width="132.97" height="5.0"/>
<rect x="2733.5" y="457.00" width="130.60" height="5.0"/>
<rect x="2733.5" y="462.00" width="173.34" height="5.0"/>
<rect x="2733.5" y="467.00" width="239.82" height="5.0"/>
<rect x="2733.5" y="472.00" width="292.06" height="5.0"/>
<rect x="2733.5" y="477.00" width="299.19" height="5.0"/>
<rect x="2733.5" y="482.00" width="322.93" height="5.0"/>
<rect x="2733.5" y="487.00" width="344.30" height="5.0"/>
<rect x="2733.5" y="492.00" width="330.06" height="5.0"/>
<rect x="2733.5" y="497.00" width="308.69" height="5.0"/>
<rect x="2733.5" y="502.00" width="277.82" height="5.0"/>
<rect x="2733.5" y="507.00" width="292.06" height="5.0"/>
<rect x="2733.5" y="512.00" width="273.07" height="5.0"/>
<rect x="2733.5" y="517.00" width="211.33" height="5.0"/>
<rect x="2733.5" y="522.00" width="187.59" height="5.0"/>
<rect x="2733.5" y="527.00" width="156.72" height="5.0"/>
<rect x="2733.5" y="532.00" width="113.98" height="5.0"/>
<rect x="2733.5" y="537.00" width="75.98" height="5.0"/>
<rect x="2733.5" y="542.00" width="68.86" height="5.0"/>
<rect x="2733.5" y="547.00" width="49.86" height="5.0"/>
<rect x="2733.5" y="552.00" width="37.99" height="5.0"/>
<rect x="2733.5" y="557.00" width="23.75" height="5.0"/>
<rect x="2733.5" y="562.00" width="19.00" height="5.0"/>
<rect x="2733.5" y="567.00" width="19.00" height="5.0"/>
<rect x="2733.5" y="577.00" width="2.37" height="5.0"/>
<rect x="2733.5" y="587.00" width="2.37" height="5.0"/>
<rect x="2733.5" y="597.00" width="2.37" height="5.0"/>
</g>
<g clip-path="url(#c4)" fill="#AA3377" fill-opacity="0.5" stroke="#000" stroke-opacity="0.5" stroke-width="4.17" stroke-linejoin="miter">
<rect x="2733.5" y="1196.80" width="2.37" height="5.35"/>
<rect x="2733.5" y="1202.15" width="7.12" height="5.35"/>
<rect x="2733.5" y="1207.50" width="7.12" height="5.35"/>
<rect x="2733.5" y="1212.85" width="9.50" height="5.35"/>
<rect x="2733.5" y="1218.20" width="2.37" height="5.35"/>
<rect x="2733.5" y="1223.55" width="7.12" height="5.35"/>
<rect x="2733.5" y="1228.90" width="9.50" height="5.35"/>
<rect x="2733.5" y="1234.25" width="23.75" height="5.35"/>
<rect x="2733.5" y="1239.60" width="21.37" height="5.35"/>
<rect x="2733.5" y="1244.95" width="42.74" height="5.35"/>
<rect x="2733.5" y="1250.30" width="68.86" height="5.35"/>
<rect x="2733.5" y="1255.65" width="75.98" height="5.35"/>
<rect x="2733.5" y="1261.00" width="111.60" height="5.35"/>
<rect x="2733.5" y="1266.35" width="128.22" height="5.35"/>
<rect x="2733.5" y="1271.70" width="151.97" height="5.35"/>
<rect x="2733.5" y="1277.05" width="182.84" height="5.35"/>
<rect x="2733.5" y="1282.40" width="211.33" height="5.35"/>
<rect x="2733.5" y="1287.75" width="208.96" height="5.35"/>
<rect x="2733.5" y="1293.10" width="246.95" height="5.35"/>
<rect x="2733.5" y="1298.45" width="299.19" height="5.35"/>
<rect x="2733.5" y="1303.80" width="296.81" height="5.35"/>
<rect x="2733.5" y="1309.15" width="303.94" height="5.35"/>
<rect x="2733.5" y="1314.50" width="299.19" height="5.35"/>
<rect x="2733.5" y="1319.85" width="313.43" height="5.35"/>
<rect x="2733.5" y="1325.20" width="246.95" height="5.35"/>
<rect x="2733.5" y="1330.55" width="256.45" height="5.35"/>
<rect x="2733.5" y="1335.90" width="206.58" height="5.35"/>
<rect x="2733.5" y="1341.25" width="182.84" height="5.35"/>
<rect x="2733.5" y="1346.60" width="166.22" height="5.35"/>
<rect x="2733.5" y="1351.95" width="118.73" height="5.35"/>
<rect x="2733.5" y="1357.30" width="104.48" height="5.35"/>
<rect x="2733.5" y="1362.65" width="104.48" height="5.35"/>
<rect x="2733.5" y="1368.00" width="80.73" height="5.35"/>
<rect x="2733.5" y="1373.35" width="52.24" height="5.35"/>
<rect x="2733.5" y="1378.70" width="64.11" height="5.35"/>
<rect x="2733.5" y="1384.05" width="33.24" height="5.35"/>
<rect x="2733.5" y="1389.40" width="19.00" height="5.35"/>
<rect x="2733.5" y="1394.75" width="26.12" height="5.35"/>
<rect x="2733.5" y="1400.10" width="16.62" height="5.35"/>
<rect x="2733.5" y="1405.45" width="11.87" height="5.35"/>
<rect x="2733.5" y="1410.80" width="7.12" height="5.35"/>
<rect x="2733.5" y="1416.15" width="4.75" height="5.35"/>
<rect x="2733.5" y="1421.50" width="9.50" height="5.35"/>
<rect x="2733.5" y="1426.85" width="7.12" height="5.35"/>
</g>
<path d="M233.95,827.15v-33.40M233.95,223.30v33.40M328.97,827.15v-17.40M328.97,223.30v17.40M423.99,827.15v-17.40M423.99,223.30v17.40M519.01,827.15v-17.40M519.01,223.30v17.40M614.03,827.15v-17.40M614.03,223.30v17.40M709.05,827.15v-33.40M709.05,223.30v33.40M804.07,827.15v-17.40M804.07,223.30v17.40M899.09,827.15v-17.40M899.09,223.30v17.40M994.11,827.15v-17.40M994.11,223.30v17.40M1089.13,827.15v-17.40M1089.13,223.30v17.40M1184.15,827.15v-33.40M1184.15,223.30v33.40M1279.17,827.15v-17.40M1279.17,223.30v17.40M1374.19,827.15v-17.40M1374.19,223.30v17.40M1469.21,827.15v-17.40M1469.21,223.30v17.40M1564.23,827.15v-17.40M1564.23,223.30v17.40M1659.25,827.15v-33.40M1659.25,223.30v33.40M1754.27,827.15v-17.40M1754.27,223.30v17.40M1849.29,827.15v-17.40M1849.29,223.30v17.40M1944.31,827.15v-17.40M1944.31,223.30v17.40M2039.33,827.15v-17.40M2039.33,223.30v17.40M2134.35,827.15v-33.40M2134.35,223.30v33.40M2229.37,827.15v-17.40M2229.37,223.30v17.40M2324.39,827.15v-17.40M2324.39,223.30v17.40M2419.41,827.15v-17.40M2419.41,223.30v17.40M2514.43,827.15v-17.40M2514.43,223.30v17.40M2609.45,827.15v-33.40M2609.45,223.30v33.40M2852.22,827.15v-17.40M2852.22,223.30v17.40M2970.95,827.15v-17.40M2970.95,223.30v17.40M3089.68,827.15v-17.40M3089.68,223.30v17.40M233.95,344.07h17.40M2611.50,344.07h-17.40M2733.50,344.07h17.40M3208.40,344.07h-17.40M233.95,464.84h17.40M2611.50,464.84h-17.40M2733.50,464.84h17.40M3208.40,464.84h-17.40M233.95,585.61h17.40M2611.50,585.61h-17.40M2733.50,585.61h17.40M3208.40,585.61h-17.40M233.95,706.38h17.40M2611.50,706.38h-17.40M2733.50,706.38h17.40M3208.40,706.38h-17.40M233.95,1550.80v-33.40M233.95,946.90v33.40M328.97,1550.80v-17.40M328.97,946.90v17.40M423.99,1550.80v-17.40M423.99,946.90v17.40M519.01,1550.80v-17.40M519.01,946.90v17.40M614.03,1550.80v-17.40M614.03,946.90v17.40M709.05,1550.80v-33.40M709.05,946.90v33.40M804.07,1550.80v-17.40M804.07,946.90v17.40M899.09,1550.80v-17.40M899.09,946.90v17.40M994.11,1550.80v-17.40M994.11,946.90v17.40M1089.13,1550.80v-17.40M1089.13,946.90v17.40M1184.15,1550.80v-33.40M1184.15,946.90v33.40M1279.17,1550.80v-17.40M1279.17,946.90v17.40M1374.19,1550.80v-17.40M1374.19,946.90v17.40M1469.21,1550.80v-17.40M1469.21,946.90v17.40M1564.23,1550.80v-17.40M1564.23,946.90v17.40M1659.25,1550.80v-33.40M1659.25,946.90v33.40M1754.27,1550.80v-17.40M1754.27,946.90v17.40M1849.29,1550.80v-17.40M1849.29,946.90v17.40M1944.31,1550.80v-17.40M1944.31,946.90v17.40M2039.33,1550.80v-17.40M2039.33,946.90v17.40M2134.35,1550.80v-33.40M2134.35,946.90v33.40M2229.37,1550.80v-17.40M2229.37,946.90v17.40M2324.39,1550.80v-17.40M2324.39,946.90v17.40M2419.41,1550.80v-17.40M2419.41,946.90v17.40M2514.43,1550.80v-17.40M2514.43,946.90v17.40M2609.45,1550.80v-33.40M2609.45,946.90v33.40M2852.22,1550.80v-17.40M2852.22,946.90v17.40M2970.95,1550.80v-17.40M2970.95,946.90v17.40M3089.68,1550.80v-17.40M3089.68,946.90v17.40M233.95,1067.68h17.40M2611.50,1067.68h-17.40M2733.50,1067.68h17.40M3208.40,1067.68h-17.40M233.95,1188.46h17.40M2611.50,1188.46h-17.40M2733.50,1188.46h17.40M3208.40,1188.46h-17.40M233.95,1309.24h17.40M2611.50,1309.24h-17.40M2733.50,1309.24h17.40M3208.40,1309.24h-17.40M233.95,1430.02h17.40M2611.50,1430.02h-17.40M2733.50,1430.02h17.40M3208.40,1430.02h-17.40" stroke="#000" stroke-width="2.15" fill="none"/>
<rect x="1937.3" y="252.4" width="643.7" height="100.24999999999997" rx="9.3" fill="#fff" fill-opacity="0.8" stroke="#ccc" stroke-opacity="0.8" stroke-width="4.17"/>
<path d="M1951.7,297.35H2086.2" stroke="#4477AA" stroke-width="16.7"/>
<text transform="translate(2122.68,316.60) scale(0.6352,1)" font-size="58.76" stroke="#000" stroke-width="1" stroke-linejoin="miter">Longitudinal component</text>
<rect x="1947.9" y="975.85" width="633.0999999999999" height="100.24999999999989" rx="9.3" fill="#fff" fill-opacity="0.8" stroke="#ccc" stroke-opacity="0.8" stroke-width="4.17"/>
<path d="M1962.9,1021.4H2097.1" stroke="#AA3377" stroke-width="16.7"/>
<text transform="translate(2134.83,1040.80) scale(0.6416,1)" font-size="58.76" stroke="#000" stroke-width="1" stroke-linejoin="miter">Transversal component</text>
<rect x="234.4" y="223.4" width="2377.1" height="603.7" fill="none" stroke="#000" stroke-width="3.0"/>
<rect x="2733.5" y="223.4" width="474.9000000000001" height="603.7" fill="none" stroke="#000" stroke-width="3.0"/>
<rect x="234.4" y="946.7" width="2377.1" height="604.7" fill="none" stroke="#000" stroke-width="3.0"/>
<rect x="2733.5" y="946.7" width="474.9000000000001" height="604.7" fill="none" stroke="#000" stroke-width="3.0"/>
<g filter="url(#dx)">
<text transform="translate(220.48,1626.90) scale(0.5757,1)" font-size="87.42" letter-spacing="5.21">0</text>
<text transform="translate(648.56,1626.90) scale(0.5757,1)" font-size="87.42" letter-spacing="5.21">1000</text>
<text transform="translate(1124.35,1626.90) scale(0.5757,1)" font-size="87.42" letter-spacing="5.21">2000</text>
<text transform="translate(1599.76,1626.90) scale(0.5757,1)" font-size="87.42" letter-spacing="5.21">3000</text>
<text transform="translate(2075.05,1626.90) scale(0.5757,1)" font-size="87.42" letter-spacing="5.21">4000</text>
<text transform="translate(2549.71,1626.90) scale(0.5757,1)" font-size="87.42" letter-spacing="5.21">5000</text>
<text transform="translate(2719.83,1626.90) scale(0.5757,1)" font-size="87.42" letter-spacing="5.21">0</text>
<text transform="translate(3163.37,1626.90) scale(0.5757,1)" font-size="87.42" letter-spacing="5.21">200</text>
<text transform="translate(187.65,245.00) scale(0.5757,1)" font-size="87.42" letter-spacing="5.21">1</text>
<text transform="translate(188.48,847.90) scale(0.5757,1)" font-size="87.42" letter-spacing="5.21">0</text>
<text transform="translate(188.48,968.80) scale(0.5757,1)" font-size="87.42" letter-spacing="5.21">2</text>
<text transform="translate(187.65,1571.60) scale(0.5757,1)" font-size="87.42" letter-spacing="5.21">1</text>
</g>
<g filter="url(#dx)">
<text transform="translate(1184.50,109.90) scale(0.6206,1)" font-size="107.35" >Hydrophobic Dipolar Moment</text>
<text transform="translate(1273.57,1734.70) scale(0.6195,1)" font-size="107.05" >Time (ns)</text>
<text transform="translate(2862.98,1734.30) scale(0.5875,1)" font-size="107.05" >Counts</text>
</g>
<g filter="url(#dy)">
<text transform="translate(139.10,1264.46) rotate(-90) scale(0.6136,1)" font-size="107.64" >HDM components (nm)</text>
</g>
</svg>
</body></html>
